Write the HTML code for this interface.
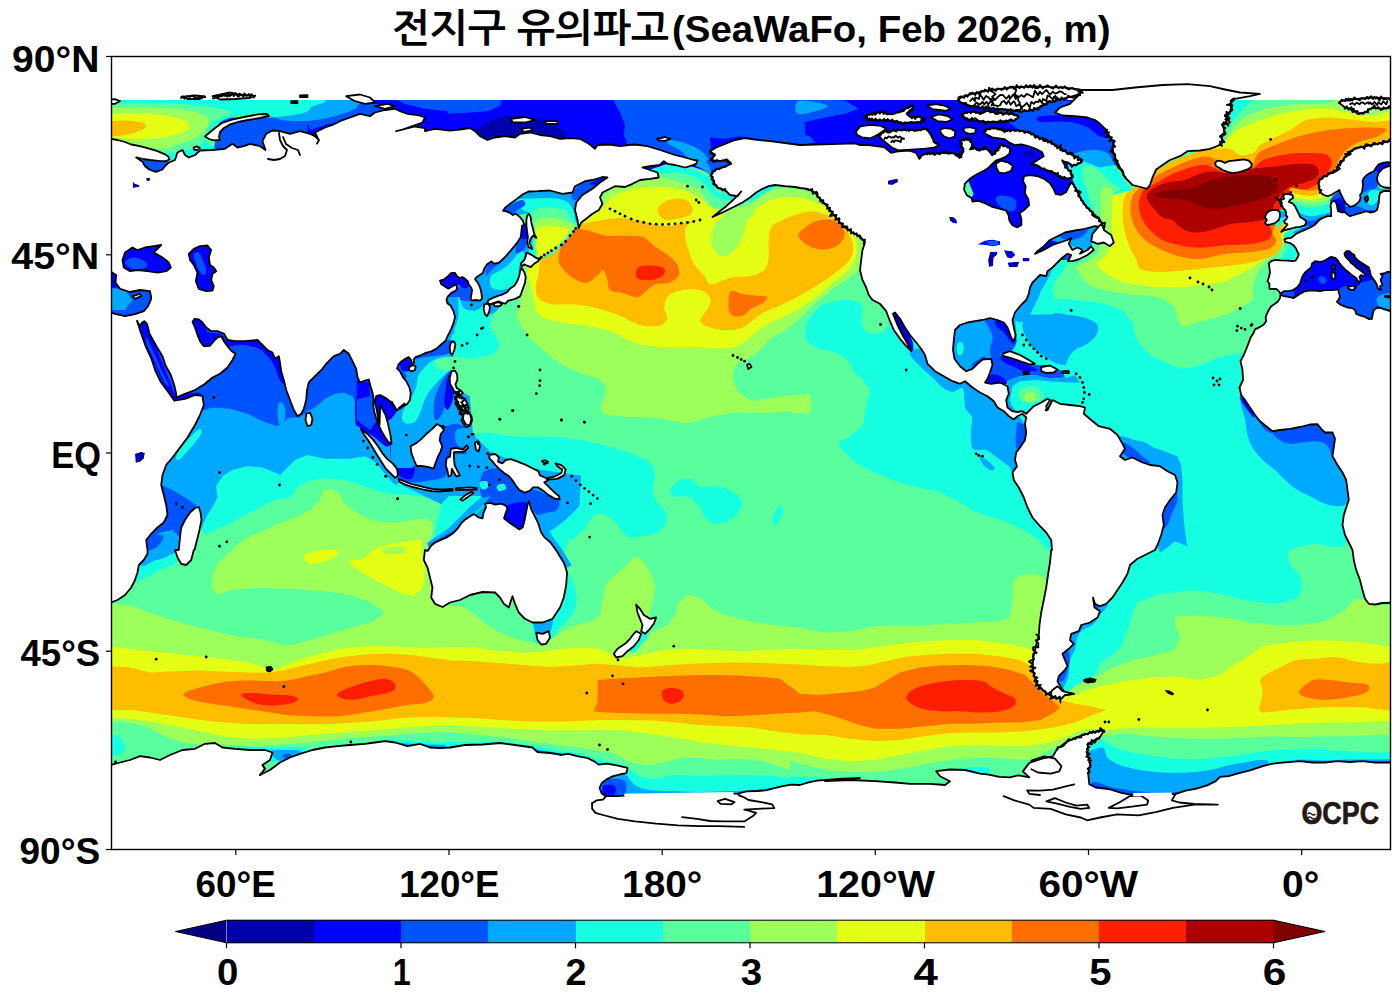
<!DOCTYPE html>
<html lang="ko"><head><meta charset="utf-8"><title>전지구 유의파고</title>
<style>
html,body{margin:0;padding:0;background:#fff;}
body{width:1400px;height:1003px;overflow:hidden;position:relative;font-family:"Liberation Sans","NanumGothic","Noto Sans CJK KR",sans-serif;}
svg{position:absolute;left:0;top:0;display:block}
text{font-family:"Liberation Sans","NanumGothic","Noto Sans CJK KR",sans-serif;font-weight:bold;fill:#000}
.ld{fill:#fff;stroke:#000;stroke-width:1.8;stroke-linejoin:round}
.ln{fill:none;stroke:#000;stroke-width:1.8;stroke-linejoin:round;stroke-linecap:round}
</style></head><body>
<svg width="1400" height="1003" viewBox="0 0 1400 1003">
<defs><clipPath id="fr"><rect x="111.5" y="56.5" width="1279.0" height="793.0"/></clipPath>
<clipPath id="dt"><rect x="111.5" y="100" width="1279.0" height="749.5"/></clipPath></defs>
<rect x="0" y="0" width="1400" height="1003" fill="#fff"/>

<g clip-path="url(#dt)" shape-rendering="geometricPrecision">
<polygon points="100.0,100.0 1400.0,100.0 1400.0,860.0 100.0,860.0" fill="#5aff9d"/>
<path d="M1225.0 97.5 C1233.3 91.7 1260.8 96.5 1265.0 97.5 C1269.2 98.5 1254.2 101.2 1250.0 103.8 C1245.8 106.2 1243.3 109.0 1240.0 112.5 C1236.7 116.0 1232.9 121.2 1230.0 125.0 C1227.1 128.8 1225.0 133.8 1222.5 135.0 C1220.0 136.2 1214.6 138.8 1215.0 132.5 C1215.4 126.2 1216.7 103.3 1225.0 97.5Z" fill="#16ffe1"/>
<path d="M1265.0 97.5 C1280.0 96.5 1330.0 96.9 1340.0 97.5 C1350.0 98.1 1331.7 100.5 1325.0 101.2 C1318.3 102.0 1308.3 101.2 1300.0 101.8 C1291.7 102.2 1282.5 102.9 1275.0 104.2 C1267.5 105.6 1260.4 107.6 1255.0 110.0 C1249.6 112.4 1245.8 115.4 1242.5 118.8 C1239.2 122.1 1237.5 126.5 1235.0 130.0 C1232.5 133.5 1229.6 139.2 1227.5 140.0 C1225.4 140.8 1222.1 137.5 1222.5 135.0 C1222.9 132.5 1227.1 128.8 1230.0 125.0 C1232.9 121.2 1236.7 116.0 1240.0 112.5 C1243.3 109.0 1245.8 106.2 1250.0 103.8 C1254.2 101.2 1250.0 98.5 1265.0 97.5Z" fill="#5aff9d"/>
<path d="M1400.0 100.0 C1406.2 120.2 1402.9 204.6 1400.0 225.0 C1397.1 245.4 1387.1 225.0 1382.5 222.5 C1377.9 220.0 1377.9 215.4 1372.5 210.0 C1367.1 204.6 1356.7 191.7 1350.0 190.0 C1343.3 188.3 1336.7 196.7 1332.5 200.0 C1328.3 203.3 1329.2 205.8 1325.0 210.0 C1320.8 214.2 1312.1 221.7 1307.5 225.0 C1302.9 228.3 1300.4 229.0 1297.5 230.0 C1294.6 231.0 1291.9 230.0 1290.0 231.2 C1288.1 232.5 1287.3 235.4 1286.2 237.5 C1285.2 239.6 1284.8 241.7 1283.8 243.8 C1282.7 245.8 1281.5 248.1 1280.0 250.0 C1278.5 251.9 1276.9 253.3 1275.0 255.0 C1273.1 256.7 1270.8 258.1 1268.8 260.0 C1266.7 261.9 1264.4 264.0 1262.5 266.2 C1260.6 268.5 1259.0 271.0 1257.5 273.8 C1256.0 276.5 1254.8 278.1 1253.8 282.5 C1252.7 286.9 1253.5 295.8 1251.2 300.0 C1249.0 304.2 1244.4 305.0 1240.0 307.5 C1235.6 310.0 1230.0 313.1 1225.0 315.0 C1220.0 316.9 1215.4 317.3 1210.0 318.8 C1204.6 320.2 1197.1 322.5 1192.5 323.8 C1187.9 325.0 1185.0 327.3 1182.5 326.2 C1180.0 325.2 1178.8 320.6 1177.5 317.5 C1176.2 314.4 1176.7 310.4 1175.0 307.5 C1173.3 304.6 1171.7 301.9 1167.5 300.0 C1163.3 298.1 1157.1 297.3 1150.0 296.2 C1142.9 295.2 1134.2 295.2 1125.0 293.8 C1115.8 292.3 1102.5 290.6 1095.0 287.5 C1087.5 284.4 1082.9 278.8 1080.0 275.0 C1077.1 271.2 1075.4 267.9 1077.5 265.0 C1079.6 262.1 1088.5 260.4 1092.5 257.5 C1096.5 254.6 1099.4 251.2 1101.2 247.5 C1103.1 243.8 1103.8 239.2 1103.8 235.0 C1103.8 230.8 1101.9 227.5 1101.2 222.5 C1100.6 217.5 1099.6 210.4 1100.0 205.0 C1100.4 199.6 1101.2 193.3 1103.8 190.0 C1106.2 186.7 1110.2 185.0 1115.0 185.0 C1119.8 185.0 1126.7 190.8 1132.5 190.0 C1138.3 189.2 1144.2 183.8 1150.0 180.0 C1155.8 176.2 1160.8 171.2 1167.5 167.5 C1174.2 163.8 1182.9 160.4 1190.0 157.5 C1197.1 154.6 1204.6 151.9 1210.0 150.0 C1215.4 148.1 1219.2 149.2 1222.5 146.2 C1225.8 143.3 1227.1 136.7 1230.0 132.5 C1232.9 128.3 1235.8 124.6 1240.0 121.2 C1244.2 117.9 1249.2 114.9 1255.0 112.5 C1260.8 110.1 1267.5 108.4 1275.0 107.0 C1282.5 105.6 1291.7 104.6 1300.0 104.0 C1308.3 103.4 1318.3 104.2 1325.0 103.5 C1331.7 102.8 1333.8 100.0 1340.0 100.0 C1346.2 100.0 1352.5 103.8 1362.5 103.8 C1372.5 103.8 1393.8 79.8 1400.0 100.0Z" fill="#9dff5a"/>
<path d="M1400.0 112.5 C1404.2 119.1 1402.9 148.8 1400.0 155.0 C1397.1 161.2 1389.6 149.2 1382.5 150.0 C1375.4 150.8 1364.2 155.0 1357.5 160.0 C1350.8 165.0 1347.1 175.0 1342.5 180.0 C1337.9 185.0 1334.6 187.1 1330.0 190.0 C1325.4 192.9 1319.2 194.2 1315.0 197.5 C1310.8 200.8 1307.9 205.8 1305.0 210.0 C1302.1 214.2 1299.8 218.8 1297.5 222.5 C1295.2 226.2 1293.3 229.6 1291.2 232.5 C1289.2 235.4 1286.9 237.9 1285.0 240.0 C1283.1 242.1 1281.7 243.3 1280.0 245.0 C1278.3 246.7 1277.1 248.1 1275.0 250.0 C1272.9 251.9 1270.0 254.2 1267.5 256.2 C1265.0 258.2 1262.7 260.0 1260.0 262.0 C1257.3 264.0 1254.2 266.2 1251.2 268.0 C1248.3 269.8 1245.4 271.5 1242.5 273.0 C1239.6 274.5 1236.7 275.6 1233.8 277.0 C1230.8 278.4 1230.6 279.8 1225.0 281.2 C1219.4 282.7 1208.3 284.5 1200.0 285.5 C1191.7 286.5 1183.3 287.4 1175.0 287.5 C1166.7 287.6 1158.3 287.1 1150.0 286.2 C1141.7 285.4 1132.5 284.8 1125.0 282.5 C1117.5 280.2 1109.8 275.8 1105.0 272.5 C1100.2 269.2 1096.5 265.0 1096.2 262.5 C1096.0 260.0 1101.5 260.0 1103.8 257.5 C1106.0 255.0 1108.5 251.2 1110.0 247.5 C1111.5 243.8 1112.3 239.6 1112.5 235.0 C1112.7 230.4 1111.5 225.0 1111.2 220.0 C1111.0 215.0 1110.8 209.8 1111.2 205.0 C1111.7 200.2 1111.5 193.8 1113.8 191.2 C1116.0 188.8 1120.6 190.6 1125.0 190.0 C1129.4 189.4 1135.0 190.0 1140.0 187.5 C1145.0 185.0 1149.6 179.0 1155.0 175.0 C1160.4 171.0 1166.7 167.1 1172.5 163.8 C1178.3 160.4 1183.8 157.6 1190.0 155.0 C1196.2 152.4 1204.6 150.1 1210.0 148.0 C1215.4 145.9 1219.2 144.5 1222.5 142.5 C1225.8 140.5 1227.1 138.5 1230.0 136.2 C1232.9 134.0 1235.4 131.2 1240.0 128.8 C1244.6 126.2 1251.7 123.5 1257.5 121.2 C1263.3 119.0 1269.6 117.0 1275.0 115.5 C1280.4 114.0 1284.2 113.1 1290.0 112.0 C1295.8 110.9 1303.3 109.5 1310.0 109.0 C1316.7 108.5 1323.3 108.4 1330.0 109.0 C1336.7 109.6 1342.5 111.4 1350.0 112.5 C1357.5 113.6 1366.7 115.5 1375.0 115.5 C1383.3 115.5 1395.8 105.9 1400.0 112.5Z" fill="#e4ff13"/>
<path d="M1400.0 122.5 C1404.6 126.8 1402.9 143.8 1400.0 147.5 C1397.1 151.2 1389.2 144.2 1382.5 145.0 C1375.8 145.8 1366.2 148.8 1360.0 152.5 C1353.8 156.2 1349.6 162.5 1345.0 167.5 C1340.4 172.5 1336.7 178.1 1332.5 182.5 C1328.3 186.9 1324.2 190.8 1320.0 193.8 C1315.8 196.7 1311.2 198.1 1307.5 200.0 C1303.8 201.9 1300.4 202.5 1297.5 205.0 C1294.6 207.5 1292.3 211.7 1290.0 215.0 C1287.7 218.3 1285.2 221.7 1283.8 225.0 C1282.3 228.3 1281.5 231.9 1281.2 235.0 C1281.0 238.1 1283.3 240.6 1282.5 243.8 C1281.7 246.9 1279.6 251.1 1276.2 253.8 C1272.9 256.4 1267.7 257.8 1262.5 259.5 C1257.3 261.2 1251.2 262.6 1245.0 263.8 C1238.8 264.9 1232.5 265.4 1225.0 266.2 C1217.5 267.1 1208.3 267.9 1200.0 268.8 C1191.7 269.6 1182.5 270.7 1175.0 271.2 C1167.5 271.8 1160.8 272.4 1155.0 272.0 C1149.2 271.6 1143.1 270.8 1140.0 268.8 C1136.9 266.8 1137.8 263.3 1136.2 260.0 C1134.7 256.7 1132.3 252.9 1130.5 248.8 C1128.7 244.6 1126.8 239.8 1125.5 235.0 C1124.2 230.2 1123.4 225.0 1123.0 220.0 C1122.6 215.0 1122.5 209.4 1123.0 205.0 C1123.5 200.6 1124.0 196.9 1126.2 193.8 C1128.5 190.6 1132.3 189.4 1136.2 186.2 C1140.2 183.1 1144.8 178.8 1150.0 175.0 C1155.2 171.2 1161.7 166.9 1167.5 163.8 C1173.3 160.6 1179.6 158.3 1185.0 156.2 C1190.4 154.2 1195.0 152.5 1200.0 151.2 C1205.0 150.0 1210.0 149.2 1215.0 148.8 C1220.0 148.3 1225.8 147.7 1230.0 148.8 C1234.2 149.8 1236.0 154.4 1240.0 155.0 C1244.0 155.6 1250.4 154.2 1253.8 152.5 C1257.1 150.8 1256.5 147.5 1260.0 145.0 C1263.5 142.5 1270.0 140.0 1275.0 137.5 C1280.0 135.0 1285.8 132.4 1290.0 130.0 C1294.2 127.6 1296.7 124.8 1300.0 123.0 C1303.3 121.2 1305.0 119.9 1310.0 119.0 C1315.0 118.1 1323.3 117.4 1330.0 117.5 C1336.7 117.6 1342.9 118.8 1350.0 119.5 C1357.1 120.2 1364.2 121.5 1372.5 122.0 C1380.8 122.5 1395.4 118.2 1400.0 122.5Z" fill="#ffbd00"/>
<path d="M1386.2 130.5 C1385.2 132.0 1380.8 135.1 1376.2 137.0 C1371.7 138.9 1363.8 139.8 1358.8 142.0 C1353.8 144.2 1349.6 147.0 1346.2 150.0 C1342.9 153.0 1340.8 156.7 1338.8 160.0 C1336.7 163.3 1336.0 166.2 1333.8 170.0 C1331.5 173.8 1328.1 179.0 1325.0 182.5 C1321.9 186.0 1318.3 189.0 1315.0 191.2 C1311.7 193.5 1308.1 194.8 1305.0 196.2 C1301.9 197.7 1299.2 197.7 1296.2 200.0 C1293.3 202.3 1290.6 206.2 1287.5 210.0 C1284.4 213.8 1280.0 218.8 1277.5 222.5 C1275.0 226.2 1272.7 229.5 1272.5 232.5 C1272.3 235.5 1276.6 237.9 1276.2 240.5 C1275.9 243.1 1274.0 246.2 1270.5 248.0 C1267.0 249.8 1262.6 250.5 1255.0 251.5 C1247.4 252.5 1234.2 252.8 1225.0 254.0 C1215.8 255.2 1207.5 258.6 1200.0 259.0 C1192.5 259.4 1186.7 258.2 1180.0 256.5 C1173.3 254.8 1165.8 251.7 1160.0 249.0 C1154.2 246.3 1149.6 244.0 1145.5 240.5 C1141.4 237.0 1138.0 232.6 1135.5 228.0 C1133.0 223.4 1131.4 217.7 1130.8 213.0 C1130.1 208.3 1130.6 203.6 1131.5 200.0 C1132.4 196.4 1132.3 195.1 1136.2 191.2 C1140.2 187.4 1148.5 180.9 1155.0 176.8 C1161.5 172.6 1169.2 169.2 1175.0 166.5 C1180.8 163.8 1185.0 161.9 1190.0 160.2 C1195.0 158.6 1200.6 156.5 1205.0 156.5 C1209.4 156.5 1212.9 158.2 1216.2 160.0 C1219.6 161.8 1219.4 166.2 1225.0 167.5 C1230.6 168.8 1244.9 169.1 1250.0 167.5 C1255.1 165.9 1253.8 160.7 1255.5 158.0 C1257.2 155.3 1257.2 153.7 1260.5 151.5 C1263.8 149.3 1269.2 147.3 1275.0 145.0 C1280.8 142.7 1288.3 139.6 1295.0 137.5 C1301.7 135.4 1307.9 133.9 1315.0 132.5 C1322.1 131.1 1329.6 129.8 1337.5 129.0 C1345.4 128.2 1355.0 127.7 1362.5 127.5 C1370.0 127.3 1378.5 127.5 1382.5 128.0 C1386.5 128.5 1387.3 129.0 1386.2 130.5Z" fill="#ff6f00"/>
<path d="M1322.5 153.5 C1327.1 154.2 1328.5 155.6 1330.0 157.5 C1331.5 159.4 1332.2 162.1 1331.5 165.0 C1330.8 167.9 1328.2 171.7 1325.5 175.0 C1322.8 178.3 1318.5 182.7 1315.5 185.0 C1312.5 187.3 1310.5 188.2 1307.5 189.0 C1304.5 189.8 1300.4 188.6 1297.5 190.0 C1294.6 191.4 1292.9 194.2 1290.0 197.5 C1287.1 200.8 1283.3 205.8 1280.0 210.0 C1276.7 214.2 1271.3 218.8 1270.0 222.5 C1268.7 226.2 1272.3 229.2 1272.0 232.0 C1271.7 234.8 1271.7 237.5 1268.0 239.5 C1264.3 241.5 1257.2 243.0 1250.0 244.0 C1242.8 245.0 1233.3 244.6 1225.0 245.2 C1216.7 245.9 1207.5 247.8 1200.0 247.8 C1192.5 247.8 1186.2 246.5 1180.0 245.2 C1173.8 244.0 1167.9 242.7 1163.0 240.2 C1158.1 237.8 1153.8 233.8 1150.5 230.5 C1147.2 227.2 1144.9 224.2 1143.0 220.5 C1141.1 216.8 1139.5 211.8 1139.0 208.0 C1138.5 204.2 1139.2 201.0 1140.0 198.0 C1140.8 195.0 1140.8 192.7 1143.8 190.0 C1146.8 187.3 1153.5 184.5 1158.0 182.0 C1162.5 179.5 1165.2 177.4 1170.5 175.0 C1175.8 172.6 1184.2 169.2 1190.0 167.5 C1195.8 165.8 1200.8 164.6 1205.0 164.8 C1209.2 164.9 1210.8 167.0 1215.0 168.5 C1219.2 170.0 1224.2 173.5 1230.0 173.8 C1235.8 174.0 1244.5 172.2 1250.0 170.0 C1255.5 167.8 1257.6 162.8 1263.0 160.2 C1268.4 157.8 1275.9 156.2 1282.5 155.0 C1289.1 153.8 1295.8 153.2 1302.5 153.0 C1309.2 152.8 1317.9 152.8 1322.5 153.5Z" fill="#ff1e00"/>
<path d="M1146.8 195.0 C1147.8 192.5 1151.5 189.6 1155.0 187.5 C1158.5 185.4 1162.5 183.8 1167.5 182.5 C1172.5 181.2 1179.6 181.5 1185.0 180.0 C1190.4 178.5 1195.0 175.2 1200.0 173.8 C1205.0 172.3 1210.0 171.6 1215.0 171.5 C1220.0 171.4 1224.2 173.4 1230.0 173.0 C1235.8 172.6 1242.5 170.1 1250.0 169.0 C1257.5 167.9 1267.5 167.3 1275.0 166.5 C1282.5 165.7 1288.8 164.3 1295.0 164.0 C1301.2 163.7 1308.5 163.5 1312.5 164.5 C1316.5 165.5 1318.1 167.8 1318.8 170.0 C1319.4 172.2 1318.5 175.4 1316.2 177.5 C1314.0 179.6 1309.4 181.0 1305.0 182.5 C1300.6 184.0 1294.2 184.4 1290.0 186.5 C1285.8 188.6 1282.7 191.9 1280.0 195.0 C1277.3 198.1 1275.7 201.7 1274.0 205.0 C1272.3 208.3 1271.9 212.5 1270.0 215.0 C1268.1 217.5 1266.7 218.8 1262.5 220.0 C1258.3 221.2 1250.4 221.8 1245.0 222.5 C1239.6 223.2 1235.0 222.9 1230.0 224.0 C1225.0 225.1 1220.0 227.6 1215.0 229.0 C1210.0 230.4 1204.6 232.1 1200.0 232.5 C1195.4 232.9 1191.0 232.3 1187.5 231.2 C1184.0 230.2 1181.2 228.1 1178.8 226.2 C1176.2 224.4 1175.2 221.5 1172.5 220.0 C1169.8 218.5 1165.4 219.2 1162.5 217.5 C1159.6 215.8 1157.2 212.5 1155.0 210.0 C1152.8 207.5 1150.4 205.0 1149.0 202.5 C1147.6 200.0 1145.8 197.5 1146.8 195.0Z" fill="#ad0000"/>
<path d="M1156.2 193.8 C1157.9 192.5 1164.4 190.8 1170.0 190.0 C1175.6 189.2 1184.2 190.0 1190.0 188.8 C1195.8 187.5 1199.2 184.4 1205.0 182.5 C1210.8 180.6 1217.5 178.8 1225.0 177.5 C1232.5 176.2 1242.9 175.2 1250.0 175.0 C1257.1 174.8 1263.3 175.4 1267.5 176.2 C1271.7 177.1 1273.3 178.3 1275.0 180.0 C1276.7 181.7 1277.9 184.0 1277.5 186.2 C1277.1 188.5 1275.0 191.7 1272.5 193.8 C1270.0 195.8 1266.2 197.3 1262.5 198.8 C1258.8 200.2 1255.0 201.2 1250.0 202.5 C1245.0 203.8 1238.3 205.2 1232.5 206.2 C1226.7 207.3 1220.4 208.8 1215.0 208.8 C1209.6 208.8 1204.2 207.5 1200.0 206.2 C1195.8 205.0 1194.2 202.5 1190.0 201.2 C1185.8 200.0 1180.0 199.4 1175.0 198.8 C1170.0 198.1 1163.1 198.3 1160.0 197.5 C1156.9 196.7 1154.6 195.0 1156.2 193.8Z" fill="#800000"/>
<path d="M1291.2 187.8 C1293.0 187.2 1296.9 189.0 1300.0 189.5 C1303.1 190.0 1306.9 190.9 1310.0 190.8 C1313.1 190.6 1316.5 189.8 1318.8 188.8 C1321.0 187.8 1322.5 184.8 1323.8 184.8 C1325.0 184.8 1326.7 187.5 1326.2 188.8 C1325.8 190.0 1322.7 191.4 1321.2 192.5 C1319.8 193.6 1319.4 194.6 1317.5 195.2 C1315.6 195.9 1312.9 196.5 1310.0 196.5 C1307.1 196.5 1303.4 195.9 1300.0 195.2 C1296.6 194.6 1291.2 193.8 1289.8 192.5 C1288.3 191.2 1289.5 188.2 1291.2 187.8Z" fill="#ffbd00"/>
<polygon points="1290.0,192.1 1300.0,195.0 1310.0,196.2 1317.5,195.0 1321.2,192.1 1337.5,192.5 1337.5,220.0 1306.2,230.0 1295.0,225.0 1292.5,211.2 1287.5,200.0" fill="#e4ff13"/>
<polygon points="1290.6,195.9 1300.0,198.5 1310.0,200.0 1320.0,198.5 1326.2,195.9 1337.5,195.0 1337.5,220.0 1306.2,230.0 1295.0,225.0 1292.5,211.2 1287.5,200.0" fill="#9dff5a"/>
<polygon points="1291.9,199.5 1302.5,202.5 1312.5,203.8 1322.5,202.1 1330.0,199.0 1337.5,197.5 1337.5,220.0 1306.2,230.0 1295.0,225.0 1292.5,211.2" fill="#5aff9d"/>
<polygon points="1293.1,203.1 1302.5,206.2 1312.5,207.5 1322.5,206.0 1331.2,202.8 1337.5,201.2 1337.5,220.0 1306.2,230.0 1295.0,225.0 1295.0,211.2" fill="#16ffe1"/>
<polygon points="1298.8,212.8 1305.0,215.2 1312.5,216.2 1320.0,215.0 1331.2,211.9 1337.5,211.2 1337.5,220.0 1306.2,230.0 1300.0,225.0" fill="#00a8ff"/>
<polygon points="1303.8,219.4 1310.0,221.2 1315.6,220.0 1320.0,217.5 1325.0,217.5 1325.0,225.0 1306.2,230.0" fill="#0054ff"/>
<polygon points="1330.0,200.0 1333.8,195.0 1339.4,191.2 1343.1,197.5 1346.9,203.8 1350.0,210.0 1345.0,215.0 1337.5,215.0 1332.5,210.0" fill="#0054ff"/>
<polygon points="1335.0,200.0 1340.0,197.5 1343.8,201.9 1346.9,206.9 1345.0,212.5 1337.5,212.5 1335.0,207.5" fill="#0001ff"/>
<polygon points="1335.6,205.0 1341.2,203.8 1345.6,208.1 1343.8,211.9 1337.5,211.2" fill="#0000ad"/>
<polygon points="1345.0,205.0 1355.0,203.8 1361.2,197.5 1361.2,188.8 1363.8,177.5 1370.0,172.5 1380.0,188.8 1391.2,187.5 1391.2,202.5 1380.0,205.0 1378.8,215.0 1350.0,217.5" fill="#00a8ff"/>
<polygon points="1345.0,207.5 1352.5,205.0 1358.8,206.2 1366.2,210.0 1375.0,210.0 1377.5,215.0 1350.0,217.5 1346.2,213.8" fill="#0054ff"/>
<path d="M1368.8 192.5 C1369.8 190.8 1372.0 190.2 1373.8 190.0 C1375.5 189.8 1378.5 190.0 1379.4 191.2 C1380.2 192.5 1379.5 195.4 1378.8 197.5 C1378.0 199.6 1376.5 202.5 1375.0 203.8 C1373.5 205.0 1371.2 205.6 1370.0 205.0 C1368.8 204.4 1367.7 202.1 1367.5 200.0 C1367.3 197.9 1367.7 194.2 1368.8 192.5Z" fill="#16ffe1"/>
<polygon points="1361.2,188.8 1361.9,180.0 1366.2,175.0 1371.2,172.5 1376.9,167.5 1380.0,171.2 1376.9,177.5 1378.1,185.0 1375.0,188.8 1368.8,190.0 1363.8,192.5" fill="#0054ff"/>
<polygon points="1375.0,170.0 1377.5,165.0 1382.5,162.2 1391.2,161.9 1391.2,167.5 1383.8,168.8 1378.8,172.5" fill="#0001ff"/>
<polygon points="1379.4,192.5 1390.0,191.9 1390.0,202.5 1381.2,201.2" fill="#0001ff"/>
<path d="M1363.8 197.5 C1364.1 196.4 1366.7 195.2 1367.5 195.6 C1368.3 196.0 1369.1 198.9 1368.8 200.0 C1368.4 201.1 1366.5 202.9 1365.6 202.5 C1364.8 202.1 1363.4 198.6 1363.8 197.5Z" fill="#0000ad"/>
<polygon points="1278.8,210.0 1290.0,210.0 1290.0,220.0 1283.8,222.5 1278.8,227.5 1275.0,225.0 1280.0,217.5" fill="#16ffe1"/>
<polygon points="1280.6,211.2 1287.5,211.2 1287.5,217.5 1281.2,217.5" fill="#00a8ff"/>
<polygon points="1283.8,233.8 1290.0,230.0 1300.0,227.5 1307.5,226.2 1312.5,228.8 1305.0,233.8 1295.0,237.5 1287.5,240.0 1283.8,238.8" fill="#16ffe1"/>
<polygon points="1292.5,231.9 1300.0,228.8 1307.5,226.9 1312.5,228.8 1306.2,231.9 1296.2,235.0" fill="#00a8ff"/>
<polygon points="1300.0,228.8 1307.5,226.9 1311.2,228.1 1305.0,230.6" fill="#0054ff"/>
<polygon points="90.0,603.8 111.2,603.8 135.0,606.2 145.0,611.2 162.5,617.0 187.5,624.5 212.5,630.5 237.5,636.8 262.5,639.2 285.0,645.5 300.0,643.0 325.0,635.5 350.0,628.0 375.0,620.5 383.8,612.5 370.0,602.0 350.0,595.0 325.0,591.2 287.5,588.8 255.0,588.0 230.0,590.0 217.5,595.0 211.2,587.5 212.5,575.0 217.5,563.8 227.5,553.8 240.0,545.0 275.0,535.0 325.0,520.0 375.0,515.0 412.5,517.5 435.0,535.0 432.5,565.0 433.8,587.5 436.2,603.8 450.0,605.5 462.5,606.2 475.0,615.0 487.5,625.0 500.0,632.5 515.0,638.8 532.5,643.0 550.0,640.0 560.0,632.5 570.0,627.5 580.0,623.8 592.5,621.2 600.0,615.0 602.5,600.0 605.0,585.0 615.0,575.0 627.5,565.0 635.0,556.2 642.5,560.0 650.0,572.5 655.0,585.0 653.8,597.5 650.0,610.0 650.0,632.5 657.5,630.0 667.5,625.0 675.0,615.0 678.8,602.5 687.5,595.0 700.0,597.5 710.0,607.5 725.0,615.0 750.0,621.2 775.0,625.0 800.0,628.0 825.0,632.5 850.0,631.2 875.0,626.2 900.0,625.0 925.0,625.0 950.0,623.8 975.0,622.5 1000.0,621.2 1010.0,617.5 1012.5,600.0 1012.5,582.5 1020.0,575.0 1035.0,573.8 1043.8,577.5 1050.0,587.5 1075.0,650.0 1087.5,680.0 1100.0,675.0 1112.5,667.5 1130.0,661.2 1150.0,656.2 1175.0,650.0 1180.0,637.5 1175.0,625.0 1175.0,616.2 1200.0,615.5 1225.0,617.5 1250.0,622.5 1275.0,625.0 1300.0,625.0 1325.0,621.2 1345.0,610.0 1355.0,598.8 1365.0,600.0 1375.0,605.5 1410.0,603.8 1410.0,733.8 1375.0,735.0 1350.0,736.2 1325.0,736.2 1300.0,737.0 1275.0,736.2 1250.0,737.5 1225.0,738.8 1200.0,738.8 1175.0,738.0 1150.0,736.2 1125.0,733.8 1105.0,735.0 1075.0,740.0 1050.0,750.0 1030.0,760.0 1010.0,758.8 985.0,757.5 960.0,758.8 935.0,762.5 910.0,767.5 885.0,771.2 860.0,772.5 835.0,771.2 815.0,767.5 800.0,775.0 782.5,767.5 762.5,761.2 740.0,758.8 720.0,760.0 700.0,758.0 682.5,757.5 667.5,761.2 650.0,765.5 630.0,762.5 612.5,753.0 587.5,748.8 550.0,743.8 500.0,737.0 450.0,732.0 425.0,732.8 400.0,734.5 375.0,736.5 350.0,738.0 325.0,740.5 300.0,743.0 275.0,745.0 250.0,746.0 225.0,744.5 200.0,745.0 182.5,742.5 165.0,736.2 152.5,730.0 140.0,725.0 125.0,722.5 111.2,722.5 90.0,722.5" fill="#9dff5a"/>
<path d="M136.2 598.8 C137.5 596.7 140.6 594.4 145.0 592.5 C149.4 590.6 155.4 588.8 162.5 587.5 C169.6 586.2 179.6 585.0 187.5 585.0 C195.4 585.0 205.6 585.4 210.0 587.5 C214.4 589.6 210.4 596.9 213.8 597.5 C217.1 598.1 223.1 592.7 230.0 591.2 C236.9 589.8 245.4 589.0 255.0 588.8 C264.6 588.5 275.8 589.0 287.5 589.5 C299.2 590.0 314.6 591.0 325.0 592.0 C335.4 593.0 342.5 593.9 350.0 595.8 C357.5 597.6 364.5 600.2 370.0 603.0 C375.5 605.8 382.2 609.7 383.0 612.5 C383.8 615.3 380.5 617.5 375.0 620.0 C369.5 622.5 358.3 625.0 350.0 627.5 C341.7 630.0 333.3 632.5 325.0 635.0 C316.7 637.5 306.7 640.8 300.0 642.5 C293.3 644.2 291.2 645.6 285.0 645.0 C278.8 644.4 270.4 640.2 262.5 638.8 C254.6 637.3 245.8 637.7 237.5 636.2 C229.2 634.8 220.8 632.1 212.5 630.0 C204.2 627.9 195.8 626.0 187.5 623.8 C179.2 621.5 169.6 618.5 162.5 616.2 C155.4 614.0 149.2 611.9 145.0 610.0 C140.8 608.1 139.0 606.9 137.5 605.0 C136.0 603.1 135.0 600.8 136.2 598.8Z" fill="#5aff9d"/>
<polygon points="90.0,647.0 111.2,647.0 130.0,648.8 150.0,651.2 175.0,653.8 200.0,656.2 225.0,659.2 250.0,662.5 265.0,667.5 275.0,669.5 285.0,665.0 300.0,659.5 320.0,653.8 340.0,648.8 362.5,646.2 387.5,646.2 412.5,647.5 430.0,648.0 450.0,647.0 475.0,647.5 500.0,651.2 525.0,653.0 545.0,651.2 562.5,648.8 580.0,647.5 600.0,648.8 615.0,656.2 625.0,658.8 640.0,655.0 665.0,650.0 690.0,648.8 715.0,650.0 740.0,651.2 765.0,650.0 800.0,648.8 825.0,650.0 850.0,650.0 875.0,647.5 900.0,643.8 925.0,641.2 950.0,640.0 975.0,640.0 1000.0,642.5 1020.0,646.2 1033.8,650.0 1050.0,662.5 1065.0,696.2 1075.0,695.0 1087.5,690.0 1100.0,686.2 1125.0,681.2 1150.0,677.5 1175.0,676.2 1200.0,680.0 1220.0,675.0 1230.0,667.5 1250.0,655.0 1262.5,646.2 1287.5,642.5 1312.5,640.5 1337.5,640.5 1362.5,642.5 1385.0,646.2 1410.0,648.0 1410.0,720.0 1375.0,721.2 1350.0,722.5 1325.0,722.5 1300.0,723.8 1275.0,725.0 1250.0,726.2 1225.0,727.0 1200.0,728.0 1175.0,728.0 1150.0,727.5 1125.0,728.0 1105.0,730.0 1087.5,728.8 1075.0,732.5 1065.0,737.5 1050.0,742.5 1025.0,746.2 1000.0,746.2 975.0,745.0 950.0,746.2 925.0,750.0 900.0,755.0 875.0,760.0 850.0,761.2 825.0,758.8 800.0,753.0 775.0,750.0 750.0,747.5 725.0,745.0 700.0,742.0 675.0,737.5 650.0,733.8 625.0,730.5 600.0,730.0 575.0,730.5 550.0,730.5 525.0,729.5 500.0,728.0 475.0,726.8 450.0,725.0 425.0,726.2 400.0,728.0 375.0,730.5 350.0,732.0 325.0,733.8 300.0,736.2 275.0,738.0 250.0,738.8 225.0,736.2 200.0,731.2 175.0,726.2 150.0,721.2 130.0,718.8 111.2,717.5 90.0,717.5" fill="#e4ff13"/>
<polygon points="90.0,666.2 111.2,666.2 130.0,667.5 150.0,672.5 175.0,671.2 200.0,670.5 225.0,671.8 250.0,672.5 270.0,672.5 285.0,670.0 300.0,666.2 320.0,661.2 340.0,657.5 362.5,654.5 387.5,653.8 412.5,655.0 430.0,657.5 450.0,660.2 475.0,661.2 500.0,663.0 525.0,665.0 550.0,667.0 575.0,665.5 595.0,663.8 615.0,665.0 640.0,667.5 665.0,665.5 690.0,663.8 715.0,663.0 740.0,662.5 765.0,663.0 800.0,664.5 825.0,666.2 850.0,667.0 870.0,665.0 885.0,661.2 905.0,657.0 925.0,655.0 950.0,653.8 975.0,653.8 1000.0,656.2 1020.0,660.0 1031.2,666.2 1040.0,685.0 1060.0,700.0 1075.0,703.8 1090.0,706.2 1106.2,710.0 1106.2,710.0 1090.0,716.2 1075.0,722.5 1060.0,726.2 1045.0,728.8 1025.0,731.2 1000.0,732.5 975.0,732.5 950.0,733.0 925.0,736.2 900.0,740.0 875.0,741.2 850.0,738.8 825.0,735.0 800.0,734.5 775.0,731.2 750.0,727.5 725.0,726.2 700.0,725.0 675.0,722.5 650.0,720.5 625.0,720.0 600.0,720.0 575.0,721.2 550.0,721.8 525.0,721.2 500.0,720.0 475.0,718.0 450.0,717.2 425.0,716.8 400.0,718.0 375.0,721.2 350.0,723.0 325.0,724.2 300.0,724.2 275.0,723.8 250.0,724.2 225.0,722.5 200.0,720.0 175.0,716.2 150.0,712.5 130.0,710.0 111.2,710.0 90.0,710.0" fill="#ffbd00"/>
<path d="M1260.0 680.0 C1260.8 677.3 1263.8 676.0 1267.5 673.8 C1271.2 671.5 1277.9 668.5 1282.5 666.2 C1287.1 664.0 1289.6 661.8 1295.0 660.5 C1300.4 659.2 1308.3 659.3 1315.0 658.8 C1321.7 658.2 1328.3 656.6 1335.0 657.0 C1341.7 657.4 1348.3 660.1 1355.0 661.2 C1361.7 662.4 1365.8 663.1 1375.0 663.8 C1384.2 664.4 1404.2 657.3 1410.0 665.0 C1415.8 672.7 1414.2 702.5 1410.0 710.0 C1405.8 717.5 1392.9 710.4 1385.0 710.0 C1377.1 709.6 1370.4 708.0 1362.5 707.5 C1354.6 707.0 1345.8 706.9 1337.5 707.0 C1329.2 707.1 1320.8 707.5 1312.5 708.0 C1304.2 708.5 1294.6 709.3 1287.5 710.0 C1280.4 710.7 1274.7 711.8 1270.0 712.0 C1265.3 712.2 1261.0 713.2 1259.5 711.2 C1258.0 709.2 1260.8 703.5 1261.2 700.0 C1261.8 696.5 1262.7 693.3 1262.5 690.0 C1262.3 686.7 1259.2 682.7 1260.0 680.0Z" fill="#ffbd00"/>
<path d="M1299.5 691.2 C1300.1 689.6 1302.4 687.0 1305.0 685.0 C1307.6 683.0 1310.8 680.3 1315.0 679.5 C1319.2 678.7 1324.2 679.5 1330.0 680.0 C1335.8 680.5 1344.2 681.9 1350.0 682.5 C1355.8 683.1 1361.8 683.0 1365.0 683.8 C1368.2 684.5 1369.4 685.5 1369.5 687.0 C1369.6 688.5 1368.8 691.3 1365.5 693.0 C1362.2 694.7 1355.1 696.0 1350.0 697.0 C1344.9 698.0 1340.0 698.8 1335.0 699.2 C1330.0 699.7 1324.6 699.8 1320.0 699.5 C1315.4 699.2 1310.6 698.2 1307.5 697.5 C1304.4 696.8 1302.6 696.0 1301.2 695.0 C1299.9 694.0 1298.9 692.9 1299.5 691.2Z" fill="#ff6f00"/>
<path d="M183.8 693.8 C185.0 691.7 193.1 689.5 200.0 687.5 C206.9 685.5 216.7 683.2 225.0 682.0 C233.3 680.8 241.7 680.6 250.0 680.5 C258.3 680.4 268.3 681.3 275.0 681.2 C281.7 681.2 284.6 680.8 290.0 680.0 C295.4 679.2 301.7 677.5 307.5 676.2 C313.3 675.0 318.8 674.0 325.0 672.5 C331.2 671.0 338.3 668.2 345.0 667.0 C351.7 665.8 357.9 665.1 365.0 665.0 C372.1 664.9 380.4 665.4 387.5 666.2 C394.6 667.1 402.3 668.1 407.5 670.0 C412.7 671.9 415.0 674.2 418.8 677.5 C422.5 680.8 427.5 686.7 430.0 690.0 C432.5 693.3 434.6 695.3 433.8 697.5 C432.9 699.7 429.4 701.8 425.0 703.0 C420.6 704.2 413.8 704.0 407.5 705.0 C401.2 706.0 394.6 707.5 387.5 708.8 C380.4 710.0 372.9 711.2 365.0 712.5 C357.1 713.8 348.8 715.6 340.0 716.2 C331.2 716.9 321.2 716.5 312.5 716.2 C303.8 716.0 295.8 715.8 287.5 715.0 C279.2 714.2 270.8 712.5 262.5 711.2 C254.2 710.0 245.8 708.8 237.5 707.5 C229.2 706.2 220.0 705.0 212.5 703.8 C205.0 702.5 197.3 701.7 192.5 700.0 C187.7 698.3 182.5 695.8 183.8 693.8Z" fill="#ff6f00"/>
<polygon points="597.5,680.0 612.5,678.8 637.5,677.5 662.5,676.2 687.5,675.5 712.5,675.0 737.5,675.5 762.5,677.0 780.0,678.8 790.0,686.2 800.0,693.8 820.0,695.0 840.0,693.0 860.0,691.2 875.0,687.5 885.0,681.2 900.0,672.5 920.0,667.5 940.0,665.5 965.0,665.0 990.0,666.2 1010.0,670.0 1025.0,675.0 1035.0,685.0 1045.0,695.0 1055.0,702.5 1060.0,707.5 1060.0,707.5 1052.5,713.8 1040.0,720.0 1020.0,722.5 1000.0,722.5 975.0,723.8 950.0,723.8 925.0,726.2 900.0,728.8 875.0,728.8 860.0,725.0 845.0,720.0 830.0,715.0 815.0,711.2 800.0,712.5 775.0,713.8 750.0,715.5 725.0,716.2 700.0,714.5 675.0,713.8 650.0,713.8 625.0,713.0 605.0,712.5 593.8,711.2 597.5,702.5" fill="#ff6f00"/>
<path d="M241.2 695.0 C241.7 693.8 245.2 693.1 250.0 693.0 C254.8 692.9 263.3 694.1 270.0 694.5 C276.7 694.9 285.3 694.8 290.0 695.5 C294.7 696.2 297.6 697.5 298.0 698.8 C298.4 700.0 296.3 701.9 292.5 703.0 C288.7 704.1 280.4 705.2 275.0 705.5 C269.6 705.8 264.6 705.4 260.0 704.5 C255.4 703.6 250.6 701.6 247.5 700.0 C244.4 698.4 240.8 696.2 241.2 695.0Z" fill="#ff1e00"/>
<path d="M337.5 693.8 C338.8 691.9 344.6 689.6 350.0 687.5 C355.4 685.4 364.2 682.7 370.0 681.2 C375.8 679.8 381.0 678.5 385.0 678.8 C389.0 679.0 392.1 680.8 393.8 682.5 C395.4 684.2 396.0 687.0 395.0 688.8 C394.0 690.5 391.7 691.8 387.5 693.0 C383.3 694.2 375.4 695.2 370.0 696.2 C364.6 697.3 359.6 699.1 355.0 699.5 C350.4 699.9 345.4 699.7 342.5 698.8 C339.6 697.8 336.2 695.6 337.5 693.8Z" fill="#ff1e00"/>
<path d="M662.0 691.2 C663.0 689.2 667.0 688.3 670.0 688.0 C673.0 687.7 677.7 688.3 680.0 689.5 C682.3 690.7 683.8 693.0 683.8 695.0 C683.8 697.0 682.1 699.8 680.0 701.2 C677.9 702.7 674.0 704.0 671.2 703.8 C668.5 703.5 665.3 702.1 663.8 700.0 C662.2 697.9 661.0 693.2 662.0 691.2Z" fill="#ff1e00"/>
<path d="M906.2 697.5 C906.5 695.2 909.4 692.1 912.5 690.0 C915.6 687.9 919.6 686.5 925.0 685.0 C930.4 683.5 938.3 682.1 945.0 681.2 C951.7 680.4 958.8 680.0 965.0 680.0 C971.2 680.0 977.9 680.0 982.5 681.2 C987.1 682.5 988.8 685.4 992.5 687.5 C996.2 689.6 1001.2 691.9 1005.0 693.8 C1008.8 695.6 1013.5 696.7 1015.0 698.8 C1016.5 700.8 1016.2 704.2 1013.8 706.2 C1011.2 708.3 1005.6 710.2 1000.0 711.2 C994.4 712.3 986.7 712.5 980.0 712.5 C973.3 712.5 966.7 711.5 960.0 711.2 C953.3 711.0 946.2 711.7 940.0 711.2 C933.8 710.8 927.3 710.0 922.5 708.8 C917.7 707.5 914.0 705.6 911.2 703.8 C908.5 701.9 906.0 699.8 906.2 697.5Z" fill="#ff1e00"/>
<polygon points="448.0,547.5 444.5,532.5 448.0,522.5 448.0,508.0 444.5,502.5 437.5,499.5 426.2,497.8 414.8,495.5 403.2,494.5 391.8,494.5 380.2,492.0 368.8,488.0 357.2,484.0 346.0,480.5 334.5,479.0 323.0,478.2 311.5,480.5 300.0,485.0 290.0,497.5 275.0,500.0 260.0,507.5 245.0,515.0 230.0,523.8 217.5,528.8 205.0,535.0 195.0,550.0 175.0,560.0 137.5,560.0 125.0,560.0 90.0,560.0 90.0,290.0 460.0,290.0 460.0,560.0" fill="#16ffe1"/>
<polygon points="460.0,560.0 448.0,547.5 444.5,532.5 448.0,522.5 448.0,508.0 444.5,502.5 437.5,499.5 426.2,497.8 414.8,495.5 403.2,494.5 391.8,494.5 380.2,492.0 368.8,488.0 357.2,484.0 346.0,480.5 334.5,479.0 325.0,479.0 320.0,500.0 310.0,510.0 295.0,517.5 275.0,525.0 260.0,532.5 247.5,537.5 235.0,546.2 225.0,560.0 460.0,560.0" fill="#5aff9d"/>
<polygon points="430.0,560.0 427.2,547.0 430.8,538.0 433.0,528.8 432.0,522.0 426.2,518.5 414.8,519.5 403.2,522.0 391.8,522.5 380.2,522.0 368.8,519.5 360.8,515.0 351.5,509.0 343.0,502.0 340.0,493.8 332.5,489.5 323.8,490.0 320.0,500.0 310.0,510.0 295.0,517.5 275.0,525.0 260.0,532.5 247.5,537.5 235.0,546.2 225.0,560.0" fill="#9dff5a"/>
<path d="M350.0 558.8 C350.8 557.7 355.0 560.2 357.5 560.0 C360.0 559.8 362.7 558.9 365.0 557.5 C367.3 556.1 368.8 553.5 371.2 551.8 C373.8 550.0 376.6 548.3 380.0 547.0 C383.4 545.7 387.9 544.6 391.8 543.8 C395.6 542.9 399.4 542.5 403.2 542.0 C407.1 541.5 411.9 541.0 414.8 540.8 C417.6 540.5 419.3 539.1 420.5 540.2 C421.7 541.4 421.5 544.8 421.8 547.5 C422.0 550.2 421.4 553.6 421.8 556.2 C422.1 558.9 423.5 561.0 424.0 563.2 C424.5 565.5 424.9 568.0 425.0 570.0 C425.1 572.0 424.9 572.1 424.5 575.0 C424.1 577.9 424.5 584.2 422.5 587.5 C420.5 590.8 416.2 594.2 412.5 595.0 C408.8 595.8 405.4 594.6 400.0 592.5 C394.6 590.4 386.2 585.8 380.0 582.5 C373.8 579.2 367.1 575.2 362.5 572.5 C357.9 569.8 354.6 568.5 352.5 566.2 C350.4 564.0 349.2 559.8 350.0 558.8Z" fill="#e4ff13"/>
<path d="M382.5 550.0 C383.1 548.9 387.1 548.1 390.0 547.5 C392.9 546.9 397.5 546.0 400.0 546.2 C402.5 546.5 404.4 547.6 405.0 548.8 C405.6 549.9 405.4 552.1 403.8 553.0 C402.1 553.9 397.9 553.8 395.0 554.0 C392.1 554.2 388.3 554.7 386.2 554.0 C384.2 553.3 381.9 551.1 382.5 550.0Z" fill="#9dff5a"/>
<path d="M303.8 556.2 C304.6 554.2 309.8 552.3 315.0 551.2 C320.2 550.2 331.2 549.4 335.0 550.0 C338.8 550.6 339.2 553.1 337.5 555.0 C335.8 556.9 329.6 559.8 325.0 561.2 C320.4 562.7 313.5 564.6 310.0 563.8 C306.5 562.9 302.9 558.3 303.8 556.2Z" fill="#e4ff13"/>
<polygon points="460.0,500.0 425.0,480.0 400.0,472.5 380.0,465.0 365.0,456.2 350.0,458.8 325.0,458.8 307.5,455.0 295.0,460.0 285.0,470.0 280.0,475.0 275.0,472.5 262.5,467.5 247.5,466.2 232.5,470.0 222.5,476.2 216.2,486.2 217.5,497.5 212.5,507.5 207.5,515.0 202.5,525.0 201.2,540.0 200.0,560.0 90.0,560.0 90.0,290.0 460.0,290.0" fill="#00a8ff"/>
<path d="M176.2 456.2 C176.9 454.0 179.8 449.8 182.5 446.2 C185.2 442.7 189.6 437.9 192.5 435.0 C195.4 432.1 198.5 429.0 200.0 428.8 C201.5 428.5 202.1 431.5 201.2 433.8 C200.4 436.0 197.5 439.4 195.0 442.5 C192.5 445.6 189.0 449.6 186.2 452.5 C183.5 455.4 180.4 459.4 178.8 460.0 C177.1 460.6 175.6 458.5 176.2 456.2Z" fill="#16ffe1"/>
<path d="M138.8 565.0 C139.2 562.9 142.1 562.5 143.8 560.0 C145.4 557.5 145.6 552.9 148.8 550.0 C151.9 547.1 157.7 542.5 162.5 542.5 C167.3 542.5 174.4 546.5 177.5 550.0 C180.6 553.5 181.7 560.6 181.2 563.8 C180.8 566.9 178.1 567.5 175.0 568.8 C171.9 570.0 166.7 570.4 162.5 571.2 C158.3 572.1 153.5 573.5 150.0 573.8 C146.5 574.0 143.1 574.0 141.2 572.5 C139.4 571.0 138.3 567.1 138.8 565.0Z" fill="#16ffe1"/>
<polygon points="138.8,565.0 150.0,572.5 165.0,577.5 182.5,575.0 200.0,567.5 210.0,560.0 217.5,550.0 210.0,545.0 205.0,535.0 200.0,525.0 182.5,565.0 175.0,557.5 162.5,565.0 150.0,568.8" fill="#5aff9d"/>
<polygon points="201.2,411.2 212.5,407.5 230.0,408.8 247.5,413.8 262.5,421.2 277.5,426.2 282.5,422.5 290.0,417.5 300.0,417.5 290.0,375.0 275.0,337.5 225.0,325.0 187.5,312.5 125.0,312.5 125.0,400.0 175.0,405.0" fill="#0054ff"/>
<path d="M278.0 405.0 C278.7 402.5 280.8 401.7 282.0 402.5 C283.2 403.3 284.6 407.1 285.0 410.0 C285.4 412.9 285.3 417.5 284.5 420.0 C283.7 422.5 281.1 425.4 280.0 425.0 C278.9 424.6 278.3 420.8 278.0 417.5 C277.7 414.2 277.3 407.5 278.0 405.0Z" fill="#00a8ff"/>
<polygon points="300.0,417.5 307.5,411.2 315.0,407.5 325.0,398.8 335.0,393.8 343.8,392.5 352.5,396.2 357.5,407.5 360.0,420.0 361.2,428.8 375.0,440.0 385.0,450.0 412.5,475.0 415.0,425.0 375.0,375.0 337.5,345.0 312.5,370.0" fill="#0054ff"/>
<polygon points="161.2,485.0 172.5,490.0 185.0,497.5 196.2,505.0 195.0,512.5 187.5,520.0 182.5,532.5 180.0,550.0 147.5,550.0 145.0,537.5 160.0,525.0 167.5,515.0 163.8,497.5" fill="#0054ff"/>
<polygon points="150.0,540.0 160.0,532.5 172.5,530.0 180.0,537.5 178.8,560.0 145.0,560.0" fill="#00a8ff"/>
<polygon points="137.5,321.2 146.2,322.5 161.2,360.0 176.2,397.5 175.0,402.5 162.5,382.5 150.0,355.0" fill="#0001ff"/>
<polygon points="175.0,398.8 185.0,393.8 200.0,392.5 202.5,398.8 182.5,406.2 175.0,403.8" fill="#0001ff"/>
<polygon points="192.5,318.8 200.0,318.8 207.5,332.5 220.0,333.8 225.0,337.5 217.5,347.5 202.5,347.5 197.5,335.0" fill="#0001ff"/>
<polygon points="360.0,420.0 365.0,410.0 372.5,407.5 377.5,417.5 390.0,440.0 402.5,460.0 412.5,472.5 400.0,475.0 382.5,450.0 365.0,432.5" fill="#0001ff"/>
<path d="M822.5 305.0 C826.7 302.3 830.4 302.1 835.0 301.2 C839.6 300.4 846.0 299.8 850.0 300.0 C854.0 300.2 856.7 301.0 858.8 302.5 C860.8 304.0 862.1 305.8 862.5 308.8 C862.9 311.7 860.8 316.4 861.2 320.0 C861.7 323.6 862.7 328.2 865.0 330.5 C867.3 332.8 871.7 333.8 875.0 333.8 C878.3 333.8 882.4 332.0 885.0 330.5 C887.6 329.0 883.8 327.6 890.5 325.0 C897.2 322.4 902.6 306.7 925.0 315.0 C947.4 323.3 1000.0 352.5 1025.0 375.0 C1050.0 397.5 1066.7 420.8 1075.0 450.0 C1083.3 479.2 1079.2 533.3 1075.0 550.0 C1070.8 566.7 1056.5 552.0 1050.0 550.0 C1043.5 548.0 1041.0 541.7 1036.0 538.0 C1031.0 534.3 1026.0 531.0 1020.0 528.0 C1014.0 525.0 1007.5 522.8 1000.0 520.0 C992.5 517.2 981.7 514.2 975.0 511.2 C968.3 508.3 965.8 505.6 960.0 502.5 C954.2 499.4 946.7 495.0 940.0 492.5 C933.3 490.0 926.7 489.2 920.0 487.5 C913.3 485.8 906.7 484.6 900.0 482.5 C893.3 480.4 886.7 477.9 880.0 475.0 C873.3 472.1 865.4 468.3 860.0 465.0 C854.6 461.7 851.0 458.5 847.5 455.0 C844.0 451.5 838.3 446.9 838.8 443.8 C839.2 440.6 846.0 439.4 850.0 436.2 C854.0 433.1 860.0 429.4 862.5 425.0 C865.0 420.6 863.8 415.4 865.0 410.0 C866.2 404.6 869.5 397.1 869.5 392.5 C869.5 387.9 867.4 385.8 865.0 382.5 C862.6 379.2 857.9 376.2 855.0 372.5 C852.1 368.8 850.8 363.3 847.5 360.0 C844.2 356.7 839.6 354.4 835.0 352.5 C830.4 350.6 824.6 350.6 820.0 348.8 C815.4 346.9 810.0 344.4 807.5 341.2 C805.0 338.1 804.6 334.0 805.0 330.0 C805.4 326.0 807.1 321.7 810.0 317.5 C812.9 313.3 818.3 307.7 822.5 305.0Z" fill="#16ffe1"/>
<path d="M670.0 490.0 C670.8 487.3 676.7 481.9 680.0 480.0 C683.3 478.1 686.7 477.7 690.0 478.8 C693.3 479.8 695.8 485.0 700.0 486.2 C704.2 487.5 710.0 485.6 715.0 486.2 C720.0 486.9 725.6 487.7 730.0 490.0 C734.4 492.3 739.6 496.7 741.2 500.0 C742.9 503.3 741.9 506.7 740.0 510.0 C738.1 513.3 734.2 517.7 730.0 520.0 C725.8 522.3 719.2 524.2 715.0 523.8 C710.8 523.3 707.5 520.2 705.0 517.5 C702.5 514.8 702.5 510.8 700.0 507.5 C697.5 504.2 694.2 499.4 690.0 497.5 C685.8 495.6 678.3 497.5 675.0 496.2 C671.7 495.0 669.2 492.7 670.0 490.0Z" fill="#16ffe1"/>
<path d="M772.5 520.0 C772.9 517.1 776.0 509.8 777.5 507.5 C779.0 505.2 780.4 505.0 781.2 506.2 C782.1 507.5 783.5 511.9 782.5 515.0 C781.5 518.1 776.7 524.2 775.0 525.0 C773.3 525.8 772.1 522.9 772.5 520.0Z" fill="#16ffe1"/>
<path d="M910.0 352.5 C908.3 355.2 916.2 362.1 920.0 366.2 C923.8 370.4 928.8 374.0 932.5 377.5 C936.2 381.0 939.2 385.1 942.5 387.5 C945.8 389.9 949.2 391.9 952.5 392.0 C955.8 392.1 960.5 386.7 962.5 388.0 C964.5 389.3 964.0 396.5 964.5 400.0 C965.0 403.5 964.2 405.8 965.5 408.8 C966.8 411.7 971.1 413.5 972.0 417.5 C972.9 421.5 970.6 427.3 970.8 432.5 C970.9 437.7 970.4 445.8 973.0 448.8 C975.6 451.7 982.6 448.8 986.2 450.0 C989.9 451.2 991.2 453.5 995.0 456.2 C998.8 459.0 1005.6 463.5 1008.8 466.2 C1011.9 469.0 1011.0 473.5 1013.8 472.5 C1016.5 471.5 1021.0 467.9 1025.0 460.0 C1029.0 452.1 1037.5 434.2 1037.5 425.0 C1037.5 415.8 1035.4 413.3 1025.0 405.0 C1014.6 396.7 990.8 384.2 975.0 375.0 C959.2 365.8 940.8 353.8 930.0 350.0 C919.2 346.2 911.7 349.8 910.0 352.5Z" fill="#00a8ff"/>
<path d="M980.0 456.2 C981.2 456.0 987.5 460.4 990.0 462.5 C992.5 464.6 995.0 467.5 995.0 468.8 C995.0 470.0 992.1 470.8 990.0 470.0 C987.9 469.2 984.2 466.0 982.5 463.8 C980.8 461.5 978.8 456.5 980.0 456.2Z" fill="#00a8ff"/>
<path d="M1017.5 422.5 C1018.7 421.7 1021.7 422.9 1023.8 425.0 C1025.8 427.1 1029.8 431.7 1030.0 435.0 C1030.2 438.3 1027.1 442.5 1025.0 445.0 C1022.9 447.5 1019.1 450.8 1017.5 450.0 C1015.9 449.2 1015.7 443.3 1015.5 440.0 C1015.3 436.7 1016.2 432.9 1016.5 430.0 C1016.8 427.1 1016.3 423.3 1017.5 422.5Z" fill="#0054ff"/>
<path d="M891.2 311.2 C891.9 309.6 896.5 311.0 898.8 313.8 C901.0 316.5 902.7 322.9 905.0 327.5 C907.3 332.1 911.2 337.3 912.5 341.2 C913.8 345.2 913.5 350.8 912.5 351.2 C911.5 351.7 908.3 346.7 906.2 343.8 C904.2 340.8 901.9 337.1 900.0 333.8 C898.1 330.4 896.5 327.5 895.0 323.8 C893.5 320.0 890.6 312.9 891.2 311.2Z" fill="#0001ff"/>
<path d="M893.0 315.0 C893.3 314.2 895.7 315.0 897.5 317.5 C899.3 320.0 901.9 326.0 903.8 330.0 C905.6 334.0 908.3 339.6 908.8 341.2 C909.2 342.9 907.7 341.9 906.2 340.0 C904.8 338.1 901.8 332.9 900.0 330.0 C898.2 327.1 896.7 325.0 895.5 322.5 C894.3 320.0 892.7 315.8 893.0 315.0Z" fill="#0000ad"/>
<path d="M473.8 433.8 C480.0 434.2 481.0 432.1 487.5 432.5 C494.0 432.9 504.2 435.6 512.5 436.2 C520.8 436.9 529.2 436.0 537.5 436.2 C545.8 436.5 554.2 436.7 562.5 437.5 C570.8 438.3 579.2 439.6 587.5 441.2 C595.8 442.9 604.6 445.2 612.5 447.5 C620.4 449.8 628.8 452.5 635.0 455.0 C641.2 457.5 646.7 459.2 650.0 462.5 C653.3 465.8 654.6 470.4 655.0 475.0 C655.4 479.6 652.1 485.4 652.5 490.0 C652.9 494.6 655.2 498.8 657.5 502.5 C659.8 506.2 665.0 508.8 666.2 512.5 C667.5 516.2 666.9 521.5 665.0 525.0 C663.1 528.5 659.2 531.9 655.0 533.8 C650.8 535.6 644.2 535.6 640.0 536.2 C635.8 536.9 632.9 538.1 630.0 537.5 C627.1 536.9 624.6 534.6 622.5 532.5 C620.4 530.4 619.6 527.5 617.5 525.0 C615.4 522.5 612.9 519.4 610.0 517.5 C607.1 515.6 602.9 513.8 600.0 513.8 C597.1 513.8 595.0 515.2 592.5 517.5 C590.0 519.8 587.9 524.2 585.0 527.5 C582.1 530.8 577.9 535.2 575.0 537.5 C572.1 539.8 569.6 539.2 567.5 541.2 C565.4 543.3 569.6 546.5 562.5 550.0 C555.4 553.5 545.4 560.8 525.0 562.5 C504.6 564.2 453.3 566.2 440.0 560.0 C426.7 553.8 443.8 535.0 445.0 525.0 C446.2 515.0 451.7 505.8 447.5 500.0 C443.3 494.2 427.9 494.2 420.0 490.0 C412.1 485.8 403.3 485.8 400.0 475.0 C396.7 464.2 391.7 432.5 400.0 425.0 C408.3 417.5 437.7 428.5 450.0 430.0 C462.3 431.5 467.5 433.3 473.8 433.8Z" fill="#16ffe1"/>
<path d="M435.0 310.0 C441.7 301.9 466.2 310.0 475.0 312.5 C483.8 315.0 483.8 320.4 487.5 325.0 C491.2 329.6 496.0 335.8 497.5 340.0 C499.0 344.2 498.3 347.3 496.2 350.0 C494.2 352.7 489.4 354.8 485.0 356.2 C480.6 357.7 474.6 358.1 470.0 358.8 C465.4 359.4 463.3 359.6 457.5 360.0 C451.7 360.4 438.8 369.6 435.0 361.2 C431.2 352.9 428.3 318.1 435.0 310.0Z" fill="#16ffe1"/>
<path d="M445.0 358.8 C449.2 351.9 463.3 359.2 470.0 358.8 C476.7 358.3 481.2 356.0 485.0 356.2 C488.8 356.5 492.1 355.6 492.5 360.0 C492.9 364.4 489.6 374.6 487.5 382.5 C485.4 390.4 482.1 399.6 480.0 407.5 C477.9 415.4 477.5 425.8 475.0 430.0 C472.5 434.2 469.2 432.5 465.0 432.5 C460.8 432.5 453.3 435.4 450.0 430.0 C446.7 424.6 445.8 411.9 445.0 400.0 C444.2 388.1 440.8 365.6 445.0 358.8Z" fill="#5aff9d"/>
<path d="M447.5 462.5 C449.2 462.5 454.6 471.2 455.0 475.0 C455.4 478.8 451.7 485.0 450.0 485.0 C448.3 485.0 445.4 478.8 445.0 475.0 C444.6 471.2 445.8 462.5 447.5 462.5Z" fill="#16ffe1"/>
<path d="M520.0 304.3 C518.6 312.9 516.2 311.0 517.1 315.7 C518.1 320.5 521.9 327.6 525.7 332.9 C529.5 338.1 534.8 342.4 540.0 347.1 C545.2 351.9 550.5 357.1 557.1 361.4 C563.8 365.7 573.3 370.0 580.0 372.9 C586.7 375.7 592.9 376.2 597.1 378.6 C601.4 381.0 604.8 383.3 605.7 387.1 C606.7 391.0 603.6 397.4 602.9 401.4 C602.1 405.5 599.5 409.0 601.4 411.4 C603.3 413.8 608.3 414.8 614.3 415.7 C620.2 416.7 629.5 416.7 637.1 417.1 C644.8 417.6 652.4 417.6 660.0 418.6 C667.6 419.5 676.2 422.6 682.9 422.9 C689.5 423.1 693.3 421.4 700.0 420.0 C706.7 418.6 715.2 415.7 722.9 414.3 C730.5 412.9 739.0 411.7 745.7 411.4 C752.4 411.2 757.1 412.9 762.9 412.9 C768.6 412.9 773.8 411.9 780.0 411.4 C786.2 411.0 796.7 412.6 800.0 410.0 C803.3 407.4 802.4 397.6 800.0 395.7 C797.6 393.8 791.9 397.4 785.7 398.6 C779.5 399.8 769.0 402.9 762.9 402.9 C756.7 402.9 752.9 400.7 748.6 398.6 C744.3 396.4 739.8 393.8 737.1 390.0 C734.5 386.2 732.9 380.0 732.9 375.7 C732.9 371.4 734.5 367.1 737.1 364.3 C739.8 361.4 744.8 361.0 748.6 358.6 C752.4 356.2 756.2 353.3 760.0 350.0 C763.8 346.7 767.1 341.9 771.4 338.6 C775.7 335.2 780.5 333.8 785.7 330.0 C791.0 326.2 798.1 320.0 802.9 315.7 C807.6 311.4 809.5 308.6 814.3 304.3 C819.0 300.0 825.7 294.3 831.4 290.0 C837.1 285.7 844.0 281.9 848.6 278.6 C853.1 275.2 856.6 273.3 858.6 270.0 C860.6 266.7 858.9 262.9 860.6 258.6 C862.2 254.3 868.7 250.5 868.6 244.3 C868.5 238.1 865.2 228.6 860.0 221.4 C854.8 214.3 844.3 205.5 837.1 201.4 C830.0 197.4 822.9 199.0 817.1 197.1 C811.4 195.2 808.1 191.4 802.9 190.0 C797.6 188.6 791.0 188.6 785.7 188.6 C780.5 188.6 776.2 188.3 771.4 190.0 C766.7 191.7 761.0 196.2 757.1 198.6 C753.3 201.0 751.4 203.0 748.6 204.3 C745.7 205.6 743.3 206.8 740.0 206.6 C736.7 206.3 732.4 204.2 728.6 202.9 C724.8 201.5 721.0 200.2 717.1 198.6 C713.3 196.9 709.5 194.8 705.7 192.9 C701.9 191.0 699.0 189.0 694.3 187.1 C689.5 185.2 682.9 183.1 677.1 181.4 C671.4 179.8 666.7 177.4 660.0 177.1 C653.3 176.9 643.8 178.8 637.1 180.0 C630.5 181.2 624.8 182.6 620.0 184.3 C615.2 186.0 612.9 186.2 608.6 190.0 C604.3 193.8 600.0 201.4 594.3 207.1 C588.6 212.9 582.9 218.6 574.3 224.3 C565.7 230.0 551.0 234.8 542.9 241.4 C534.8 248.1 529.5 253.8 525.7 264.3 C521.9 274.8 521.4 295.7 520.0 304.3Z" fill="#9dff5a"/>
<path d="M757.5 400.0 C761.7 397.7 760.8 399.4 765.0 398.8 C769.2 398.1 776.7 396.9 782.5 396.2 C788.3 395.6 795.4 395.2 800.0 395.0 C804.6 394.8 808.3 392.1 810.0 395.0 C811.7 397.9 811.7 409.6 810.0 412.5 C808.3 415.4 805.0 412.8 800.0 412.5 C795.0 412.2 786.7 410.6 780.0 410.5 C773.3 410.4 766.7 411.7 760.0 412.0 C753.3 412.3 740.4 414.5 740.0 412.5 C739.6 410.5 753.3 402.3 757.5 400.0Z" fill="#9dff5a"/>
<path d="M757.5 406.2 C759.2 404.8 763.3 402.3 767.5 401.2 C771.7 400.2 777.2 401.0 782.5 400.0 C787.8 399.0 796.6 392.9 799.5 395.0 C802.4 397.1 802.4 409.8 800.0 412.5 C797.6 415.2 790.0 411.2 785.0 411.2 C780.0 411.2 774.6 412.7 770.0 412.5 C765.4 412.3 759.6 411.0 757.5 410.0 C755.4 409.0 755.8 407.7 757.5 406.2Z" fill="#9dff5a"/>
<path d="M528.6 262.9 C527.4 267.6 526.7 271.7 527.1 275.7 C527.6 279.8 530.2 282.4 531.4 287.1 C532.6 291.9 532.9 299.5 534.3 304.3 C535.7 309.0 536.2 312.9 540.0 315.7 C543.8 318.6 551.4 320.0 557.1 321.4 C562.9 322.9 568.1 323.3 574.3 324.3 C580.5 325.2 587.6 325.7 594.3 327.1 C601.0 328.6 608.1 330.5 614.3 332.9 C620.5 335.2 625.7 339.3 631.4 341.4 C637.1 343.6 641.9 344.8 648.6 345.7 C655.2 346.7 663.8 346.9 671.4 347.1 C679.0 347.4 686.7 346.9 694.3 347.1 C701.9 347.4 710.5 348.6 717.1 348.6 C723.8 348.6 729.0 348.8 734.3 347.1 C739.5 345.5 743.8 341.9 748.6 338.6 C753.3 335.2 757.6 330.5 762.9 327.1 C768.1 323.8 774.3 321.4 780.0 318.6 C785.7 315.7 791.4 313.3 797.1 310.0 C802.9 306.7 808.6 302.9 814.3 298.6 C820.0 294.3 826.2 288.6 831.4 284.3 C836.7 280.0 841.9 276.7 845.7 272.9 C849.5 269.0 852.4 265.7 854.3 261.4 C856.2 257.1 857.1 251.4 857.1 247.1 C857.1 242.9 856.0 239.5 854.3 235.7 C852.6 231.9 850.0 227.9 847.1 224.3 C844.3 220.7 841.7 217.6 837.1 214.3 C832.6 211.0 825.7 206.9 820.0 204.3 C814.3 201.7 808.6 199.8 802.9 198.6 C797.1 197.4 791.0 196.9 785.7 197.1 C780.5 197.4 776.2 198.3 771.4 200.0 C766.7 201.7 761.4 204.9 757.1 207.1 C752.9 209.4 750.5 212.0 745.7 213.4 C741.0 214.9 734.3 216.8 728.6 215.7 C722.9 214.7 716.2 210.0 711.4 207.1 C706.7 204.3 704.8 201.4 700.0 198.6 C695.2 195.7 689.5 191.9 682.9 190.0 C676.2 188.1 667.6 187.4 660.0 187.1 C652.4 186.9 643.8 187.6 637.1 188.6 C630.5 189.5 624.5 191.2 620.0 192.9 C615.5 194.5 612.9 196.2 610.0 198.6 C607.1 201.0 606.0 204.3 602.9 207.1 C599.8 210.0 595.2 213.3 591.4 215.7 C587.6 218.1 584.8 220.2 580.0 221.4 C575.2 222.6 567.6 221.9 562.9 222.9 C558.1 223.8 554.8 225.0 551.4 227.1 C548.1 229.3 545.7 232.4 542.9 235.7 C540.0 239.0 536.7 242.6 534.3 247.1 C531.9 251.7 529.8 258.1 528.6 262.9Z" fill="#e4ff13"/>
<path d="M711.4 232.9 C712.1 228.6 714.8 224.5 717.1 221.4 C719.5 218.3 722.4 216.4 725.7 214.3 C729.0 212.1 733.3 210.0 737.1 208.6 C741.0 207.1 745.5 205.4 748.6 205.7 C751.7 206.0 756.0 208.0 755.7 210.6 C755.5 213.2 749.3 217.2 747.1 221.4 C745.0 225.6 744.5 231.4 742.9 235.7 C741.2 240.0 739.5 244.0 737.1 247.1 C734.8 250.2 731.4 252.9 728.6 254.3 C725.7 255.7 722.6 256.9 720.0 255.7 C717.4 254.5 714.3 251.0 712.9 247.1 C711.4 243.3 710.7 237.1 711.4 232.9Z" fill="#9dff5a"/>
<path d="M538.6 272.9 C537.9 277.1 535.7 282.9 535.7 287.1 C535.7 291.4 536.0 295.7 538.6 298.6 C541.2 301.4 546.4 303.3 551.4 304.3 C556.4 305.2 562.9 304.0 568.6 304.3 C574.3 304.5 580.0 304.8 585.7 305.7 C591.4 306.7 597.1 308.3 602.9 310.0 C608.6 311.7 615.2 313.8 620.0 315.7 C624.8 317.6 627.6 319.8 631.4 321.4 C635.2 323.1 638.1 325.0 642.9 325.7 C647.6 326.4 656.0 326.9 660.0 325.7 C664.0 324.5 666.4 321.7 667.1 318.6 C667.9 315.5 664.0 311.0 664.3 307.1 C664.5 303.3 665.5 298.6 668.6 295.7 C671.7 292.9 677.6 291.0 682.9 290.0 C688.1 289.0 695.7 289.0 700.0 290.0 C704.3 291.0 706.9 293.3 708.6 295.7 C710.2 298.1 711.0 301.0 710.0 304.3 C709.0 307.6 704.5 312.9 702.9 315.7 C701.2 318.6 699.0 319.5 700.0 321.4 C701.0 323.3 704.8 325.7 708.6 327.1 C712.4 328.6 717.6 329.8 722.9 330.0 C728.1 330.2 735.2 330.0 740.0 328.6 C744.8 327.1 747.6 324.0 751.4 321.4 C755.2 318.8 758.1 315.5 762.9 312.9 C767.6 310.2 774.3 308.3 780.0 305.7 C785.7 303.1 791.4 300.2 797.1 297.1 C802.9 294.0 808.6 290.7 814.3 287.1 C820.0 283.6 826.2 279.5 831.4 275.7 C836.7 271.9 842.1 268.1 845.7 264.3 C849.3 260.5 851.9 257.1 852.9 252.9 C853.8 248.6 853.1 243.1 851.4 238.6 C849.8 234.0 846.2 229.3 842.9 225.7 C839.5 222.1 836.2 219.5 831.4 217.1 C826.7 214.8 820.0 211.9 814.3 211.4 C808.6 211.0 802.4 212.9 797.1 214.3 C791.9 215.7 787.1 217.9 782.9 220.0 C778.6 222.1 773.8 223.6 771.4 227.1 C769.0 230.7 769.0 236.2 768.6 241.4 C768.1 246.7 769.3 253.8 768.6 258.6 C767.9 263.3 767.1 267.1 764.3 270.0 C761.4 272.9 756.4 274.5 751.4 275.7 C746.4 276.9 739.5 276.2 734.3 277.1 C729.0 278.1 724.0 280.2 720.0 281.4 C716.0 282.6 712.6 285.2 710.0 284.3 C707.4 283.3 706.9 279.0 704.3 275.7 C701.7 272.4 696.9 268.6 694.3 264.3 C691.7 260.0 690.1 254.8 688.6 250.0 C687.0 245.2 685.4 239.8 685.1 235.7 C684.9 231.7 685.1 228.3 687.1 225.7 C689.1 223.1 697.9 220.5 697.1 220.0 C696.4 219.5 687.6 221.9 682.9 222.9 C678.1 223.8 673.3 225.5 668.6 225.7 C663.8 226.0 659.5 225.2 654.3 224.3 C649.0 223.3 642.9 221.0 637.1 220.0 C631.4 219.0 625.7 218.0 620.0 218.0 C614.3 218.0 608.6 219.2 602.9 220.0 C597.1 220.8 591.4 222.2 585.7 222.9 C580.0 223.5 573.3 223.0 568.6 223.7 C563.8 224.4 559.8 225.1 557.1 227.1 C554.5 229.1 554.8 232.4 552.9 235.7 C551.0 239.0 547.9 242.9 545.7 247.1 C543.6 251.4 541.2 257.1 540.0 261.4 C538.8 265.7 539.3 268.6 538.6 272.9Z" fill="#ffbd00"/>
<path d="M658.6 207.1 C660.2 204.8 664.5 201.3 668.6 200.0 C672.6 198.7 679.0 198.2 682.9 199.1 C686.8 200.1 690.7 203.2 692.0 205.7 C693.3 208.2 692.9 212.1 690.9 214.3 C688.9 216.4 684.2 217.6 680.0 218.6 C675.8 219.5 669.3 220.7 665.7 220.0 C662.1 219.3 659.8 216.4 658.6 214.3 C657.4 212.1 656.9 209.5 658.6 207.1Z" fill="#ffbd00"/>
<path d="M564.3 228.6 C568.3 226.2 578.8 228.8 585.7 230.0 C592.6 231.2 599.0 234.8 605.7 235.7 C612.4 236.7 619.5 235.5 625.7 235.7 C631.9 236.0 637.9 235.2 642.9 237.1 C647.9 239.0 651.4 244.0 655.7 247.1 C660.0 250.2 665.0 252.9 668.6 255.7 C672.1 258.6 675.5 261.0 677.1 264.3 C678.8 267.6 680.0 272.6 678.6 275.7 C677.1 278.8 672.4 281.4 668.6 282.9 C664.8 284.3 659.5 282.9 655.7 284.3 C651.9 285.7 648.8 289.3 645.7 291.4 C642.6 293.6 641.0 296.9 637.1 297.1 C633.3 297.4 627.4 294.0 622.9 292.9 C618.3 291.7 612.6 292.4 610.0 290.0 C607.4 287.6 608.3 281.9 607.1 278.6 C606.0 275.2 604.5 270.5 602.9 270.0 C601.2 269.5 600.0 273.6 597.1 275.7 C594.3 277.9 590.0 282.6 585.7 282.9 C581.4 283.1 575.5 279.8 571.4 277.1 C567.4 274.5 563.6 270.2 561.4 267.1 C559.3 264.0 558.6 262.4 558.6 258.6 C558.6 254.8 560.5 249.3 561.4 244.3 C562.4 239.3 560.2 231.0 564.3 228.6Z" fill="#ff6f00"/>
<path d="M798.6 235.7 C798.1 232.6 802.6 229.6 805.7 227.1 C808.8 224.7 812.9 222.0 817.1 220.9 C821.4 219.7 827.4 219.2 831.4 220.0 C835.5 220.8 839.3 223.1 841.4 225.7 C843.6 228.3 845.0 232.4 844.3 235.7 C843.6 239.0 840.7 243.4 837.1 245.7 C833.6 248.0 827.6 249.4 822.9 249.4 C818.1 249.4 812.6 248.0 808.6 245.7 C804.5 243.4 799.0 238.8 798.6 235.7Z" fill="#ff6f00"/>
<path d="M730.9 291.4 C733.2 289.0 738.5 293.6 742.9 294.3 C747.2 295.0 753.1 295.2 757.1 295.7 C761.2 296.2 766.2 296.0 767.1 297.1 C768.1 298.3 765.5 301.0 762.9 302.9 C760.2 304.8 754.8 306.4 751.4 308.6 C748.1 310.7 746.0 314.5 742.9 315.7 C739.8 316.9 735.2 316.9 732.9 315.7 C730.5 314.5 728.9 312.6 728.6 308.6 C728.2 304.5 728.5 293.8 730.9 291.4Z" fill="#ff6f00"/>
<path d="M635.7 272.9 C636.0 270.8 636.9 267.8 640.0 266.6 C643.1 265.4 650.2 265.4 654.3 265.7 C658.3 266.0 662.9 266.9 664.3 268.6 C665.7 270.2 665.0 273.8 662.9 275.7 C660.7 277.6 655.5 279.4 651.4 280.0 C647.4 280.6 641.2 280.3 638.6 279.1 C636.0 278.0 635.5 275.0 635.7 272.9Z" fill="#ff1e00"/>
<path d="M748.6 204.3 C751.4 204.2 753.3 200.4 757.1 198.0 C761.0 195.6 766.7 191.7 771.4 190.0 C776.2 188.3 780.5 188.1 785.7 188.0 C791.0 187.9 797.6 188.0 802.9 189.4 C808.1 190.9 813.3 194.1 817.1 196.6 C821.0 199.0 826.2 207.3 825.7 204.3 C825.2 201.3 825.7 182.9 814.3 178.6 C802.9 174.3 769.5 175.2 757.1 178.6 C744.8 181.9 741.4 194.3 740.0 198.6 C738.6 202.9 745.7 204.4 748.6 204.3Z" fill="#5aff9d"/>
<path d="M751.4 201.4 C754.3 201.0 756.7 197.7 760.0 195.7 C763.3 193.7 769.0 191.8 771.4 189.4 C773.8 187.0 777.6 182.8 774.3 181.4 C771.0 180.1 756.7 178.6 751.4 181.4 C746.2 184.3 742.9 195.2 742.9 198.6 C742.9 201.9 748.6 201.9 751.4 201.4Z" fill="#16ffe1"/>
<polygon points="1068.8,261.2 1065.0,267.5 1060.0,275.0 1055.0,282.5 1052.5,290.0 1055.0,300.0 1065.0,298.8 1075.0,300.0 1100.0,302.5 1122.5,310.0 1132.5,322.5 1135.0,337.5 1145.0,350.0 1150.0,353.8 1150.0,355.0 1167.5,363.8 1182.5,368.8 1200.0,365.5 1220.0,357.0 1240.0,353.0 1250.0,353.8 1275.0,375.0 1300.0,412.5 1350.0,412.5 1362.5,475.0 1362.5,525.0 1342.5,547.5 1330.0,546.2 1315.0,543.8 1300.0,546.2 1290.0,550.0 1287.5,555.0 1290.0,565.0 1300.0,575.0 1302.5,587.5 1297.5,597.5 1285.0,602.5 1265.0,603.0 1245.0,600.0 1225.0,595.0 1205.0,591.2 1190.0,590.0 1175.0,592.5 1160.0,593.8 1150.0,597.5 1137.5,602.5 1132.5,612.5 1130.0,625.0 1125.0,635.0 1122.5,645.0 1112.5,655.0 1100.0,662.5 1097.5,672.5 1087.5,680.0 1075.0,686.2 1067.5,692.5 1055.0,692.5 1065.0,625.0 1125.0,525.0 1100.0,475.0 1050.0,425.0 1025.0,425.0 1000.0,387.5 950.0,350.0 975.0,312.5 1012.5,300.0 1025.0,287.5 1050.0,262.5" fill="#16ffe1"/>
<polygon points="1290.0,232.5 1290.0,242.5 1287.5,248.8 1283.8,253.8 1282.0,259.5 1290.0,262.5 1300.0,250.0 1300.0,235.0" fill="#16ffe1"/>
<path d="M1167.5 295.0 C1155.0 297.1 1173.3 303.8 1175.0 307.5 C1176.7 311.2 1176.2 314.4 1177.5 317.5 C1178.8 320.6 1180.0 325.2 1182.5 326.2 C1185.0 327.3 1187.9 325.0 1192.5 323.8 C1197.1 322.5 1204.6 320.2 1210.0 318.8 C1215.4 317.3 1220.0 316.9 1225.0 315.0 C1230.0 313.1 1235.8 310.8 1240.0 307.5 C1244.2 304.2 1262.1 297.1 1250.0 295.0 C1237.9 292.9 1180.0 292.9 1167.5 295.0Z" fill="#9dff5a"/>
<path d="M1025.0 316.2 C1027.5 314.1 1031.2 314.7 1037.5 314.5 C1043.8 314.3 1055.0 314.5 1062.5 315.0 C1070.0 315.5 1076.9 316.0 1082.5 317.5 C1088.1 319.0 1093.8 321.2 1096.2 323.8 C1098.8 326.2 1098.5 329.6 1097.5 332.5 C1096.5 335.4 1093.8 338.5 1090.0 341.2 C1086.2 344.0 1078.5 346.2 1075.0 348.8 C1071.5 351.2 1070.4 354.0 1068.8 356.2 C1067.1 358.5 1066.9 361.2 1065.0 362.5 C1063.1 363.8 1060.4 364.4 1057.5 363.8 C1054.6 363.1 1050.4 360.4 1047.5 358.8 C1044.6 357.1 1042.5 355.6 1040.0 353.8 C1037.5 351.9 1034.8 350.2 1032.5 347.5 C1030.2 344.8 1027.9 340.8 1026.2 337.5 C1024.6 334.2 1022.7 331.0 1022.5 327.5 C1022.3 324.0 1022.5 318.4 1025.0 316.2Z" fill="#00a8ff"/>
<path d="M1050.0 315.0 C1055.0 311.2 1063.8 314.4 1070.0 315.0 C1076.2 315.6 1082.9 317.1 1087.5 318.8 C1092.1 320.4 1096.0 322.3 1097.5 325.0 C1099.0 327.7 1097.9 331.9 1096.2 335.0 C1094.6 338.1 1091.0 341.2 1087.5 343.8 C1084.0 346.2 1078.1 347.7 1075.0 350.0 C1071.9 352.3 1070.4 355.0 1068.8 357.5 C1067.1 360.0 1066.9 364.2 1065.0 365.0 C1063.1 365.8 1060.0 364.4 1057.5 362.5 C1055.0 360.6 1052.9 357.9 1050.0 353.8 C1047.1 349.6 1040.0 344.0 1040.0 337.5 C1040.0 331.0 1045.0 318.8 1050.0 315.0Z" fill="#00a8ff"/>
<polygon points="1052.5,267.5 1050.0,275.0 1046.2,282.5 1041.2,290.0 1037.5,300.0 1025.0,300.0 1032.5,282.5 1047.5,270.0 1035.0,305.0 1031.2,312.5 1026.2,320.0 1020.0,322.5 1012.5,320.0 1020.0,306.2" fill="#00a8ff"/>
<polygon points="950.0,317.5 1015.0,317.5 1017.5,342.5 1000.0,350.0 992.5,360.0 975.0,372.5 955.0,365.0 950.0,337.5" fill="#00a8ff"/>
<path d="M985.0 318.8 C986.9 317.5 995.6 318.5 1000.0 320.0 C1004.4 321.5 1008.5 324.2 1011.2 327.5 C1014.0 330.8 1016.0 336.2 1016.2 340.0 C1016.5 343.8 1015.2 347.7 1012.5 350.0 C1009.8 352.3 1003.3 352.3 1000.0 353.8 C996.7 355.2 994.2 359.4 992.5 358.8 C990.8 358.1 990.0 353.5 990.0 350.0 C990.0 346.5 992.7 341.2 992.5 337.5 C992.3 333.8 990.0 330.6 988.8 327.5 C987.5 324.4 983.1 320.0 985.0 318.8Z" fill="#0054ff"/>
<path d="M972.5 363.8 C973.8 361.7 977.9 360.0 980.0 358.8 C982.1 357.5 984.0 355.6 985.0 356.2 C986.0 356.9 987.3 360.4 986.2 362.5 C985.2 364.6 981.0 367.3 978.8 368.8 C976.5 370.2 973.5 372.1 972.5 371.2 C971.5 370.4 971.2 365.8 972.5 363.8Z" fill="#0054ff"/>
<path d="M995.0 321.2 C996.2 320.4 1002.1 320.2 1005.0 322.5 C1007.9 324.8 1010.8 331.7 1012.5 335.0 C1014.2 338.3 1015.2 341.2 1015.0 342.5 C1014.8 343.8 1013.1 344.2 1011.2 342.5 C1009.4 340.8 1006.0 335.0 1003.8 332.5 C1001.5 330.0 999.0 329.4 997.5 327.5 C996.0 325.6 993.8 322.1 995.0 321.2Z" fill="#0001ff"/>
<path d="M957.5 343.8 C958.2 342.4 960.2 341.4 961.2 342.0 C962.3 342.6 963.5 345.5 963.8 347.5 C964.0 349.5 963.3 352.5 962.5 353.8 C961.7 355.0 959.7 355.6 958.8 355.0 C957.8 354.4 957.2 351.9 957.0 350.0 C956.8 348.1 956.8 345.1 957.5 343.8Z" fill="#16ffe1"/>
<polygon points="987.5,358.8 1000.0,353.8 1015.0,357.5 1035.0,365.0 1050.0,365.5 1062.5,371.2 1065.0,377.5 1050.0,378.8 1035.0,375.0 1020.0,376.2 1010.0,380.0 1000.0,383.8 987.5,382.5" fill="#0054ff"/>
<path d="M1001.2 356.2 C1002.5 355.8 1006.0 357.5 1010.0 358.8 C1014.0 360.0 1020.4 361.9 1025.0 363.8 C1029.6 365.6 1037.5 368.8 1037.5 370.0 C1037.5 371.2 1029.2 371.9 1025.0 371.2 C1020.8 370.6 1016.2 367.9 1012.5 366.2 C1008.8 364.6 1004.4 362.9 1002.5 361.2 C1000.6 359.6 1000.0 356.7 1001.2 356.2Z" fill="#0001ff"/>
<path d="M986.2 376.2 C987.9 374.8 994.0 374.0 997.5 375.0 C1001.0 376.0 1007.1 380.8 1007.5 382.5 C1007.9 384.2 1003.3 384.8 1000.0 385.0 C996.7 385.2 989.8 385.2 987.5 383.8 C985.2 382.3 984.6 377.7 986.2 376.2Z" fill="#0001ff"/>
<polygon points="1008.8,380.0 1020.0,376.2 1035.0,375.0 1050.0,378.8 1065.0,378.0 1075.0,375.0 1080.0,382.5 1065.0,382.5 1050.0,381.2 1035.0,380.0 1020.0,381.2 1012.5,386.2 1010.0,400.0 1012.5,410.0 1005.0,410.0 1005.0,392.5" fill="#00a8ff"/>
<path d="M1018.8 391.2 C1019.7 389.4 1022.3 387.8 1025.0 387.0 C1027.7 386.2 1032.3 385.5 1035.0 386.2 C1037.7 387.0 1040.0 389.2 1041.2 391.2 C1042.5 393.3 1043.5 396.9 1042.5 398.8 C1041.5 400.6 1037.9 401.9 1035.0 402.5 C1032.1 403.1 1027.6 403.2 1025.0 402.5 C1022.4 401.8 1020.5 399.9 1019.5 398.0 C1018.5 396.1 1017.8 393.1 1018.8 391.2Z" fill="#5aff9d"/>
<path d="M1024.2 396.2 C1024.9 394.9 1027.0 392.9 1028.8 392.5 C1030.5 392.1 1033.8 392.7 1035.0 393.8 C1036.2 394.8 1036.9 397.5 1036.2 398.8 C1035.6 400.0 1033.1 401.0 1031.2 401.2 C1029.4 401.5 1026.2 401.3 1025.0 400.5 C1023.8 399.7 1023.6 397.6 1024.2 396.2Z" fill="#9dff5a"/>
<path d="M1241.2 398.8 C1238.3 400.0 1244.0 414.0 1245.0 420.0 C1246.0 426.0 1246.2 430.4 1247.5 435.0 C1248.8 439.6 1250.0 443.3 1252.5 447.5 C1255.0 451.7 1258.8 456.2 1262.5 460.0 C1266.2 463.8 1271.2 466.7 1275.0 470.0 C1278.8 473.3 1281.2 476.7 1285.0 480.0 C1288.8 483.3 1292.9 487.1 1297.5 490.0 C1302.1 492.9 1307.9 495.2 1312.5 497.5 C1317.1 499.8 1320.4 502.3 1325.0 503.8 C1329.6 505.2 1335.8 506.9 1340.0 506.2 C1344.2 505.6 1346.2 505.2 1350.0 500.0 C1353.8 494.8 1362.5 487.5 1362.5 475.0 C1362.5 462.5 1360.4 435.4 1350.0 425.0 C1339.6 414.6 1314.6 414.6 1300.0 412.5 C1285.4 410.4 1272.3 414.8 1262.5 412.5 C1252.7 410.2 1244.2 397.5 1241.2 398.8Z" fill="#00a8ff"/>
<path d="M1273.8 431.2 C1270.4 434.2 1277.3 437.9 1280.0 440.0 C1282.7 442.1 1286.2 443.3 1290.0 443.8 C1293.8 444.2 1298.3 442.9 1302.5 442.5 C1306.7 442.1 1311.2 441.0 1315.0 441.2 C1318.8 441.5 1322.5 442.3 1325.0 443.8 C1327.5 445.2 1328.5 447.9 1330.0 450.0 C1331.5 452.1 1332.1 457.9 1333.8 456.2 C1335.4 454.6 1341.5 445.2 1340.0 440.0 C1338.5 434.8 1331.7 427.9 1325.0 425.0 C1318.3 422.1 1308.5 421.5 1300.0 422.5 C1291.5 423.5 1277.1 428.3 1273.8 431.2Z" fill="#0054ff"/>
<path d="M1240.0 398.8 C1240.8 401.2 1244.6 406.5 1247.5 410.0 C1250.4 413.5 1254.6 416.7 1257.5 420.0 C1260.4 423.3 1262.5 427.9 1265.0 430.0 C1267.5 432.1 1273.3 434.6 1272.5 432.5 C1271.7 430.4 1263.8 422.1 1260.0 417.5 C1256.2 412.9 1252.9 408.8 1250.0 405.0 C1247.1 401.2 1244.2 396.0 1242.5 395.0 C1240.8 394.0 1239.2 396.2 1240.0 398.8Z" fill="#0054ff"/>
<path d="M1241.2 400.0 C1241.9 401.9 1245.4 407.1 1247.5 410.0 C1249.6 412.9 1253.3 417.9 1253.8 417.5 C1254.2 417.1 1251.7 410.6 1250.0 407.5 C1248.3 404.4 1245.2 400.0 1243.8 398.8 C1242.3 397.5 1240.6 398.1 1241.2 400.0Z" fill="#0001ff"/>
<path d="M1332.5 432.5 C1333.5 432.5 1336.7 436.2 1337.5 440.0 C1338.3 443.8 1338.5 452.5 1337.5 455.0 C1336.5 457.5 1332.3 457.5 1331.2 455.0 C1330.2 452.5 1331.0 443.8 1331.2 440.0 C1331.5 436.2 1331.5 432.5 1332.5 432.5Z" fill="#0054ff"/>
<polygon points="1120.0,436.2 1132.5,440.0 1150.0,446.2 1167.5,452.5 1177.5,456.2 1181.2,465.0 1182.5,480.0 1182.5,500.0 1183.8,520.0 1186.2,540.0 1187.5,546.2 1175.0,541.2 1167.5,547.5 1160.0,552.5 1150.0,525.0 1162.5,475.0 1125.0,462.5 1112.5,440.0" fill="#00a8ff"/>
<path d="M1121.2 442.5 C1123.1 441.9 1126.5 444.2 1130.0 446.2 C1133.5 448.3 1140.0 452.3 1142.5 455.0 C1145.0 457.7 1146.7 461.5 1145.0 462.5 C1143.3 463.5 1136.0 462.3 1132.5 461.2 C1129.0 460.2 1126.0 458.1 1123.8 456.2 C1121.5 454.4 1119.2 452.3 1118.8 450.0 C1118.3 447.7 1119.4 443.1 1121.2 442.5Z" fill="#0054ff"/>
<path d="M1122.0 446.2 C1123.2 445.6 1127.0 448.3 1127.5 450.0 C1128.0 451.7 1126.2 455.6 1125.0 456.2 C1123.8 456.9 1121.0 455.4 1120.5 453.8 C1120.0 452.1 1120.8 446.9 1122.0 446.2Z" fill="#0001ff"/>
<path d="M1175.0 490.0 C1176.0 490.4 1177.9 496.2 1177.5 500.0 C1177.1 503.8 1174.2 508.3 1172.5 512.5 C1170.8 516.7 1169.2 522.5 1167.5 525.0 C1165.8 527.5 1162.9 530.0 1162.5 527.5 C1162.1 525.0 1163.5 515.0 1165.0 510.0 C1166.5 505.0 1169.6 500.8 1171.2 497.5 C1172.9 494.2 1174.0 489.6 1175.0 490.0Z" fill="#0054ff"/>
<path d="M1121.2 436.2 C1124.2 436.2 1130.2 438.5 1135.0 440.0 C1139.8 441.5 1145.8 441.7 1150.0 445.0 C1154.2 448.3 1160.0 455.8 1160.0 460.0 C1160.0 464.2 1155.8 470.0 1150.0 470.0 C1144.2 470.0 1130.4 465.0 1125.0 460.0 C1119.6 455.0 1118.1 444.0 1117.5 440.0 C1116.9 436.0 1118.3 436.2 1121.2 436.2Z" fill="#00a8ff"/>
<path d="M1122.5 442.5 C1124.2 441.7 1129.2 445.2 1132.5 447.5 C1135.8 449.8 1139.6 453.8 1142.5 456.2 C1145.4 458.8 1149.6 461.0 1150.0 462.5 C1150.4 464.0 1147.9 465.4 1145.0 465.0 C1142.1 464.6 1136.2 462.1 1132.5 460.0 C1128.8 457.9 1124.2 455.4 1122.5 452.5 C1120.8 449.6 1120.8 443.3 1122.5 442.5Z" fill="#0054ff"/>
<path d="M1092.5 595.0 C1095.8 593.5 1106.2 600.4 1107.5 603.8 C1108.8 607.1 1102.5 611.5 1100.0 615.0 C1097.5 618.5 1095.4 622.5 1092.5 625.0 C1089.6 627.5 1085.0 627.9 1082.5 630.0 C1080.0 632.1 1078.8 634.2 1077.5 637.5 C1076.2 640.8 1076.2 646.2 1075.0 650.0 C1073.8 653.8 1071.0 655.8 1070.0 660.0 C1069.0 664.2 1069.6 670.8 1068.8 675.0 C1067.9 679.2 1066.2 682.7 1065.0 685.0 C1063.8 687.3 1063.8 687.9 1061.2 688.8 C1058.8 689.6 1051.9 696.5 1050.0 690.0 C1048.1 683.5 1047.5 659.6 1050.0 650.0 C1052.5 640.4 1058.8 638.8 1065.0 632.5 C1071.2 626.2 1082.9 618.8 1087.5 612.5 C1092.1 606.2 1089.2 596.5 1092.5 595.0Z" fill="#00a8ff"/>
<path d="M1060.0 650.0 C1060.6 647.1 1064.6 646.2 1066.2 647.5 C1067.9 648.8 1069.8 653.8 1070.0 657.5 C1070.2 661.2 1068.5 666.2 1067.5 670.0 C1066.5 673.8 1065.2 678.3 1063.8 680.0 C1062.3 681.7 1059.0 682.5 1058.8 680.0 C1058.5 677.5 1062.3 670.0 1062.5 665.0 C1062.7 660.0 1059.4 652.9 1060.0 650.0Z" fill="#0054ff"/>
<path d="M1092.5 596.2 C1093.7 595.0 1099.2 597.9 1100.0 600.0 C1100.8 602.1 1098.7 607.5 1097.5 608.8 C1096.3 610.0 1093.8 609.6 1093.0 607.5 C1092.2 605.4 1091.3 597.5 1092.5 596.2Z" fill="#0054ff"/>
<path d="M1068.8 625.0 C1069.8 623.1 1075.2 622.5 1077.5 622.5 C1079.8 622.5 1082.5 623.3 1082.5 625.0 C1082.5 626.7 1079.4 631.0 1077.5 632.5 C1075.6 634.0 1072.7 635.0 1071.2 633.8 C1069.8 632.5 1067.7 626.9 1068.8 625.0Z" fill="#0054ff"/>
<path d="M1343.8 561.2 C1344.5 559.6 1347.5 558.5 1348.8 560.0 C1350.0 561.5 1351.5 567.5 1351.2 570.0 C1351.0 572.5 1348.6 575.0 1347.5 575.0 C1346.4 575.0 1345.1 572.3 1344.5 570.0 C1343.9 567.7 1343.0 562.9 1343.8 561.2Z" fill="#5aff9d"/>
<polygon points="300.0,95.0 1120.0,95.0 1120.0,150.0 1105.0,200.0 1080.0,260.0 1000.0,260.0 960.0,160.0 700.0,175.0 560.0,175.0 300.0,175.0" fill="#0001ff"/>
<polygon points="365.0,98.8 455.0,98.8 455.0,135.0 365.0,135.0" fill="#0001ff"/>
<polygon points="355.0,98.8 395.0,98.8 405.0,103.8 425.0,108.8 455.0,112.0 455.0,98.8 365.0,98.8 375.0,103.8 395.0,110.0 395.0,125.0 305.0,132.5 275.0,155.0 212.5,155.0 220.0,117.5 275.0,117.5" fill="#0054ff"/>
<polygon points="395.0,98.8 455.0,98.8 455.0,111.5 425.0,108.8 405.0,103.8" fill="#0054ff"/>
<path d="M307.5 98.8 C317.7 97.9 347.9 97.5 356.2 98.8 C364.6 100.0 358.5 104.2 357.5 106.2 C356.5 108.3 353.8 109.6 350.0 111.2 C346.2 112.9 340.4 114.8 335.0 116.2 C329.6 117.7 323.3 119.2 317.5 120.0 C311.7 120.8 305.4 121.2 300.0 121.2 C294.6 121.3 289.2 121.0 285.0 120.5 C280.8 120.0 277.9 118.8 275.0 118.0 C272.1 117.2 269.6 116.4 267.5 115.5 C265.4 114.6 261.2 113.8 262.5 112.5 C263.8 111.2 269.6 109.0 275.0 107.5 C280.4 106.0 289.6 105.2 295.0 103.8 C300.4 102.3 297.3 99.6 307.5 98.8Z" fill="#00a8ff"/>
<path d="M90.0 98.8 C126.5 90.2 272.0 97.3 308.8 98.8 C345.5 100.2 311.1 105.2 310.5 107.5 C309.9 109.8 308.4 111.2 305.0 112.5 C301.6 113.8 295.0 114.8 290.0 115.5 C285.0 116.2 278.7 117.1 275.0 117.0 C271.3 116.9 270.5 115.8 268.0 115.0 C265.5 114.2 264.7 112.4 260.0 112.5 C255.3 112.6 245.8 114.3 240.0 115.5 C234.2 116.7 229.6 117.5 225.0 119.5 C220.4 121.5 215.8 124.7 212.5 127.5 C209.2 130.3 205.8 133.8 205.0 136.2 C204.2 138.8 205.4 140.2 207.5 142.5 C209.6 144.8 214.6 147.9 217.5 150.0 C220.4 152.1 232.1 153.3 225.0 155.0 C217.9 156.7 191.7 160.0 175.0 160.0 C158.3 160.0 139.2 156.7 125.0 155.0 C110.8 153.3 95.8 159.4 90.0 150.0 C84.2 140.6 53.5 107.3 90.0 98.8Z" fill="#16ffe1"/>
<path d="M90.0 103.5 C94.2 95.7 102.9 103.1 115.0 103.0 C127.1 102.9 147.5 102.5 162.5 103.0 C177.5 103.5 194.6 105.1 205.0 106.2 C215.4 107.4 220.6 108.8 225.0 110.0 C229.4 111.2 232.5 112.1 231.2 113.8 C230.0 115.4 221.0 118.1 217.5 120.0 C214.0 121.9 211.8 122.9 210.0 125.0 C208.2 127.1 207.8 130.4 207.0 132.5 C206.2 134.6 206.2 135.2 205.0 137.5 C203.8 139.8 203.3 144.2 200.0 146.2 C196.7 148.3 189.2 149.0 185.0 150.0 C180.8 151.0 180.8 151.7 175.0 152.5 C169.2 153.3 164.2 155.4 150.0 155.0 C135.8 154.6 100.0 158.6 90.0 150.0 C80.0 141.4 85.8 111.3 90.0 103.5Z" fill="#5aff9d"/>
<path d="M90.0 108.0 C93.5 103.0 101.2 108.1 111.2 108.0 C121.2 107.9 137.7 107.2 150.0 107.5 C162.3 107.8 175.8 108.7 185.0 110.0 C194.2 111.3 201.0 113.4 205.0 115.5 C209.0 117.6 208.8 120.1 208.8 122.5 C208.8 124.9 207.1 127.5 205.0 130.0 C202.9 132.5 200.4 135.2 196.2 137.5 C192.1 139.8 185.2 141.9 180.0 143.8 C174.8 145.6 170.0 148.1 165.0 148.8 C160.0 149.4 155.8 148.5 150.0 147.5 C144.2 146.5 136.5 144.6 130.0 143.0 C123.5 141.4 117.9 138.8 111.2 138.0 C104.6 137.2 93.5 143.0 90.0 138.0 C86.5 133.0 86.5 113.0 90.0 108.0Z" fill="#9dff5a"/>
<path d="M90.0 113.8 C93.5 109.7 103.3 113.9 111.2 113.8 C119.2 113.6 128.5 112.7 137.5 113.0 C146.5 113.3 157.5 114.3 165.0 115.5 C172.5 116.7 178.4 118.4 182.5 120.0 C186.6 121.6 189.1 123.1 189.5 125.0 C189.9 126.9 188.2 129.4 185.0 131.2 C181.8 133.1 175.8 135.0 170.0 136.2 C164.2 137.5 156.7 138.3 150.0 138.8 C143.3 139.2 136.5 138.9 130.0 138.8 C123.5 138.6 117.9 138.1 111.2 138.0 C104.6 137.9 93.5 142.0 90.0 138.0 C86.5 134.0 86.5 117.8 90.0 113.8Z" fill="#e4ff13"/>
<path d="M90.0 121.2 C93.5 118.8 105.4 121.4 111.2 121.2 C117.1 121.1 120.2 120.4 125.0 120.5 C129.8 120.6 136.5 121.2 140.0 122.0 C143.5 122.8 146.0 124.1 146.2 125.5 C146.5 126.9 144.4 129.0 141.2 130.5 C138.1 132.0 132.5 133.5 127.5 134.5 C122.5 135.5 117.5 136.0 111.2 136.2 C105.0 136.5 93.5 138.8 90.0 136.2 C86.5 133.8 86.5 123.8 90.0 121.2Z" fill="#ffbd00"/>
<polygon points="142.5,160.0 167.5,160.0 168.8,172.5 145.0,172.5" fill="#0054ff"/>
<polygon points="307.5,125.0 325.0,122.5 350.0,115.5 375.0,111.2 395.0,110.0 395.0,132.5 307.5,140.0" fill="#0001ff"/>
<polygon points="307.5,121.2 325.0,118.8 350.0,112.5 375.0,108.0 395.0,108.8 395.0,112.5 375.0,113.8 350.0,118.8 325.0,125.0 310.0,130.0" fill="#0054ff"/>
<polygon points="447.5,98.8 502.5,98.8 500.0,106.2 487.5,111.2 470.0,112.5 447.5,113.8" fill="#0054ff"/>
<path d="M472.5 132.5 C472.9 130.5 477.9 127.5 482.5 125.0 C487.1 122.5 494.6 119.1 500.0 117.5 C505.4 115.9 509.6 115.5 515.0 115.5 C520.4 115.5 526.7 116.3 532.5 117.5 C538.3 118.7 545.0 120.4 550.0 122.5 C555.0 124.6 559.6 127.7 562.5 130.0 C565.4 132.3 567.9 134.7 567.5 136.2 C567.1 137.8 562.9 139.4 560.0 139.5 C557.1 139.6 553.3 137.6 550.0 137.0 C546.7 136.4 543.3 136.6 540.0 136.0 C536.7 135.4 533.3 133.8 530.0 133.5 C526.7 133.2 522.5 133.7 520.0 134.5 C517.5 135.3 517.5 137.8 515.0 138.2 C512.5 138.7 508.3 137.0 505.0 137.0 C501.7 137.0 497.9 137.6 495.0 138.2 C492.1 138.9 490.0 141.0 487.5 140.8 C485.0 140.5 482.5 138.4 480.0 137.0 C477.5 135.6 472.1 134.5 472.5 132.5Z" fill="#0000ad"/>
<polygon points="612.5,98.8 805.0,98.8 805.0,155.0 700.0,165.0 630.0,150.0 623.8,135.0 625.0,125.0 620.0,112.5" fill="#0054ff"/>
<polygon points="710.0,137.5 725.0,138.8 740.0,136.2 747.5,138.8 725.0,145.0 711.2,150.0" fill="#0001ff"/>
<path d="M667.5 140.0 C669.6 139.6 677.1 140.8 682.5 142.5 C687.9 144.2 695.8 147.1 700.0 150.0 C704.2 152.9 707.5 157.1 707.5 160.0 C707.5 162.9 702.9 167.5 700.0 167.5 C697.1 167.5 693.3 162.9 690.0 160.0 C686.7 157.1 683.3 152.5 680.0 150.0 C676.7 147.5 672.1 146.7 670.0 145.0 C667.9 143.3 665.4 140.4 667.5 140.0Z" fill="#00a8ff"/>
<polygon points="797.5,98.8 845.0,100.5 858.8,108.8 845.0,113.8 825.0,117.5 797.5,123.8" fill="#0054ff"/>
<polygon points="797.5,132.5 810.0,136.2 815.0,142.5 797.5,145.5" fill="#0054ff"/>
<path d="M797.5 101.2 C800.4 99.3 810.0 101.2 815.0 102.0 C820.0 102.8 827.5 104.7 827.5 106.2 C827.5 107.8 820.0 110.0 815.0 111.2 C810.0 112.5 800.4 115.4 797.5 113.8 C794.6 112.1 794.6 103.2 797.5 101.2Z" fill="#00a8ff"/>
<polygon points="958.0,176.0 959.7,193.1 968.3,203.4 970.0,200.0 995.7,158.9 1012.9,145.1 1043.7,148.6 1045.4,169.1 1072.9,182.9 1055.7,196.6 1031.7,200.0 1030.0,217.1 1014.6,229.1 1004.3,213.7 970.0,205.1" fill="#0001ff"/>
<path d="M995.7 198.3 C996.1 196.8 998.6 195.5 1000.9 195.2 C1003.1 194.9 1007.0 195.8 1009.4 196.6 C1011.9 197.4 1014.3 198.3 1015.4 200.0 C1016.6 201.7 1016.7 205.0 1016.3 206.9 C1015.9 208.7 1014.9 210.7 1012.9 211.1 C1010.9 211.6 1006.7 210.6 1004.3 209.4 C1001.9 208.3 999.7 206.1 998.3 204.3 C996.9 202.4 995.3 199.8 995.7 198.3Z" fill="#0054ff"/>
<path d="M1024.9 152.0 C1026.0 151.1 1030.1 150.6 1031.7 151.1 C1033.3 151.7 1034.6 154.3 1034.3 155.4 C1034.0 156.6 1031.6 157.9 1030.0 158.0 C1028.4 158.1 1025.7 157.3 1024.9 156.3 C1024.0 155.3 1023.7 152.9 1024.9 152.0Z" fill="#0000ad"/>
<polygon points="995.0,100.0 1065.0,100.0 1087.5,107.5 1107.5,125.0 1115.0,145.0 1115.0,165.0 1100.0,167.5 1080.0,160.0 1065.0,150.0 1050.0,145.0 1025.0,135.0 1000.0,115.0" fill="#0054ff"/>
<path d="M1040.0 116.2 C1045.8 115.2 1065.8 114.9 1075.0 115.5 C1084.2 116.1 1089.8 117.6 1095.0 120.0 C1100.2 122.4 1103.8 127.1 1106.2 130.0 C1108.8 132.9 1111.0 136.5 1110.0 137.5 C1109.0 138.5 1103.8 137.9 1100.0 136.2 C1096.2 134.6 1091.7 129.7 1087.5 127.5 C1083.3 125.3 1079.6 124.0 1075.0 123.0 C1070.4 122.0 1065.8 121.7 1060.0 121.5 C1054.2 121.3 1043.3 122.9 1040.0 122.0 C1036.7 121.1 1034.2 117.3 1040.0 116.2Z" fill="#0001ff"/>
<polygon points="995.0,100.0 1035.0,100.0 1025.0,110.0 995.0,107.5" fill="#0001ff"/>
<path d="M1072.5 155.0 C1073.3 153.1 1078.8 152.1 1082.5 151.2 C1086.2 150.4 1091.0 149.8 1095.0 150.0 C1099.0 150.2 1103.3 150.8 1106.2 152.5 C1109.2 154.2 1111.0 157.1 1112.5 160.0 C1114.0 162.9 1114.5 166.7 1115.5 170.0 C1116.5 173.3 1118.8 177.5 1118.8 180.0 C1118.7 182.5 1116.9 184.6 1115.0 185.0 C1113.1 185.4 1110.4 184.2 1107.5 182.5 C1104.6 180.8 1100.8 177.5 1097.5 175.0 C1094.2 172.5 1090.8 169.6 1087.5 167.5 C1084.2 165.4 1080.0 164.6 1077.5 162.5 C1075.0 160.4 1071.7 156.9 1072.5 155.0Z" fill="#00a8ff"/>
<polygon points="1065.0,150.0 1080.0,160.0 1100.0,167.5 1115.0,165.0 1125.0,180.0 1132.5,190.0 1112.5,195.0 1105.0,225.0 1103.8,247.5 1077.5,265.0 1065.0,250.0 1087.5,225.0 1082.5,200.0 1070.0,175.0" fill="#16ffe1"/>
<path d="M1082.5 167.5 C1083.8 164.4 1089.0 165.0 1092.5 166.2 C1096.0 167.5 1100.4 172.1 1103.8 175.0 C1107.1 177.9 1109.8 181.5 1112.5 183.8 C1115.2 186.0 1120.2 186.9 1120.0 188.8 C1119.8 190.6 1114.0 191.5 1111.2 195.0 C1108.5 198.5 1105.3 205.0 1103.8 210.0 C1102.2 215.0 1102.0 220.6 1102.0 225.0 C1102.0 229.4 1103.9 232.5 1103.8 236.2 C1103.6 240.0 1103.1 244.0 1101.2 247.5 C1099.4 251.0 1096.5 254.7 1092.5 257.5 C1088.5 260.3 1078.3 266.6 1077.5 264.5 C1076.7 262.4 1084.9 251.6 1087.5 245.0 C1090.1 238.4 1092.4 231.7 1093.0 225.0 C1093.6 218.3 1092.6 211.7 1091.2 205.0 C1089.9 198.3 1086.5 191.2 1085.0 185.0 C1083.5 178.8 1081.2 170.6 1082.5 167.5Z" fill="#5aff9d"/>
<polygon points="1050.0,240.0 1065.0,233.8 1085.0,228.8 1100.0,226.2 1095.0,240.0 1087.5,250.0 1075.0,247.5 1068.8,243.8 1060.0,242.5" fill="#00a8ff"/>
<path d="M1060.0 236.2 C1060.8 234.8 1070.4 232.4 1075.0 231.2 C1079.6 230.1 1086.2 228.7 1087.5 229.5 C1088.8 230.3 1085.4 234.5 1082.5 236.2 C1079.6 238.0 1073.8 240.0 1070.0 240.0 C1066.2 240.0 1059.2 237.7 1060.0 236.2Z" fill="#0054ff"/>
<path d="M1071.2 253.8 C1071.0 252.6 1069.0 253.1 1067.5 253.8 C1066.0 254.4 1062.3 256.4 1062.5 257.5 C1062.7 258.6 1067.3 261.1 1068.8 260.5 C1070.2 259.9 1071.5 254.9 1071.2 253.8Z" fill="#0054ff"/>
<polygon points="500.0,184.3 600.0,172.9 600.0,190.0 578.6,225.7 557.1,250.0 537.1,261.4 525.7,252.9 528.6,212.9 514.3,215.7 500.0,210.0" fill="#00a8ff"/>
<path d="M517.1 200.0 C518.8 198.8 524.3 198.9 528.6 198.6 C532.9 198.2 538.1 197.9 542.9 197.9 C547.6 197.9 552.9 197.7 557.1 198.6 C561.4 199.4 565.8 200.7 568.6 202.9 C571.3 205.0 572.4 208.3 573.6 211.4 C574.8 214.5 575.1 218.8 575.7 221.4 C576.3 224.0 580.2 222.4 577.1 227.1 C574.0 231.9 563.8 244.5 557.1 250.0 C550.5 255.5 541.9 259.5 537.1 260.0 C532.4 260.5 529.3 256.7 528.6 252.9 C527.9 249.0 532.5 242.9 532.9 237.1 C533.2 231.4 531.4 222.6 530.7 218.6 C530.0 214.5 529.9 214.3 528.6 212.9 C527.3 211.4 524.5 211.2 522.9 210.0 C521.2 208.8 519.5 207.4 518.6 205.7 C517.6 204.0 515.5 201.2 517.1 200.0Z" fill="#16ffe1"/>
<path d="M534.3 210.0 C536.2 208.7 539.5 208.2 542.9 207.9 C546.2 207.5 550.7 207.5 554.3 207.9 C557.9 208.2 561.7 208.7 564.3 210.0 C566.9 211.3 568.5 213.6 570.0 215.7 C571.5 217.9 572.6 220.9 573.6 222.9 C574.6 224.8 578.7 223.4 576.0 227.4 C573.3 231.5 563.4 242.0 557.1 247.1 C550.9 252.3 542.3 258.1 538.6 258.6 C534.9 259.0 535.7 253.6 535.0 250.0 C534.3 246.4 534.8 241.2 534.3 237.1 C533.8 233.1 532.6 229.3 532.1 225.7 C531.7 222.1 531.1 218.3 531.4 215.7 C531.8 213.1 532.4 211.3 534.3 210.0Z" fill="#5aff9d"/>
<path d="M537.1 220.0 C538.9 218.5 542.4 218.1 545.7 217.9 C549.0 217.6 553.6 217.9 557.1 218.6 C560.7 219.3 564.2 220.7 567.1 222.1 C570.0 223.6 576.2 223.4 574.6 227.4 C572.9 231.5 563.0 241.3 557.1 246.4 C551.3 251.6 542.8 257.7 539.3 258.3 C535.8 258.9 536.6 253.5 536.0 250.0 C535.4 246.5 535.9 241.0 535.7 237.1 C535.5 233.3 534.8 230.0 535.0 227.1 C535.2 224.3 535.4 221.5 537.1 220.0Z" fill="#9dff5a"/>
<path d="M536.4 228.6 C537.5 226.5 540.4 226.9 542.9 226.4 C545.4 226.0 548.6 225.6 551.4 225.7 C554.3 225.8 557.0 226.4 560.0 227.1 C563.0 227.9 569.8 226.9 569.3 230.0 C568.8 233.1 562.0 241.1 557.1 245.7 C552.3 250.4 543.4 257.1 540.0 257.9 C536.6 258.6 537.5 253.2 536.9 250.0 C536.3 246.8 536.5 242.1 536.4 238.6 C536.4 235.0 535.4 230.6 536.4 228.6Z" fill="#e4ff13"/>
<path d="M572.5 192.5 C574.4 189.4 580.4 183.8 585.0 181.2 C589.6 178.8 596.2 178.1 600.0 177.5 C603.8 176.9 607.5 176.7 607.5 177.5 C607.5 178.3 602.9 180.4 600.0 182.5 C597.1 184.6 593.3 187.5 590.0 190.0 C586.7 192.5 582.7 195.8 580.0 197.5 C577.3 199.2 575.0 200.8 573.8 200.0 C572.5 199.2 570.6 195.6 572.5 192.5Z" fill="#0054ff"/>
<path d="M590.0 183.8 C590.8 182.6 599.5 178.5 602.5 177.5 C605.5 176.5 608.8 176.9 608.0 178.0 C607.2 179.1 600.5 183.3 597.5 184.2 C594.5 185.2 589.2 184.9 590.0 183.8Z" fill="#0001ff"/>
<path d="M503.8 210.0 C504.2 208.1 509.4 205.4 512.5 203.8 C515.6 202.1 520.4 199.8 522.5 200.0 C524.6 200.2 525.8 203.3 525.0 205.0 C524.2 206.7 520.0 208.3 517.5 210.0 C515.0 211.7 512.3 215.0 510.0 215.0 C507.7 215.0 503.3 211.9 503.8 210.0Z" fill="#0054ff"/>
<polygon points="474.3,275.7 491.4,261.4 505.7,252.9 520.0,224.3 528.6,224.3 528.6,252.9 522.9,267.1 525.7,278.6 521.4,295.7 508.6,301.4 488.6,304.3 480.0,302.9" fill="#00a8ff"/>
<path d="M491.4 275.7 C492.6 273.9 494.8 273.6 497.1 272.1 C499.5 270.7 503.1 269.2 505.7 267.1 C508.3 265.1 510.7 262.4 512.9 260.0 C515.0 257.6 516.9 254.3 518.6 252.9 C520.2 251.4 521.9 251.0 522.9 251.4 C523.8 251.9 524.4 254.0 524.3 255.7 C524.2 257.4 523.1 259.5 522.1 261.4 C521.2 263.3 519.2 264.8 518.6 267.1 C518.0 269.5 519.3 272.9 518.6 275.7 C517.9 278.6 516.0 282.1 514.3 284.3 C512.6 286.4 511.0 287.6 508.6 288.6 C506.2 289.5 502.6 290.0 500.0 290.0 C497.4 290.0 494.5 289.8 492.9 288.6 C491.2 287.4 490.2 285.0 490.0 282.9 C489.8 280.7 490.2 277.5 491.4 275.7Z" fill="#16ffe1"/>
<path d="M475.0 279.3 C475.4 277.9 478.2 277.3 480.0 275.7 C481.8 274.2 484.3 271.9 485.7 270.0 C487.1 268.1 487.1 265.4 488.6 264.3 C490.0 263.2 492.4 263.8 494.3 263.6 C496.2 263.3 500.5 261.8 500.0 262.9 C499.5 263.9 493.8 267.6 491.4 270.0 C489.0 272.4 487.4 274.8 485.7 277.1 C484.0 279.5 482.4 282.1 481.4 284.3 C480.5 286.4 480.6 290.0 480.0 290.0 C479.4 290.0 478.7 286.1 477.9 284.3 C477.0 282.5 474.6 280.7 475.0 279.3Z" fill="#0054ff"/>
<path d="M517.1 242.9 C518.1 240.2 519.9 237.9 521.4 237.1 C523.0 236.4 525.7 236.9 526.4 238.6 C527.1 240.2 526.5 245.0 525.7 247.1 C524.9 249.3 523.1 250.5 521.4 251.4 C519.8 252.4 516.4 254.3 515.7 252.9 C515.0 251.4 516.2 245.5 517.1 242.9Z" fill="#0054ff"/>
<path d="M521.4 225.7 C522.5 223.6 525.9 222.4 526.9 224.3 C527.9 226.2 527.9 234.6 527.4 237.1 C527.0 239.6 525.4 239.3 524.3 239.3 C523.2 239.3 521.2 239.4 520.7 237.1 C520.2 234.9 520.4 227.9 521.4 225.7Z" fill="#0001ff"/>
<polygon points="438.6,270.0 485.7,270.0 488.6,304.3 491.4,308.6 485.7,332.9 445.7,332.9" fill="#00a8ff"/>
<path d="M439.3 280.0 C440.0 278.1 444.4 275.6 447.1 274.3 C449.9 273.0 453.1 271.9 455.7 272.1 C458.3 272.4 461.0 274.2 462.9 275.7 C464.8 277.3 466.2 279.5 467.1 281.4 C468.1 283.3 469.3 286.0 468.6 287.1 C467.9 288.3 464.8 289.0 462.9 288.6 C461.0 288.1 459.3 284.3 457.1 284.3 C455.0 284.3 452.4 288.3 450.0 288.6 C447.6 288.8 444.6 287.1 442.9 285.7 C441.1 284.3 438.6 281.9 439.3 280.0Z" fill="#0001ff"/>
<path d="M447.1 288.6 C449.0 286.5 454.5 286.4 457.1 286.4 C459.8 286.4 460.7 288.2 462.9 288.6 C465.0 288.9 468.6 286.9 470.0 288.6 C471.4 290.2 471.7 296.4 471.4 298.6 C471.2 300.7 470.5 301.2 468.6 301.4 C466.7 301.7 462.4 299.5 460.0 300.0 C457.6 300.5 456.2 303.6 454.3 304.3 C452.4 305.0 450.0 305.2 448.6 304.3 C447.1 303.3 446.0 301.2 445.7 298.6 C445.5 296.0 445.2 290.6 447.1 288.6Z" fill="#0054ff"/>
<path d="M447.1 304.3 C448.1 301.2 452.9 306.2 454.3 308.6 C455.7 311.0 456.0 315.5 455.7 318.6 C455.5 321.7 454.0 325.7 452.9 327.1 C451.7 328.6 449.5 331.0 448.6 327.1 C447.6 323.3 446.2 307.4 447.1 304.3Z" fill="#0054ff"/>
<path d="M460.0 314.3 C461.7 312.6 464.3 312.1 467.1 311.4 C470.0 310.7 474.0 311.2 477.1 310.0 C480.2 308.8 483.1 304.9 485.7 304.3 C488.3 303.7 491.9 304.0 492.9 306.4 C493.8 308.8 492.6 314.2 491.4 318.6 C490.2 323.0 491.7 330.5 485.7 332.9 C479.8 335.2 460.5 334.8 455.7 332.9 C451.0 331.0 456.4 324.5 457.1 321.4 C457.9 318.3 458.3 316.0 460.0 314.3Z" fill="#16ffe1"/>
<polygon points="445.7,297.1 460.0,297.1 458.6,311.4 456.4,321.4 453.6,332.9 449.3,341.4 442.9,347.1 435.7,352.9 425.7,356.4 414.3,360.0 400.0,361.4 400.0,354.3 428.6,348.6 442.9,335.7" fill="#00a8ff"/>
<path d="M458.6 297.1 C459.5 296.2 461.7 306.2 464.3 308.6 C466.9 311.0 471.2 309.8 474.3 311.4 C477.4 313.1 480.0 314.8 482.9 318.6 C485.7 322.4 488.8 330.2 491.4 334.3 C494.0 338.3 497.6 340.2 498.6 342.9 C499.5 345.5 498.8 347.9 497.1 350.0 C495.5 352.1 492.4 354.5 488.6 355.7 C484.8 356.9 479.0 356.9 474.3 357.1 C469.5 357.4 463.3 357.6 460.0 357.1 C456.7 356.7 455.1 356.7 454.3 354.3 C453.5 351.9 454.6 347.1 455.0 342.9 C455.4 338.6 455.8 333.3 456.4 328.6 C457.0 323.8 458.2 319.5 458.6 314.3 C458.9 309.0 457.6 298.1 458.6 297.1Z" fill="#16ffe1"/>
<path d="M480.0 297.1 C481.2 295.0 488.1 295.7 491.4 297.1 C494.8 298.6 500.0 302.9 500.0 305.7 C500.0 308.6 494.0 313.6 491.4 314.3 C488.8 315.0 486.2 312.9 484.3 310.0 C482.4 307.1 478.8 299.3 480.0 297.1Z" fill="#00a8ff"/>
<path d="M442.9 344.3 C444.8 342.6 447.3 339.5 448.6 340.0 C449.9 340.5 450.7 344.8 450.7 347.1 C450.7 349.5 449.9 353.6 448.6 354.3 C447.3 355.0 444.8 352.1 442.9 351.4 C441.0 350.7 437.1 351.2 437.1 350.0 C437.1 348.8 441.0 346.0 442.9 344.3Z" fill="#0054ff"/>
<polygon points="397.1,357.1 414.3,360.0 428.6,357.1 448.6,355.7 451.4,368.6 454.3,391.4 462.9,411.4 460.0,428.6 442.9,442.9 397.1,442.9" fill="#00a8ff"/>
<path d="M397.1 358.6 C399.0 354.9 405.7 357.1 408.6 357.9 C411.4 358.6 413.1 361.3 414.3 362.9 C415.5 364.4 416.7 365.5 415.7 367.1 C414.8 368.8 410.5 370.7 408.6 372.9 C406.7 375.0 406.2 378.8 404.3 380.0 C402.4 381.2 398.3 383.6 397.1 380.0 C396.0 376.4 395.2 362.3 397.1 358.6Z" fill="#0054ff"/>
<path d="M401.4 361.4 C402.4 360.2 405.7 359.5 407.1 360.0 C408.6 360.5 410.2 362.9 410.0 364.3 C409.8 365.7 407.1 368.1 405.7 368.6 C404.3 369.0 402.1 368.3 401.4 367.1 C400.7 366.0 400.5 362.6 401.4 361.4Z" fill="#0001ff"/>
<path d="M415.7 361.4 C417.6 359.0 422.1 360.2 425.7 360.0 C429.3 359.8 433.6 359.5 437.1 360.0 C440.7 360.5 446.2 361.4 447.1 362.9 C448.1 364.3 445.0 366.7 442.9 368.6 C440.7 370.5 436.7 371.9 434.3 374.3 C431.9 376.7 430.5 379.5 428.6 382.9 C426.7 386.2 424.5 390.5 422.9 394.3 C421.2 398.1 419.8 402.4 418.6 405.7 C417.4 409.0 417.4 411.7 415.7 414.3 C414.0 416.9 410.7 420.7 408.6 421.4 C406.4 422.1 403.6 420.7 402.9 418.6 C402.1 416.4 403.1 412.1 404.3 408.6 C405.5 405.0 408.6 401.0 410.0 397.1 C411.4 393.3 412.1 389.5 412.9 385.7 C413.6 381.9 413.8 378.3 414.3 374.3 C414.8 370.2 413.8 363.8 415.7 361.4Z" fill="#16ffe1"/>
<path d="M447.1 371.4 C448.2 372.4 449.3 376.7 449.3 380.0 C449.3 383.3 448.2 387.6 447.1 391.4 C446.1 395.2 444.5 399.3 442.9 402.9 C441.2 406.4 438.6 412.4 437.1 412.9 C435.7 413.3 434.5 408.8 434.3 405.7 C434.0 402.6 434.8 398.1 435.7 394.3 C436.7 390.5 438.8 386.2 440.0 382.9 C441.2 379.5 441.7 376.2 442.9 374.3 C444.0 372.4 446.1 370.5 447.1 371.4Z" fill="#0054ff"/>
<path d="M448.6 380.0 C449.6 379.0 451.7 385.7 452.1 388.6 C452.6 391.4 452.3 394.8 451.4 397.1 C450.6 399.5 448.1 403.3 447.1 402.9 C446.2 402.4 445.5 398.1 445.7 394.3 C446.0 390.5 447.5 381.0 448.6 380.0Z" fill="#0001ff"/>
<polygon points="356.6,396.6 469.7,396.6 473.1,434.3 490.3,451.4 531.4,468.6 581.1,475.4 579.4,506.3 565.7,520.0 552.0,530.3 541.7,532.0 531.4,520.0 480.0,520.0 445.7,506.3 402.9,485.7 356.6,434.3" fill="#00a8ff"/>
<path d="M390.9 441.1 C393.7 437.4 402.9 441.7 411.4 442.9 C420.0 444.0 436.6 445.7 442.3 448.0 C448.0 450.3 445.1 452.0 445.7 456.6 C446.3 461.1 448.6 471.4 445.7 475.4 C442.9 479.4 434.3 479.4 428.6 480.6 C422.9 481.7 416.6 482.9 411.4 482.3 C406.3 481.7 400.6 480.0 397.7 477.1 C394.9 474.3 395.4 471.1 394.3 465.1 C393.1 459.1 388.0 444.9 390.9 441.1Z" fill="#0054ff"/>
<path d="M392.6 442.9 C395.7 440.6 406.6 444.0 409.7 446.3 C412.9 448.6 410.6 452.9 411.4 456.6 C412.3 460.3 414.9 464.9 414.9 468.6 C414.9 472.3 413.7 477.4 411.4 478.9 C409.1 480.3 403.6 478.9 401.1 477.1 C398.7 475.4 398.6 471.4 396.9 468.6 C395.1 465.7 391.6 464.3 390.9 460.0 C390.1 455.7 389.4 445.1 392.6 442.9Z" fill="#0001ff"/>
<path d="M356.6 396.6 C359.4 391.4 369.7 391.4 373.7 396.6 C377.7 401.7 378.6 420.3 380.6 427.4 C382.6 434.6 384.0 436.6 385.7 439.4 C387.4 442.3 390.9 443.4 390.9 444.6 C390.9 445.7 388.0 447.1 385.7 446.3 C383.4 445.4 380.3 441.7 377.1 439.4 C374.0 437.1 370.3 434.6 366.9 432.6 C363.4 430.6 358.3 433.4 356.6 427.4 C354.9 421.4 353.7 401.7 356.6 396.6Z" fill="#0001ff"/>
<path d="M378.0 396.6 C379.4 393.7 386.4 395.1 389.1 396.6 C391.9 398.0 393.0 402.9 394.3 405.1 C395.6 407.4 397.4 408.0 396.9 410.3 C396.3 412.6 393.0 417.1 390.9 418.9 C388.7 420.6 385.7 421.4 384.0 420.6 C382.3 419.7 381.6 417.7 380.6 413.7 C379.6 409.7 376.6 399.4 378.0 396.6Z" fill="#0001ff"/>
<path d="M404.9 395.7 C408.5 393.9 421.3 393.9 424.3 395.7 C427.2 397.6 423.0 403.9 422.6 406.9 C422.1 409.9 422.7 411.1 421.7 413.7 C420.7 416.3 419.1 420.6 416.6 422.3 C414.0 424.0 408.7 424.9 406.3 424.0 C403.9 423.1 402.6 420.0 402.0 417.1 C401.4 414.3 402.0 410.4 402.5 406.9 C403.0 403.3 401.3 397.6 404.9 395.7Z" fill="#16ffe1"/>
<path d="M435.4 430.9 C436.9 425.1 444.6 418.0 449.1 417.1 C453.7 416.3 460.0 420.9 462.9 425.7 C465.7 430.6 467.4 442.3 466.3 446.3 C465.1 450.3 458.9 448.0 456.0 449.7 C453.1 451.4 450.9 452.3 449.1 456.6 C447.4 460.9 447.7 472.3 445.7 475.4 C443.7 478.6 438.0 479.4 437.1 475.4 C436.3 471.4 440.9 458.9 440.6 451.4 C440.3 444.0 434.0 436.6 435.4 430.9Z" fill="#0054ff"/>
<path d="M483.4 472.0 C486.3 468.6 492.6 468.0 497.1 468.6 C501.7 469.1 507.4 472.6 510.9 475.4 C514.3 478.3 514.6 482.9 517.7 485.7 C520.9 488.6 527.7 488.6 529.7 492.6 C531.7 496.6 533.4 506.9 529.7 509.7 C526.0 512.6 513.1 510.6 507.4 509.7 C501.7 508.9 499.1 505.7 495.4 504.6 C491.7 503.4 487.7 505.4 485.1 502.9 C482.6 500.3 480.3 494.3 480.0 489.1 C479.7 484.0 480.6 475.4 483.4 472.0Z" fill="#0054ff"/>
<path d="M505.7 506.3 C509.6 503.7 523.7 500.6 527.1 502.9 C530.6 505.1 527.3 515.7 526.3 520.0 C525.3 524.3 523.7 528.0 521.1 528.6 C518.6 529.1 513.7 525.1 510.9 523.4 C508.0 521.7 504.9 521.1 504.0 518.3 C503.1 515.4 501.9 508.9 505.7 506.3Z" fill="#0001ff"/>
<path d="M529.7 489.1 C532.6 487.9 543.7 493.4 548.6 495.1 C553.4 496.9 557.4 497.0 558.9 499.4 C560.3 501.9 559.4 507.4 557.1 509.7 C554.9 512.0 548.9 512.3 545.1 513.1 C541.4 514.0 537.1 516.6 534.9 514.9 C532.6 513.1 532.3 507.1 531.4 502.9 C530.6 498.6 526.9 490.4 529.7 489.1Z" fill="#0054ff"/>
<polygon points="531.4,509.7 541.7,532.0 550.3,542.3 559.7,556.0 565.7,568.0 571.7,565.4 563.1,550.9 552.9,537.1 546.0,523.4" fill="#00a8ff"/>
<path d="M480.0 482.3 C480.9 481.0 485.6 480.6 486.9 481.4 C488.1 482.3 488.6 486.1 487.7 487.4 C486.9 488.7 483.0 490.0 481.7 489.1 C480.4 488.3 479.1 483.6 480.0 482.3Z" fill="#16ffe1"/>
<path d="M497.1 485.7 C498.0 484.6 502.6 483.4 504.0 484.0 C505.4 484.6 506.6 488.0 505.7 489.1 C504.9 490.3 500.3 491.4 498.9 490.9 C497.4 490.3 496.3 486.9 497.1 485.7Z" fill="#16ffe1"/>
<polygon points="449.1,496.0 480.0,496.0 486.9,502.9 469.7,520.0 445.7,537.1 432.0,547.4 437.1,520.0 442.3,502.9" fill="#16ffe1"/>
<polygon points="428.6,547.4 440.6,539.7 453.4,532.9 462.9,522.6 474.0,514.0 485.1,503.7 490.3,496.0 480.0,498.6 469.7,507.1 459.4,517.4 449.1,527.7 437.1,536.3 426.9,543.1" fill="#00a8ff"/>
<polygon points="432.0,545.7 445.7,538.0 456.0,532.0 462.9,524.3 461.1,523.4 453.4,531.1 442.3,537.1 430.3,543.7" fill="#0054ff"/>
<path d="M356.6 425.7 C357.7 424.6 360.6 429.1 363.4 432.6 C366.3 436.0 370.0 440.9 373.7 446.3 C377.4 451.7 381.7 459.4 385.7 465.1 C389.7 470.9 396.3 477.4 397.7 480.6 C399.1 483.7 397.1 486.0 394.3 484.0 C391.4 482.0 384.9 474.0 380.6 468.6 C376.3 463.1 372.6 456.3 368.6 451.4 C364.6 446.6 358.6 443.7 356.6 439.4 C354.6 435.1 355.4 426.9 356.6 425.7Z" fill="#00a8ff"/>
<path d="M640.0 175.0 C641.2 172.9 651.7 169.6 657.5 167.5 C663.3 165.4 668.8 162.5 675.0 162.5 C681.2 162.5 689.2 165.4 695.0 167.5 C700.8 169.6 706.7 171.2 710.0 175.0 C713.3 178.8 711.7 186.2 715.0 190.0 C718.3 193.8 725.4 196.7 730.0 197.5 C734.6 198.3 740.8 193.8 742.5 195.0 C744.2 196.2 742.9 202.5 740.0 205.0 C737.1 207.5 730.0 210.0 725.0 210.0 C720.0 210.0 714.2 208.3 710.0 205.0 C705.8 201.7 704.2 194.2 700.0 190.0 C695.8 185.8 690.8 182.1 685.0 180.0 C679.2 177.9 670.8 177.5 665.0 177.5 C659.2 177.5 654.2 180.4 650.0 180.0 C645.8 179.6 638.8 177.1 640.0 175.0Z" fill="#5aff9d"/>
<path d="M650.0 170.0 C651.7 168.5 659.2 166.7 665.0 166.2 C670.8 165.8 679.2 166.5 685.0 167.5 C690.8 168.5 695.4 170.4 700.0 172.5 C704.6 174.6 710.0 177.1 712.5 180.0 C715.0 182.9 712.9 187.7 715.0 190.0 C717.1 192.3 720.8 193.3 725.0 193.8 C729.2 194.2 736.7 191.9 740.0 192.5 C743.3 193.1 746.7 196.2 745.0 197.5 C743.3 198.8 735.0 200.2 730.0 200.0 C725.0 199.8 719.2 198.8 715.0 196.2 C710.8 193.8 709.2 188.5 705.0 185.0 C700.8 181.5 695.8 177.1 690.0 175.0 C684.2 172.9 675.8 172.5 670.0 172.5 C664.2 172.5 658.3 175.4 655.0 175.0 C651.7 174.6 648.3 171.5 650.0 170.0Z" fill="#16ffe1"/>
<path d="M690.0 160.0 C690.0 162.1 696.7 165.0 700.0 167.5 C703.3 170.0 707.9 172.1 710.0 175.0 C712.1 177.9 710.8 182.5 712.5 185.0 C714.2 187.5 717.5 189.0 720.0 190.0 C722.5 191.0 728.3 193.8 727.5 191.2 C726.7 188.8 717.9 180.0 715.0 175.0 C712.1 170.0 712.5 164.6 710.0 161.2 C707.5 157.9 703.3 155.2 700.0 155.0 C696.7 154.8 690.0 157.9 690.0 160.0Z" fill="#00a8ff"/>
<path d="M707.5 160.0 C710.8 158.8 725.8 159.2 730.0 160.0 C734.2 160.8 734.2 163.5 732.5 165.0 C730.8 166.5 723.3 167.1 720.0 168.8 C716.7 170.4 714.2 175.2 712.5 175.0 C710.8 174.8 710.8 170.0 710.0 167.5 C709.2 165.0 704.2 161.2 707.5 160.0Z" fill="#0054ff"/>
<path d="M1100.0 740.0 C1106.7 739.6 1109.6 745.4 1115.0 747.5 C1120.4 749.6 1125.8 751.0 1132.5 752.5 C1139.2 754.0 1147.1 755.2 1155.0 756.2 C1162.9 757.3 1171.7 758.3 1180.0 758.8 C1188.3 759.2 1196.7 759.2 1205.0 758.8 C1213.3 758.3 1221.7 757.3 1230.0 756.2 C1238.3 755.2 1247.5 753.5 1255.0 752.5 C1262.5 751.5 1267.5 750.4 1275.0 750.0 C1282.5 749.6 1291.7 750.0 1300.0 750.0 C1308.3 750.0 1316.7 749.8 1325.0 750.0 C1333.3 750.2 1341.7 750.8 1350.0 751.2 C1358.3 751.7 1365.0 752.1 1375.0 752.5 C1385.0 752.9 1404.2 750.0 1410.0 753.8 C1415.8 757.5 1432.5 771.5 1410.0 775.0 C1387.5 778.5 1305.8 770.8 1275.0 775.0 C1244.2 779.2 1258.3 795.8 1225.0 800.0 C1191.7 804.2 1100.0 808.3 1075.0 800.0 C1050.0 791.7 1070.8 760.0 1075.0 750.0 C1079.2 740.0 1093.3 740.4 1100.0 740.0Z" fill="#16ffe1"/>
<path d="M1101.2 747.5 C1106.7 746.7 1104.4 754.6 1107.5 757.5 C1110.6 760.4 1114.6 762.9 1120.0 765.0 C1125.4 767.1 1132.9 768.8 1140.0 770.0 C1147.1 771.2 1154.6 772.1 1162.5 772.5 C1170.4 772.9 1179.6 772.9 1187.5 772.5 C1195.4 772.1 1202.9 771.2 1210.0 770.0 C1217.1 768.8 1224.2 766.2 1230.0 765.0 C1235.8 763.8 1240.0 763.3 1245.0 762.5 C1250.0 761.7 1256.2 759.6 1260.0 760.0 C1263.8 760.4 1270.8 758.3 1267.5 765.0 C1264.2 771.7 1272.1 794.2 1240.0 800.0 C1207.9 805.8 1102.5 806.2 1075.0 800.0 C1047.5 793.8 1070.6 771.2 1075.0 762.5 C1079.4 753.8 1095.8 748.3 1101.2 747.5Z" fill="#00a8ff"/>
<polygon points="1275.0,762.5 1300.0,759.5 1325.0,760.5 1350.0,759.5 1375.0,759.5 1410.0,758.8 1410.0,767.5 1275.0,767.5" fill="#00a8ff"/>
<path d="M1092.5 782.5 C1096.7 780.4 1105.0 786.0 1112.5 787.5 C1120.0 789.0 1129.2 790.4 1137.5 791.2 C1145.8 792.1 1154.2 792.5 1162.5 792.5 C1170.8 792.5 1180.4 792.1 1187.5 791.2 C1194.6 790.4 1199.6 789.0 1205.0 787.5 C1210.4 786.0 1216.7 780.4 1220.0 782.5 C1223.3 784.6 1247.1 797.1 1225.0 800.0 C1202.9 802.9 1109.6 802.9 1087.5 800.0 C1065.4 797.1 1088.3 784.6 1092.5 782.5Z" fill="#0054ff"/>
<path d="M90.0 722.5 C93.5 716.2 105.4 722.5 111.2 722.5 C117.1 722.5 120.2 722.1 125.0 722.5 C129.8 722.9 135.4 723.8 140.0 725.0 C144.6 726.2 149.4 727.9 152.5 730.0 C155.6 732.1 159.2 734.6 158.8 737.5 C158.3 740.4 154.8 744.6 150.0 747.5 C145.2 750.4 136.5 753.1 130.0 755.0 C123.5 756.9 117.9 757.9 111.2 758.8 C104.6 759.6 93.5 766.0 90.0 760.0 C86.5 754.0 86.5 728.8 90.0 722.5Z" fill="#5aff9d"/>
<path d="M90.0 735.0 C93.5 731.2 106.0 734.4 111.2 735.0 C116.5 735.6 119.0 736.7 121.2 738.8 C123.5 740.8 125.2 745.0 125.0 747.5 C124.8 750.0 122.3 752.3 120.0 753.8 C117.7 755.2 116.2 755.6 111.2 756.2 C106.2 756.9 93.5 761.0 90.0 757.5 C86.5 754.0 86.5 738.8 90.0 735.0Z" fill="#16ffe1"/>
<polygon points="217.5,747.5 235.0,746.5 255.0,747.5 275.0,748.0 295.0,747.0 307.5,747.5 300.0,757.5 275.0,762.5 250.0,755.0 225.0,752.5" fill="#16ffe1"/>
<path d="M272.5 750.5 C274.2 749.0 280.4 750.0 285.0 750.0 C289.6 750.0 297.9 749.5 300.0 750.8 C302.1 752.0 300.0 755.8 297.5 757.5 C295.0 759.2 288.8 761.0 285.0 761.2 C281.2 761.5 277.1 760.5 275.0 758.8 C272.9 757.0 270.8 752.0 272.5 750.5Z" fill="#00a8ff"/>
<path d="M282.5 755.0 C282.9 754.0 288.3 753.3 290.0 753.8 C291.7 754.2 292.9 756.5 292.5 757.5 C292.1 758.5 289.2 760.4 287.5 760.0 C285.8 759.6 282.1 756.0 282.5 755.0Z" fill="#0054ff"/>
<polygon points="387.5,738.8 412.5,741.2 432.5,742.5 455.0,742.5 455.0,750.0 387.5,747.5" fill="#16ffe1"/>
<polygon points="400.0,743.0 425.0,744.5 455.0,745.0 455.0,750.0 400.0,748.8" fill="#00a8ff"/>
<polygon points="445.0,741.2 475.0,742.5 500.0,741.2 532.5,745.5 555.0,750.0 580.0,753.8 600.0,760.0 622.5,765.0 630.0,770.0 640.0,776.2 655.0,778.8 675.0,775.0 700.0,776.2 725.0,775.0 750.0,775.0 775.0,776.2 805.0,781.2 805.0,800.0 600.0,800.0 590.0,762.5 550.0,757.5 445.0,750.0" fill="#16ffe1"/>
<polygon points="532.5,748.8 555.0,752.5 567.5,754.5 567.5,757.5 532.5,753.8" fill="#00a8ff"/>
<path d="M622.5 772.5 C627.5 773.3 630.4 782.1 635.0 785.0 C639.6 787.9 643.3 789.0 650.0 790.0 C656.7 791.0 666.7 790.9 675.0 791.2 C683.3 791.6 691.7 792.0 700.0 792.0 C708.3 792.0 716.7 791.5 725.0 791.2 C733.3 791.0 741.7 791.1 750.0 790.5 C758.3 789.9 765.8 788.2 775.0 787.5 C784.2 786.8 800.0 784.2 805.0 786.2 C810.0 788.3 839.2 797.7 805.0 800.0 C770.8 802.3 633.3 803.3 600.0 800.0 C566.7 796.7 601.2 784.6 605.0 780.0 C608.8 775.4 617.5 771.7 622.5 772.5Z" fill="#00a8ff"/>
<path d="M603.0 781.2 C604.7 778.3 611.3 778.8 615.0 778.8 C618.7 778.8 623.1 779.4 625.0 781.2 C626.9 783.1 626.7 787.5 626.2 790.0 C625.8 792.5 626.0 795.2 622.5 796.2 C619.0 797.3 608.2 798.8 605.0 796.2 C601.8 793.8 601.3 784.2 603.0 781.2Z" fill="#0054ff"/>
<path d="M603.0 786.2 C604.5 784.6 610.3 784.4 612.5 785.0 C614.7 785.6 616.2 788.2 616.2 790.0 C616.2 791.8 614.6 794.7 612.5 795.5 C610.4 796.3 605.3 796.5 603.8 795.0 C602.2 793.5 601.5 787.9 603.0 786.2Z" fill="#0001ff"/>
<polygon points="790.0,761.2 815.0,767.5 835.0,771.2 860.0,772.5 885.0,771.2 910.0,767.5 935.0,762.5 940.0,775.0 875.0,783.8 850.0,781.2 825.0,778.8 790.0,776.2" fill="#5aff9d"/>
<polygon points="790.0,776.2 825.0,778.8 850.0,781.2 850.0,786.2 790.0,787.5" fill="#16ffe1"/>
<polygon points="960.0,768.0 975.0,766.5 990.0,768.0 990.0,773.0 962.5,772.5" fill="#16ffe1"/>
<path d="M148.8 545.0 C153.8 543.5 172.9 543.1 177.5 545.0 C182.1 546.9 177.9 554.0 176.2 556.2 C174.6 558.5 171.0 558.5 167.5 558.8 C164.0 559.0 158.3 558.3 155.0 557.5 C151.7 556.7 148.5 555.8 147.5 553.8 C146.5 551.7 143.8 546.5 148.8 545.0Z" fill="#00a8ff"/>
<path d="M567.0 572.5 C568.5 572.9 573.5 582.1 575.0 587.5 C576.5 592.9 577.1 600.0 576.2 605.0 C575.4 610.0 572.7 613.8 570.0 617.5 C567.3 621.2 562.5 624.6 560.0 627.5 C557.5 630.4 556.7 632.9 555.0 635.0 C553.3 637.1 551.7 638.3 550.0 640.0 C548.3 641.7 547.5 644.6 545.0 645.0 C542.5 645.4 536.9 644.6 535.0 642.5 C533.1 640.4 533.8 635.8 533.8 632.5 C533.8 629.2 531.9 624.8 535.0 622.5 C538.1 620.2 548.3 621.2 552.5 618.8 C556.7 616.2 558.1 611.0 560.0 607.5 C561.9 604.0 562.7 601.2 563.8 597.5 C564.8 593.8 565.7 589.2 566.2 585.0 C566.8 580.8 565.5 572.1 567.0 572.5Z" fill="#16ffe1"/>
<path d="M533.8 622.5 C534.9 620.8 539.9 623.0 543.0 622.5 C546.1 622.0 551.1 618.0 552.5 619.2 C553.9 620.5 551.9 627.8 551.2 630.0 C550.6 632.2 550.2 631.8 548.8 632.5 C547.3 633.2 544.6 634.2 542.5 634.2 C540.4 634.3 537.7 635.0 536.2 633.0 C534.8 631.0 532.6 624.2 533.8 622.5Z" fill="#00a8ff"/>
<path d="M642.5 632.5 C644.6 630.4 649.2 629.2 650.0 630.0 C650.8 630.8 649.2 634.8 647.5 637.5 C645.8 640.2 642.3 643.8 640.0 646.2 C637.7 648.8 635.4 651.9 633.8 652.5 C632.1 653.1 629.4 651.7 630.0 650.0 C630.6 648.3 635.4 645.4 637.5 642.5 C639.6 639.6 640.4 634.6 642.5 632.5Z" fill="#16ffe1"/>
<path d="M139.0 566.0 C141.5 564.0 147.5 563.5 152.0 562.0 C156.5 560.5 162.0 558.7 166.0 557.0 C170.0 555.3 173.8 551.5 176.0 552.0 C178.2 552.5 180.0 557.7 179.0 560.0 C178.0 562.3 173.2 564.3 170.0 566.0 C166.8 567.7 163.3 568.3 160.0 570.0 C156.7 571.7 153.3 574.3 150.0 576.0 C146.7 577.7 142.5 578.8 140.0 580.0 C137.5 581.2 135.5 584.0 135.0 583.0 C134.5 582.0 136.3 576.8 137.0 574.0 C137.7 571.2 136.5 568.0 139.0 566.0Z" fill="#16ffe1"/>
<path d="M148.0 548.0 C150.2 544.7 155.2 538.0 160.0 536.0 C164.8 534.0 174.4 533.3 177.0 536.0 C179.6 538.7 177.8 548.7 175.6 552.0 C173.4 555.3 167.9 554.3 164.0 556.0 C160.1 557.7 155.3 560.3 152.0 562.0 C148.7 563.7 146.0 565.7 144.0 566.0 C142.0 566.3 139.5 565.7 140.0 564.0 C140.5 562.3 145.7 558.7 147.0 556.0 C148.3 553.3 145.8 551.3 148.0 548.0Z" fill="#00a8ff"/>
<path d="M146.0 536.0 C148.8 534.0 161.0 534.3 163.0 536.0 C165.0 537.7 160.2 543.7 158.0 546.0 C155.8 548.3 152.0 549.7 150.0 550.0 C148.0 550.3 146.7 550.3 146.0 548.0 C145.3 545.7 143.2 538.0 146.0 536.0Z" fill="#0054ff"/>
<polygon points="394.3,356.6 416.6,356.6 433.7,351.4 449.1,339.4 456.0,341.1 453.4,356.6 451.7,372.0 456.0,389.1 469.7,396.0 471.4,420.0 462.9,430.3 442.3,426.9 435.4,454.3 411.4,468.0 390.9,468.0 390.9,433.7 396.0,409.7 411.4,396.0 409.7,378.9 401.1,368.6" fill="#00a8ff"/>
<path d="M398.6 359.1 C401.0 356.9 407.0 356.3 411.4 354.9 C415.9 353.4 420.6 352.1 425.1 350.6 C429.7 349.0 434.9 347.1 438.9 345.4 C442.9 343.7 446.6 340.9 449.1 340.3 C451.7 339.7 453.6 340.1 453.9 342.0 C454.3 343.9 453.1 349.3 451.2 351.4 C449.3 353.6 446.1 354.0 442.3 354.9 C438.5 355.7 432.9 355.9 428.6 356.6 C424.3 357.3 420.4 357.9 416.6 359.1 C412.7 360.4 407.9 362.1 405.4 364.3 C403.0 366.4 402.1 369.6 402.0 372.0 C401.9 374.4 405.2 377.6 404.9 378.9 C404.6 380.1 401.6 381.4 400.3 379.7 C398.9 378.0 397.1 372.0 396.9 368.6 C396.6 365.1 396.1 361.4 398.6 359.1Z" fill="#0054ff"/>
<path d="M400.3 361.7 C401.3 359.9 406.1 358.6 408.0 359.1 C409.9 359.7 411.4 363.1 411.4 365.1 C411.4 367.1 409.6 370.3 408.0 371.1 C406.4 372.0 403.3 371.9 402.0 370.3 C400.7 368.7 399.3 363.6 400.3 361.7Z" fill="#0001ff"/>
<path d="M433.7 360.0 C437.1 358.3 442.4 356.9 445.7 356.6 C449.0 356.3 452.3 356.6 453.4 358.3 C454.6 360.0 453.9 364.3 452.6 366.9 C451.3 369.4 448.3 371.1 445.7 373.7 C443.1 376.3 440.0 379.1 437.1 382.3 C434.3 385.4 430.9 389.1 428.6 392.6 C426.3 396.0 424.9 399.4 423.4 402.9 C422.0 406.3 421.4 410.0 420.0 413.1 C418.6 416.3 417.1 420.0 414.9 421.7 C412.6 423.4 408.4 424.0 406.3 423.4 C404.1 422.9 402.3 420.9 402.0 418.3 C401.7 415.7 403.0 411.4 404.6 408.0 C406.1 404.6 409.4 401.4 411.4 397.7 C413.4 394.0 415.4 389.4 416.6 385.7 C417.7 382.0 416.9 378.6 418.3 375.4 C419.7 372.3 422.6 369.4 425.1 366.9 C427.7 364.3 430.3 361.7 433.7 360.0Z" fill="#16ffe1"/>
<path d="M435.1 362.1 C435.9 360.4 439.1 359.4 442.3 358.6 C445.4 357.9 451.9 355.9 453.9 357.4 C455.9 359.0 455.7 365.7 454.3 367.9 C452.9 370.0 448.5 370.2 445.7 370.3 C442.9 370.4 439.3 369.9 437.5 368.6 C435.7 367.2 434.3 363.7 435.1 362.1Z" fill="#5aff9d"/>
<path d="M445.7 375.4 C447.4 373.4 449.5 370.9 450.9 372.0 C452.2 373.1 453.6 378.3 453.9 382.3 C454.3 386.3 454.3 392.0 452.9 396.0 C451.5 400.0 447.8 402.9 445.7 406.3 C443.7 409.7 442.3 414.3 440.6 416.6 C438.9 418.9 436.6 421.1 435.4 420.0 C434.3 418.9 433.7 413.7 433.7 409.7 C433.7 405.7 434.3 400.3 435.4 396.0 C436.6 391.7 438.9 387.4 440.6 384.0 C442.3 380.6 444.0 377.4 445.7 375.4Z" fill="#0054ff"/>
<path d="M447.8 377.1 C448.6 374.6 449.9 372.3 450.9 373.7 C451.9 375.1 453.4 381.4 453.8 385.7 C454.1 390.0 453.9 395.4 452.9 399.4 C451.9 403.4 449.2 409.1 447.8 409.7 C446.3 410.3 444.7 406.3 444.3 402.9 C444.0 399.4 445.1 393.4 445.7 389.1 C446.3 384.9 446.9 379.7 447.8 377.1Z" fill="#0001ff"/>
<polygon points="442.3,426.9 456.0,423.4 466.3,426.9 466.3,454.3 442.3,454.3 438.9,437.1" fill="#0054ff"/>
<path d="M456.0 430.3 C457.7 428.0 464.0 427.4 466.3 428.6 C468.6 429.7 470.3 434.0 469.7 437.1 C469.1 440.3 465.1 446.6 462.9 447.4 C460.6 448.3 457.1 445.1 456.0 442.3 C454.9 439.4 454.3 432.6 456.0 430.3Z" fill="#00a8ff"/>
<path d="M373.7 396.0 C374.9 393.0 380.6 392.6 384.0 393.4 C387.4 394.3 392.1 398.4 394.3 401.1 C396.4 403.9 397.4 406.9 396.9 409.7 C396.3 412.6 393.3 416.6 390.9 418.3 C388.4 420.0 384.6 421.1 382.3 420.0 C380.0 418.9 378.6 415.4 377.1 411.4 C375.7 407.4 372.6 399.0 373.7 396.0Z" fill="#0001ff"/>
<polygon points="356.6,375.4 370.3,377.1 373.7,396.0 377.1,420.0 370.3,430.3 356.6,420.0" fill="#0054ff"/>
<polygon points="356.6,380.6 368.6,382.3 370.3,396.0 356.6,399.4" fill="#0001ff"/>
<path d="M1101.2 190.0 C1102.2 187.0 1104.4 187.0 1106.2 187.0 C1108.1 187.0 1111.5 187.0 1112.5 190.0 C1113.5 193.0 1112.2 199.6 1112.0 205.0 C1111.8 210.4 1111.4 217.3 1111.5 222.5 C1111.6 227.7 1112.8 231.9 1112.5 236.2 C1112.2 240.6 1111.7 245.0 1110.0 248.8 C1108.3 252.5 1105.0 256.5 1102.5 258.8 C1100.0 261.0 1095.6 264.0 1095.0 262.5 C1094.4 261.0 1097.3 254.4 1098.8 250.0 C1100.2 245.6 1103.3 240.8 1103.8 236.2 C1104.2 231.7 1101.8 227.7 1101.2 222.5 C1100.8 217.3 1100.8 210.4 1100.8 205.0 C1100.8 199.6 1100.3 193.0 1101.2 190.0Z" fill="#9dff5a"/>
<path d="M222.5 339.8 C224.2 338.9 231.4 341.5 237.2 341.5 C243.1 341.5 252.0 338.3 257.8 339.8 C263.5 341.2 268.1 347.2 271.5 350.0 C274.9 352.8 276.5 353.0 278.2 356.8 C280.0 360.5 280.3 367.7 281.8 372.2 C283.2 376.8 287.0 382.8 286.8 384.2 C286.5 385.7 282.0 383.6 280.0 380.8 C278.0 377.9 276.8 371.2 274.8 367.2 C272.8 363.2 270.8 359.9 268.0 356.8 C265.2 353.6 262.3 350.2 257.8 348.2 C253.2 346.2 245.7 345.0 240.5 344.8 C235.3 344.5 229.8 347.3 226.8 346.5 C223.8 345.7 220.8 340.6 222.5 339.8Z" fill="#0001ff"/>
<path d="M146.2 337.5 C146.9 337.7 149.3 343.3 151.2 347.5 C153.2 351.7 155.9 357.9 158.0 362.5 C160.1 367.1 162.0 371.2 163.8 375.0 C165.5 378.8 168.5 383.5 168.8 385.0 C169.0 386.5 167.0 385.8 165.5 383.8 C164.0 381.7 162.0 376.7 160.0 372.5 C158.0 368.3 155.8 363.1 153.8 358.8 C151.7 354.4 148.8 349.8 147.5 346.2 C146.2 342.7 145.6 337.3 146.2 337.5Z" fill="#0054ff"/>
</g>
<g clip-path="url(#fr)">
<polygon class="ld" points="1392.5,140.0 1390.0,140.6 1386.2,141.9 1381.2,143.1 1375.0,144.4 1368.8,145.6 1362.5,146.9 1357.5,148.1 1352.5,150.0 1348.1,153.1 1350.0,154.4 1345.0,156.9 1342.5,160.6 1341.2,163.1 1337.5,166.2 1340.0,168.8 1335.0,171.9 1331.2,173.1 1326.2,175.6 1322.5,177.5 1319.4,180.0 1318.5,183.8 1319.4,188.8 1320.6,192.5 1323.8,195.0 1327.5,196.2 1331.2,195.0 1334.4,193.1 1337.5,191.2 1339.4,190.0 1340.0,192.5 1341.9,196.2 1343.8,200.0 1345.6,203.1 1348.1,205.0 1350.0,206.9 1352.5,206.2 1355.0,205.0 1357.5,203.1 1359.4,201.2 1360.6,198.1 1360.0,195.0 1361.9,192.5 1362.5,188.8 1363.1,185.0 1362.5,181.2 1363.8,178.1 1366.2,175.6 1370.0,173.1 1373.8,171.2 1376.2,167.5 1378.8,164.4 1382.5,162.8 1387.5,162.2 1392.5,162.8 1392.5,165.6 1387.5,166.5 1382.5,168.8 1378.8,172.5 1376.9,178.1 1377.8,182.5 1380.6,186.0 1385.0,187.5 1392.5,188.1"/>
<polygon class="ld" points="1365.6,198.1 1367.5,196.2 1368.1,199.4 1366.2,201.9"/>
<polygon class="ld" points="1284.4,194.4 1287.5,193.8 1292.5,195.0 1293.1,198.1 1290.0,200.0 1288.8,201.9 1293.1,203.8 1295.0,206.2 1296.9,210.0 1298.8,213.8 1300.0,216.9 1303.1,218.8 1305.6,220.6 1306.2,223.1 1304.4,225.6 1300.0,226.9 1295.0,227.5 1290.0,228.8 1285.0,230.0 1281.2,231.9 1283.8,228.8 1286.2,226.2 1287.5,224.4 1285.0,223.1 1283.8,221.2 1286.2,219.4 1287.5,216.9 1285.6,215.0 1286.2,212.5 1285.0,210.0 1283.1,208.1 1281.9,205.0 1280.0,203.1 1280.6,200.0 1281.9,196.9"/>
<polygon class="ld" points="1266.2,213.8 1268.8,211.2 1273.1,210.0 1277.5,210.0 1280.0,212.5 1280.0,216.2 1278.8,220.0 1275.0,223.1 1270.6,224.4 1266.9,225.0 1265.0,223.1 1266.9,220.0 1265.0,217.5"/>
<polygon class="ld" points="1215.0,163.1 1217.5,160.6 1221.2,161.2 1225.0,162.8 1228.8,161.2 1233.8,160.6 1238.8,160.0 1243.8,159.4 1248.8,160.6 1251.9,163.8 1251.2,166.9 1247.5,169.4 1242.5,171.2 1237.5,172.5 1232.5,173.1 1227.5,171.9 1222.5,170.0 1218.8,167.5 1216.2,166.2"/>
<circle cx="1270.6" cy="139.4" r="1.4" fill="#000"/>
<circle cx="1276.0" cy="179.4" r="1.4" fill="#000"/>
<circle cx="1296.5" cy="185.9" r="1.4" fill="#000"/>
<circle cx="1276.9" cy="198.1" r="1.4" fill="#000"/>
<circle cx="1278.1" cy="200.0" r="1.4" fill="#000"/>
<circle cx="1290.6" cy="192.5" r="1.4" fill="#000"/>
<polygon class="ld" points="1410.0,191.0 1392.5,191.0 1383.8,191.0 1380.0,193.1 1379.0,197.5 1378.8,202.5 1377.8,206.9 1376.9,210.0 1373.8,211.9 1370.0,212.5 1366.2,211.2 1362.5,212.5 1357.5,213.8 1353.8,215.0 1350.0,216.2 1346.9,214.0 1344.4,211.9 1341.9,212.5 1338.1,211.2 1337.5,208.8 1336.9,205.0 1335.6,201.9 1333.8,200.6 1331.2,202.5 1330.6,206.2 1331.2,211.2 1331.2,216.2 1327.5,216.2 1323.8,217.5 1320.0,219.4 1316.9,222.5 1314.4,225.0 1311.2,226.9 1307.5,228.8 1305.0,230.0 1300.0,231.9 1296.2,233.8 1293.1,236.2 1291.2,237.8 1287.5,238.1 1284.4,239.4 1285.0,241.9 1290.0,243.1 1293.8,245.6 1296.2,248.8 1297.5,251.9 1298.8,254.4 1297.5,257.5 1295.6,260.6 1292.5,261.2 1287.5,260.6 1281.2,260.4 1275.0,260.0 1271.2,261.2 1268.8,263.1 1269.4,267.5 1270.0,272.5 1268.8,277.5 1267.5,281.2 1269.4,283.8 1269.4,288.8 1272.5,289.0 1276.2,288.8 1278.8,291.2 1280.6,293.8 1280.0,298.1 1278.1,301.2 1275.0,303.8 1271.2,306.2 1268.8,310.0 1266.9,313.8 1265.6,317.5 1266.2,321.2 1263.8,324.4 1260.0,326.9 1255.0,329.4 1253.1,333.8 1250.6,337.5 1248.8,342.5 1246.9,347.5 1243.8,355.0 1240.5,361.2 1242.5,370.0 1243.0,380.0 1239.5,387.5 1241.2,395.0 1245.0,400.0 1250.0,407.5 1255.0,415.0 1260.0,421.2 1266.2,426.2 1272.5,431.2 1280.0,430.0 1290.0,428.8 1300.0,427.0 1310.0,424.5 1317.5,424.2 1321.2,428.8 1325.0,432.5 1332.5,432.5 1335.0,438.8 1333.8,447.5 1332.5,456.2 1337.5,465.0 1342.5,472.5 1346.2,480.0 1347.5,490.0 1348.8,500.0 1346.2,507.5 1343.8,515.0 1342.5,525.0 1345.0,535.0 1350.0,545.0 1352.5,550.0 1353.8,560.0 1356.2,570.0 1360.0,580.0 1362.5,590.0 1365.0,598.8 1368.8,603.8 1375.0,604.5 1382.5,603.0 1420.0,602.0"/>
<clipPath id="w1"><polygon points="1280.6,293.8 1283.8,291.2 1288.8,291.2 1293.1,290.0 1296.9,287.5 1300.0,283.8 1301.2,280.0 1302.5,276.2 1305.0,272.5 1308.1,270.0 1311.2,267.5 1311.9,263.8 1315.0,261.2 1320.0,261.9 1323.8,261.2 1327.5,258.8 1331.2,256.9 1335.0,257.8 1337.5,260.0 1339.4,263.1 1341.9,266.2 1345.0,269.4 1348.8,272.5 1352.5,275.6 1356.2,278.1 1358.1,281.2 1358.8,283.8 1360.6,280.0 1359.4,276.9 1361.2,275.0 1363.8,276.2 1366.2,275.6 1363.1,272.5 1360.0,270.0 1356.2,267.5 1353.8,265.0 1351.2,263.1 1348.8,260.0 1345.6,256.9 1344.4,253.8 1346.2,251.2 1349.4,251.2 1351.2,253.1 1354.4,255.0 1355.0,257.5 1357.5,260.0 1361.2,262.5 1365.0,265.0 1368.8,267.5 1370.0,271.2 1370.6,275.0 1372.5,278.1 1375.0,281.2 1376.9,285.0 1378.1,288.8 1381.2,290.0 1380.0,286.2 1382.5,285.0 1380.6,280.0 1382.5,276.2 1380.6,273.8 1385.0,273.1 1387.5,271.9 1405.0,271.2 1405.0,311.9 1390.0,311.2 1386.2,310.0 1381.2,308.1 1377.5,307.5 1373.8,310.0 1372.5,315.0 1371.9,318.8 1368.8,319.0 1365.0,316.9 1360.6,315.6 1356.2,313.8 1355.0,310.0 1352.5,308.1 1347.5,307.5 1343.8,306.2 1340.0,304.4 1336.9,301.9 1338.8,299.4 1340.0,296.2 1338.8,292.5 1338.1,289.4 1335.0,289.8 1330.0,290.0 1325.0,290.0 1320.0,291.0 1315.0,290.6 1310.0,290.6 1305.0,291.2 1301.2,293.1 1297.5,295.6 1293.8,298.1 1288.8,296.9 1283.8,296.2 1281.2,295.0"/></clipPath>
<g clip-path="url(#w1)"><polygon points="1280.6,293.8 1283.8,291.2 1288.8,291.2 1293.1,290.0 1296.9,287.5 1300.0,283.8 1301.2,280.0 1302.5,276.2 1305.0,272.5 1308.1,270.0 1311.2,267.5 1311.9,263.8 1315.0,261.2 1320.0,261.9 1323.8,261.2 1327.5,258.8 1331.2,256.9 1335.0,257.8 1337.5,260.0 1339.4,263.1 1341.9,266.2 1345.0,269.4 1348.8,272.5 1352.5,275.6 1356.2,278.1 1358.1,281.2 1358.8,283.8 1360.6,280.0 1359.4,276.9 1361.2,275.0 1363.8,276.2 1366.2,275.6 1363.1,272.5 1360.0,270.0 1356.2,267.5 1353.8,265.0 1351.2,263.1 1348.8,260.0 1345.6,256.9 1344.4,253.8 1346.2,251.2 1349.4,251.2 1351.2,253.1 1354.4,255.0 1355.0,257.5 1357.5,260.0 1361.2,262.5 1365.0,265.0 1368.8,267.5 1370.0,271.2 1370.6,275.0 1372.5,278.1 1375.0,281.2 1376.9,285.0 1378.1,288.8 1381.2,290.0 1380.0,286.2 1382.5,285.0 1380.6,280.0 1382.5,276.2 1380.6,273.8 1385.0,273.1 1387.5,271.9 1405.0,271.2 1405.0,311.9 1390.0,311.2 1386.2,310.0 1381.2,308.1 1377.5,307.5 1373.8,310.0 1372.5,315.0 1371.9,318.8 1368.8,319.0 1365.0,316.9 1360.6,315.6 1356.2,313.8 1355.0,310.0 1352.5,308.1 1347.5,307.5 1343.8,306.2 1340.0,304.4 1336.9,301.9 1338.8,299.4 1340.0,296.2 1338.8,292.5 1338.1,289.4 1335.0,289.8 1330.0,290.0 1325.0,290.0 1320.0,291.0 1315.0,290.6 1310.0,290.6 1305.0,291.2 1301.2,293.1 1297.5,295.6 1293.8,298.1 1288.8,296.9 1283.8,296.2 1281.2,295.0" fill="#0001ff"/>
<path d="M1318.1 278.1 C1318.4 277.0 1321.1 276.0 1322.5 276.2 C1323.9 276.5 1325.8 278.1 1326.2 279.4 C1326.7 280.6 1325.9 283.1 1325.0 283.8 C1324.1 284.4 1321.8 284.1 1320.6 283.1 C1319.5 282.2 1317.8 279.3 1318.1 278.1Z" fill="#0054ff"/>
<polygon points="1281.2,292.5 1292.5,290.6 1295.0,293.8 1292.5,298.1 1282.5,296.9" fill="#0054ff"/>
<polygon points="1338.1,290.0 1341.9,286.9 1348.1,286.2 1350.0,290.0 1355.0,291.2 1358.1,285.0 1361.2,282.5 1366.2,281.2 1371.9,280.0 1375.0,281.9 1378.1,288.8 1381.2,290.6 1380.0,285.0 1382.5,276.2 1387.5,271.9 1405.0,271.2 1405.0,312.5 1381.2,308.1 1377.5,307.5 1373.8,310.0 1372.5,319.4 1365.0,317.5 1356.2,314.0 1355.0,310.0 1347.5,307.5 1340.0,304.6 1336.2,301.9 1340.0,296.2 1338.5,291.9" fill="#0054ff"/>
<path d="M1405.0 292.5 C1401.9 289.6 1390.4 293.2 1386.2 293.8 C1382.1 294.3 1381.6 294.8 1380.0 295.6 C1378.4 296.5 1377.3 297.4 1376.9 298.8 C1376.5 300.1 1376.6 302.3 1377.5 303.8 C1378.4 305.2 1377.9 306.2 1382.5 307.5 C1387.1 308.8 1401.2 313.8 1405.0 311.2 C1408.8 308.8 1408.1 295.4 1405.0 292.5Z" fill="#00a8ff"/>
<polygon points="1343.8,253.1 1346.9,250.6 1351.2,253.1 1355.0,256.9 1361.2,262.5 1368.8,267.5 1370.6,273.1 1367.5,271.9 1362.5,269.4 1356.2,266.9 1351.2,263.1 1348.1,259.8 1345.2,256.5" fill="#0000ad"/>
</g>
<polygon points="1280.6,293.8 1283.8,291.2 1288.8,291.2 1293.1,290.0 1296.9,287.5 1300.0,283.8 1301.2,280.0 1302.5,276.2 1305.0,272.5 1308.1,270.0 1311.2,267.5 1311.9,263.8 1315.0,261.2 1320.0,261.9 1323.8,261.2 1327.5,258.8 1331.2,256.9 1335.0,257.8 1337.5,260.0 1339.4,263.1 1341.9,266.2 1345.0,269.4 1348.8,272.5 1352.5,275.6 1356.2,278.1 1358.1,281.2 1358.8,283.8 1360.6,280.0 1359.4,276.9 1361.2,275.0 1363.8,276.2 1366.2,275.6 1363.1,272.5 1360.0,270.0 1356.2,267.5 1353.8,265.0 1351.2,263.1 1348.8,260.0 1345.6,256.9 1344.4,253.8 1346.2,251.2 1349.4,251.2 1351.2,253.1 1354.4,255.0 1355.0,257.5 1357.5,260.0 1361.2,262.5 1365.0,265.0 1368.8,267.5 1370.0,271.2 1370.6,275.0 1372.5,278.1 1375.0,281.2 1376.9,285.0 1378.1,288.8 1381.2,290.0 1380.0,286.2 1382.5,285.0 1380.6,280.0 1382.5,276.2 1380.6,273.8 1385.0,273.1 1387.5,271.9 1405.0,271.2 1405.0,311.9 1390.0,311.2 1386.2,310.0 1381.2,308.1 1377.5,307.5 1373.8,310.0 1372.5,315.0 1371.9,318.8 1368.8,319.0 1365.0,316.9 1360.6,315.6 1356.2,313.8 1355.0,310.0 1352.5,308.1 1347.5,307.5 1343.8,306.2 1340.0,304.4 1336.9,301.9 1338.8,299.4 1340.0,296.2 1338.8,292.5 1338.1,289.4 1335.0,289.8 1330.0,290.0 1325.0,290.0 1320.0,291.0 1315.0,290.6 1310.0,290.6 1305.0,291.2 1301.2,293.1 1297.5,295.6 1293.8,298.1 1288.8,296.9 1283.8,296.2 1281.2,295.0" class="ln"/>
<polygon class="ld" points="1331.9,272.5 1335.0,272.5 1335.2,278.8 1332.5,279.0 1331.6,275.6"/>
<polygon class="ld" points="1332.5,265.0 1334.8,265.2 1334.5,270.0 1332.8,270.2"/>
<polygon class="ld" points="1348.1,286.9 1353.8,285.6 1355.2,286.2 1353.8,290.0 1351.2,289.8 1348.1,288.5"/>
<polygon class="ld" points="1385.0,296.0 1390.6,296.5 1390.6,297.5 1385.0,297.0"/>
<circle cx="1311.2" cy="277.5" r="1.4" fill="#000"/>
<circle cx="1306.2" cy="280.6" r="1.4" fill="#000"/>
<circle cx="1312.5" cy="276.9" r="1.4" fill="#000"/>
<circle cx="1240.2" cy="308.5" r="1.4" fill="#000"/>
<circle cx="1237.5" cy="326.2" r="1.4" fill="#000"/>
<circle cx="1241.2" cy="328.1" r="1.4" fill="#000"/>
<circle cx="1245.0" cy="329.4" r="1.4" fill="#000"/>
<circle cx="1236.9" cy="330.6" r="1.4" fill="#000"/>
<circle cx="1251.2" cy="325.6" r="1.4" fill="#000"/>
<circle cx="1251.9" cy="324.4" r="1.4" fill="#000"/>
<polygon class="ld" points="80.0,138.8 111.2,138.8 117.5,140.0 125.0,142.0 131.2,144.5 140.0,146.2 150.0,148.8 157.5,151.2 163.8,153.8 168.0,156.2 169.5,159.2 166.2,161.2 160.0,161.2 150.0,160.0 142.5,158.8 136.2,157.5 142.5,161.8 145.0,166.2 150.0,170.0 156.2,171.8 162.5,169.5 165.5,165.5 168.8,162.5 175.0,160.0 177.5,152.5 182.5,150.0 185.0,155.0 188.8,157.5 195.0,155.0 200.0,150.5 212.5,150.0 225.0,148.8 232.5,143.8 237.5,147.5 243.8,146.2 250.0,143.8 260.0,146.2 265.5,150.0 262.5,141.2 266.2,133.8 272.5,130.5 280.0,131.2 290.0,133.8 300.0,131.2 310.0,133.8 317.5,137.5 315.0,132.5 325.0,127.5 332.5,125.0 340.0,121.2 350.0,117.5 360.0,113.8 370.0,116.2 375.0,112.5 385.0,110.0 395.0,108.8 400.0,111.2 407.5,113.8 417.5,115.0 425.0,117.5 422.5,122.5 412.5,126.2 402.5,129.5 396.2,131.2 405.0,129.0 415.0,126.5 425.0,128.0 425.0,131.2 435.0,128.8 450.0,130.5 460.0,129.5 470.0,128.0 475.0,131.2 480.0,136.2 487.5,140.0 495.0,137.5 505.0,136.2 515.0,137.5 520.0,133.8 530.0,132.5 540.0,135.0 550.0,136.2 560.0,138.8 570.0,138.0 580.0,138.8 588.8,143.8 595.0,148.8 597.5,145.0 610.0,144.5 620.0,146.2 628.8,145.0 635.0,144.5 647.5,146.2 660.0,150.0 667.5,152.5 675.0,155.0 685.0,157.5 693.8,160.0 697.5,160.5 696.2,163.8 690.0,166.2 685.0,167.5 675.0,165.0 667.5,163.8 663.8,161.2 660.0,165.0 650.0,166.2 642.5,167.5 650.0,170.0 657.5,172.5 658.8,177.5 650.0,178.8 640.0,180.0 632.5,183.8 625.0,187.0 615.0,186.2 610.0,188.8 602.5,192.5 600.0,197.5 602.5,203.8 598.8,210.0 592.5,213.8 586.2,218.8 581.2,222.5 578.8,228.0 577.5,220.0 575.0,210.0 576.2,202.5 582.5,195.0 592.5,188.8 600.0,182.5 607.5,177.5 602.5,177.0 592.5,180.0 585.0,181.2 575.0,186.2 572.5,192.5 562.5,193.8 550.0,190.5 537.5,191.2 528.5,191.5 522.9,194.3 517.1,198.6 511.4,202.9 505.7,207.1 502.9,210.7 506.4,211.4 510.0,212.9 512.9,215.0 515.7,213.6 520.0,217.1 522.9,220.7 524.3,225.0 522.1,225.7 521.4,231.4 520.7,237.1 517.1,242.9 513.6,247.1 510.0,251.4 506.4,255.7 502.1,260.0 498.6,262.9 493.6,263.6 491.4,261.4 487.1,264.3 484.3,268.6 482.9,272.9 478.6,275.7 475.7,277.9 475.0,279.3 477.9,282.9 480.0,287.1 481.4,292.9 482.1,298.6 480.0,300.7 475.7,300.0 472.1,300.7 470.7,298.6 471.4,294.3 472.1,290.0 470.7,287.1 468.6,284.3 467.9,281.4 465.7,279.3 462.9,277.1 459.3,277.9 456.4,275.7 455.0,272.9 451.4,272.9 448.6,275.7 444.3,279.3 440.0,280.7 441.4,284.3 445.7,287.1 448.6,288.6 452.1,286.4 456.4,284.3 457.1,288.6 455.7,290.7 451.4,292.9 447.9,296.4 446.4,300.0 448.6,304.3 447.1,302.9 450.7,305.7 453.6,311.4 455.0,317.1 453.6,322.9 451.4,328.6 449.3,332.9 447.1,337.1 445.7,340.7 441.4,344.3 436.4,348.6 431.4,351.4 425.7,352.9 421.4,355.0 415.7,357.1 413.6,359.3 414.3,362.9 412.1,363.6 410.7,359.3 408.6,357.1 405.7,358.6 401.4,361.4 398.6,364.3 397.1,368.6 400.0,371.4 402.9,377.1 406.4,381.4 409.3,387.1 410.7,392.9 410.0,400.0 407.1,404.3 402.9,406.4 400.0,408.6 404.6,403.4 399.4,407.7 396.9,410.6 394.3,406.0 391.7,401.7 393.8,406.2 390.0,401.2 385.0,397.5 380.0,395.0 376.2,396.2 375.0,402.5 376.8,410.0 378.0,417.5 379.5,425.0 380.2,405.1 383.1,410.3 385.7,415.4 387.4,421.4 388.8,427.4 390.0,432.6 391.0,438.6 391.5,444.1 388.3,442.0 384.9,436.9 381.4,430.9 378.5,424.9 376.3,418.9 374.6,412.9 373.4,406.9 373.4,400.0 373.8,400.0 372.5,392.5 370.5,386.2 368.8,379.5 365.0,380.5 360.0,382.5 357.5,377.5 356.2,368.8 352.5,361.2 348.8,353.8 343.8,350.0 340.0,353.8 333.8,356.2 326.2,363.8 322.5,368.8 315.0,376.2 308.8,382.5 307.0,390.0 306.2,400.0 303.8,408.8 301.2,413.8 297.5,416.2 293.8,410.0 290.0,400.0 286.2,390.0 283.8,380.0 281.2,371.2 280.0,362.5 278.8,356.2 275.0,358.8 272.5,352.5 267.5,350.0 262.5,345.0 257.5,340.0 245.0,341.2 235.0,341.2 227.5,340.0 224.2,333.8 217.5,331.2 211.2,331.2 206.2,327.5 202.5,322.5 198.8,319.5 194.5,318.8 192.5,322.0 195.0,327.5 197.5,335.0 200.0,341.2 203.8,346.2 210.0,345.8 213.8,341.2 217.5,337.5 221.5,336.5 223.8,341.2 227.5,346.2 231.2,350.8 235.5,353.8 232.5,360.0 227.5,367.5 220.0,373.8 212.5,377.5 205.0,383.8 195.0,390.0 185.0,393.8 176.2,397.5 176.2,393.8 174.2,385.0 170.8,375.0 165.5,365.5 162.5,356.2 156.0,345.5 149.5,333.8 147.0,323.8 144.2,321.2 141.8,323.0 140.0,326.2 137.0,320.8 140.5,331.8 145.5,345.8 151.5,359.0 155.5,371.2 160.8,382.0 167.5,391.0 174.2,400.5 185.0,398.8 195.0,395.0 202.5,395.8 203.8,405.0 200.0,415.0 195.0,425.0 187.5,437.5 180.0,447.5 172.5,457.5 166.2,465.0 162.5,475.0 161.2,485.0 163.8,495.0 166.2,505.0 167.5,515.0 163.8,522.5 157.5,527.5 151.2,533.8 146.2,540.0 147.5,550.0 147.5,553.8 143.8,560.0 138.8,565.0 137.5,572.5 135.0,580.0 131.2,587.5 125.0,595.0 117.5,600.0 111.2,602.5 80.0,603.8"/>
<clipPath id="w2"><polygon points="90.0,271.2 111.2,272.0 116.2,275.0 115.5,282.5 120.0,288.8 130.0,292.0 140.0,290.0 150.0,291.2 151.2,297.5 150.8,300.0 148.0,306.2 143.8,311.2 135.0,314.2 125.0,316.2 115.0,313.8 111.2,312.5 90.0,312.5"/></clipPath>
<g clip-path="url(#w2)"><polygon points="90.0,271.2 111.2,272.0 116.2,275.0 115.5,282.5 120.0,288.8 130.0,292.0 140.0,290.0 150.0,291.2 151.2,297.5 150.8,300.0 148.0,306.2 143.8,311.2 135.0,314.2 125.0,316.2 115.0,313.8 111.2,312.5 90.0,312.5" fill="#0054ff"/>
<polygon points="90.0,285.0 125.0,290.0 132.5,300.0 125.0,310.0 90.0,310.0" fill="#00a8ff"/>
<polygon points="90.0,270.0 117.5,272.5 117.5,287.5 90.0,287.5" fill="#0001ff"/>
</g>
<polygon points="90.0,271.2 111.2,272.0 116.2,275.0 115.5,282.5 120.0,288.8 130.0,292.0 140.0,290.0 150.0,291.2 151.2,297.5 150.8,300.0 148.0,306.2 143.8,311.2 135.0,314.2 125.0,316.2 115.0,313.8 111.2,312.5 90.0,312.5" class="ln"/>
<polygon class="ld" points="132.5,296.2 140.0,293.8 141.2,296.2 135.0,298.8"/>
<clipPath id="w3"><polygon points="122.5,260.0 125.0,252.5 132.5,247.5 137.5,250.0 145.0,247.5 153.8,246.2 161.2,245.0 156.2,250.0 153.8,252.5 162.5,257.5 168.8,262.5 170.8,267.5 166.2,271.2 157.5,272.5 147.5,271.2 137.5,270.0 130.0,271.2 123.8,267.5"/></clipPath>
<g clip-path="url(#w3)"><polygon points="122.5,260.0 125.0,252.5 132.5,247.5 137.5,250.0 145.0,247.5 153.8,246.2 161.2,245.0 156.2,250.0 153.8,252.5 162.5,257.5 168.8,262.5 170.8,267.5 166.2,271.2 157.5,272.5 147.5,271.2 137.5,270.0 130.0,271.2 123.8,267.5" fill="#0001ff"/>
<path d="M125.0 262.5 C125.0 260.6 129.6 257.9 132.5 257.5 C135.4 257.1 140.0 258.8 142.5 260.0 C145.0 261.2 147.5 263.5 147.5 265.0 C147.5 266.5 145.0 268.1 142.5 268.8 C140.0 269.4 135.4 269.8 132.5 268.8 C129.6 267.7 125.0 264.4 125.0 262.5Z" fill="#0054ff"/>
</g>
<polygon points="122.5,260.0 125.0,252.5 132.5,247.5 137.5,250.0 145.0,247.5 153.8,246.2 161.2,245.0 156.2,250.0 153.8,252.5 162.5,257.5 168.8,262.5 170.8,267.5 166.2,271.2 157.5,272.5 147.5,271.2 137.5,270.0 130.0,271.2 123.8,267.5" class="ln"/>
<clipPath id="w4"><polygon points="188.8,253.8 193.8,248.8 200.0,246.2 207.5,245.5 211.2,250.0 208.8,257.5 210.0,265.0 213.8,267.5 216.2,271.2 212.5,273.8 211.2,280.0 213.8,286.2 212.5,290.5 206.2,291.2 198.8,288.8 195.8,281.2 197.5,272.5 193.8,265.0 190.0,260.0"/></clipPath>
<g clip-path="url(#w4)"><polygon points="188.8,253.8 193.8,248.8 200.0,246.2 207.5,245.5 211.2,250.0 208.8,257.5 210.0,265.0 213.8,267.5 216.2,271.2 212.5,273.8 211.2,280.0 213.8,286.2 212.5,290.5 206.2,291.2 198.8,288.8 195.8,281.2 197.5,272.5 193.8,265.0 190.0,260.0" fill="#0001ff"/>
<path d="M193.8 255.0 C193.8 252.1 197.3 251.7 198.8 252.5 C200.2 253.3 201.2 257.1 202.5 260.0 C203.8 262.9 206.0 267.5 206.2 270.0 C206.5 272.5 205.0 275.0 203.8 275.0 C202.5 275.0 200.4 273.3 198.8 270.0 C197.1 266.7 193.8 257.9 193.8 255.0Z" fill="#0054ff"/>
</g>
<polygon points="188.8,253.8 193.8,248.8 200.0,246.2 207.5,245.5 211.2,250.0 208.8,257.5 210.0,265.0 213.8,267.5 216.2,271.2 212.5,273.8 211.2,280.0 213.8,286.2 212.5,290.5 206.2,291.2 198.8,288.8 195.8,281.2 197.5,272.5 193.8,265.0 190.0,260.0" class="ln"/>
<clipPath id="w5"><polygon points="135.0,453.8 141.2,451.8 145.0,453.0 143.8,458.8 140.0,462.0 135.5,463.0"/></clipPath>
<g clip-path="url(#w5)"><polygon points="135.0,453.8 141.2,451.8 145.0,453.0 143.8,458.8 140.0,462.0 135.5,463.0" fill="#0000ad"/>
</g>
<clipPath id="w6"><polygon points="132.5,181.2 135.0,183.8 139.5,185.0 139.5,187.0 133.0,188.0"/></clipPath>
<g clip-path="url(#w6)"><polygon points="132.5,181.2 135.0,183.8 139.5,185.0 139.5,187.0 133.0,188.0" fill="#0000ad"/>
</g>
<clipPath id="w7"><polygon points="146.2,178.0 149.5,177.5 150.5,180.0 148.0,181.5 146.2,180.0"/></clipPath>
<g clip-path="url(#w7)"><polygon points="146.2,178.0 149.5,177.5 150.5,180.0 148.0,181.5 146.2,180.0" fill="#0000ad"/>
</g>
<polygon class="ld" points="306.2,413.8 310.0,412.5 312.5,418.8 311.2,425.0 307.5,426.2 305.5,420.0"/>
<polygon class="ld" points="205.0,136.4 209.0,133.0 215.0,128.0 222.0,123.0 232.0,119.6 244.0,117.0 258.0,114.4 267.0,114.0 269.0,116.0 260.0,118.0 248.0,120.0 238.0,122.0 230.0,124.4 224.0,128.0 220.0,132.0 219.0,137.0 220.0,140.0 214.0,140.4 209.0,139.0"/>
<polygon class="ld" points="193.6,147.6 197.0,146.4 200.0,148.0 197.0,150.0 194.0,149.6"/>
<polygon class="ld" points="528.6,213.6 530.7,217.1 531.4,222.9 532.9,228.6 534.3,234.3 536.4,237.9 532.9,235.7 530.7,238.6 529.3,242.9 531.4,246.4 532.1,249.3 528.6,247.1 527.1,242.9 527.9,237.1 527.1,231.4 526.4,225.7 526.4,220.0 527.1,215.7"/>
<polygon class="ld" points="526.4,252.9 529.3,253.6 532.9,255.7 537.1,258.6 540.7,257.9 537.9,261.4 534.3,263.6 530.7,267.1 527.1,265.7 524.3,264.3 521.4,266.4 520.7,263.6 524.3,260.0 525.7,256.4"/>
<polygon class="ld" points="521.4,267.9 524.3,272.1 525.7,277.1 525.0,282.9 522.9,288.6 521.4,292.9 520.0,296.4 515.7,298.6 511.4,300.0 507.9,300.7 505.7,303.6 502.1,302.9 498.6,301.4 494.3,302.9 490.0,304.3 487.1,302.9 488.6,300.0 492.9,297.9 498.6,295.7 502.9,294.3 507.1,292.1 510.0,288.6 514.3,285.7 517.1,281.4 519.3,275.7 520.0,271.4"/>
<polygon class="ld" points="492.9,303.6 498.6,302.1 502.1,304.0 500.0,306.0 495.0,306.3"/>
<polygon class="ld" points="484.3,304.3 487.9,303.6 490.0,306.4 489.3,311.4 487.1,316.4 485.0,314.3 483.6,309.3"/>
<circle cx="541.4" cy="257.1" r="1.4" fill="#000"/>
<circle cx="544.3" cy="255.0" r="1.4" fill="#000"/>
<circle cx="547.9" cy="252.9" r="1.4" fill="#000"/>
<circle cx="551.4" cy="250.7" r="1.4" fill="#000"/>
<circle cx="555.7" cy="247.9" r="1.4" fill="#000"/>
<circle cx="561.4" cy="245.0" r="1.4" fill="#000"/>
<circle cx="565.7" cy="241.4" r="1.4" fill="#000"/>
<circle cx="570.0" cy="235.7" r="1.4" fill="#000"/>
<circle cx="573.6" cy="231.4" r="1.4" fill="#000"/>
<circle cx="575.7" cy="228.6" r="1.4" fill="#000"/>
<circle cx="471.4" cy="305.0" r="1.4" fill="#000"/>
<circle cx="482.9" cy="327.9" r="1.4" fill="#000"/>
<circle cx="518.6" cy="306.4" r="1.4" fill="#000"/>
<polygon class="ld" points="450.7,342.9 453.6,341.4 455.4,344.3 454.3,350.0 452.1,355.0 450.3,352.9 449.7,347.9"/>
<polygon class="ld" points="409.3,367.1 412.9,365.0 415.7,366.4 415.0,370.0 411.4,371.4 408.9,370.0"/>
<circle cx="481.4" cy="328.6" r="1.4" fill="#000"/>
<circle cx="477.1" cy="335.0" r="1.4" fill="#000"/>
<circle cx="467.1" cy="343.6" r="1.4" fill="#000"/>
<circle cx="462.1" cy="345.4" r="1.4" fill="#000"/>
<circle cx="455.0" cy="361.4" r="1.4" fill="#000"/>
<circle cx="453.6" cy="367.9" r="1.4" fill="#000"/>
<circle cx="527.1" cy="335.0" r="1.4" fill="#000"/>
<circle cx="518.9" cy="306.4" r="1.4" fill="#000"/>
<circle cx="540.0" cy="370.0" r="1.4" fill="#000"/>
<circle cx="540.0" cy="380.7" r="1.4" fill="#000"/>
<circle cx="539.7" cy="385.7" r="1.4" fill="#000"/>
<circle cx="536.4" cy="393.6" r="1.4" fill="#000"/>
<circle cx="512.9" cy="410.7" r="1.4" fill="#000"/>
<circle cx="500.0" cy="419.3" r="1.4" fill="#000"/>
<circle cx="561.4" cy="420.0" r="1.4" fill="#000"/>
<circle cx="584.3" cy="422.1" r="1.4" fill="#000"/>
<circle cx="472.1" cy="434.3" r="1.4" fill="#000"/>
<circle cx="468.6" cy="437.1" r="1.4" fill="#000"/>
<polygon class="ld" points="451.4,371.4 455.0,370.7 457.1,374.3 457.4,380.0 455.4,384.3 456.6,387.9 460.0,390.0 462.9,392.9 460.7,395.0 457.1,392.9 454.3,391.4 452.1,387.1 450.0,383.6 449.7,377.9"/>
<polygon class="ld" points="456.4,397.1 460.0,395.7 464.3,398.6 467.1,402.9 468.6,408.6 466.4,412.9 462.9,410.0 460.0,405.7 457.1,402.9"/>
<polygon class="ld" points="463.6,415.7 467.9,413.6 471.4,415.7 472.1,420.7 470.0,425.7 466.4,427.1 463.6,424.3 461.4,420.0"/>
<polygon class="ld" points="442.9,425.7 444.6,427.1 438.6,432.1 432.1,437.1 428.6,439.3 430.7,435.7 437.1,430.0"/>
<polygon class="ld" points="710.0,151.2 716.2,147.5 725.0,143.8 735.0,140.0 745.0,138.0 755.0,139.5 770.0,141.2 785.0,143.0 800.0,145.0 855.1,143.4 860.3,145.1 867.1,144.8 875.7,146.0 884.3,147.2 891.1,152.9 896.3,151.7 901.4,151.1 910.0,150.6 916.0,152.9 919.4,158.9 922.0,155.4 927.1,153.4 935.7,153.7 946.0,152.9 954.6,153.7 959.7,158.0 962.3,153.7 963.1,148.6 960.6,144.3 961.4,140.0 966.6,138.3 970.9,140.9 972.6,145.1 970.0,149.4 973.4,147.7 980.3,150.3 985.4,146.9 988.9,151.1 992.3,155.4 995.7,152.0 998.3,147.7 1000.9,145.1 1006.0,146.0 1010.3,148.6 1009.4,153.7 1005.1,157.1 1000.9,158.9 995.7,160.6 992.3,164.0 988.9,167.4 983.7,170.9 976.9,174.3 970.0,178.6 964.9,183.7 964.0,189.7 966.6,194.9 971.7,198.3 972.6,201.7 978.6,200.9 985.4,203.4 992.3,206.9 999.1,208.6 1006.0,210.3 1008.6,215.4 1009.4,220.6 1012.0,224.9 1017.1,227.4 1021.4,224.9 1021.4,218.9 1019.7,212.9 1024.9,209.4 1029.1,205.1 1028.3,199.1 1024.9,193.1 1025.7,186.3 1023.1,181.1 1024.0,176.0 1030.0,175.1 1036.9,176.0 1043.7,178.6 1049.7,182.9 1053.1,188.0 1055.7,194.0 1060.9,194.9 1066.0,192.3 1068.6,187.1 1071.5,182.0 1074.6,186.3 1078.0,193.1 1081.4,200.0 1086.6,206.9 1090.0,210.3 1100.0,220.0 1103.8,227.5 1095.0,226.2 1085.0,228.8 1075.0,230.5 1065.0,232.5 1057.5,236.2 1050.0,240.0 1043.8,246.2 1037.5,251.2 1035.0,253.8 1043.8,250.0 1052.5,245.0 1060.0,242.5 1067.5,240.0 1071.2,238.0 1068.8,243.8 1072.5,250.0 1077.5,247.5 1082.5,250.0 1080.0,253.8 1087.5,250.0 1091.2,246.2 1093.8,250.0 1087.5,255.0 1080.0,258.8 1072.5,261.2 1068.0,261.2 1071.2,255.0 1067.5,253.8 1062.5,257.5 1057.5,262.5 1052.5,267.5 1047.5,271.2 1046.2,276.2 1040.0,275.0 1036.2,278.8 1032.5,282.5 1030.0,287.5 1028.8,293.8 1026.2,300.0 1020.0,306.2 1015.0,312.5 1012.5,320.0 1013.8,327.5 1015.5,335.0 1014.5,341.2 1011.2,337.5 1007.5,327.5 1003.8,322.5 997.5,320.0 990.0,318.0 982.5,320.0 975.0,321.2 967.5,322.5 960.0,325.0 955.0,330.0 953.8,340.0 953.0,350.0 954.5,358.8 960.0,366.2 966.2,371.2 972.5,368.8 977.5,363.8 982.5,359.5 991.2,358.8 992.5,365.0 990.0,372.5 987.5,378.8 985.0,382.5 991.2,383.8 1000.0,382.5 1007.5,386.2 1008.8,393.8 1006.2,400.0 1007.5,407.5 1012.5,411.2 1017.5,412.0 1022.5,411.2 1026.2,413.8 1028.8,411.2 1033.8,406.2 1041.2,402.5 1047.5,398.8 1050.0,400.0 1046.2,406.2 1047.5,410.0 1052.5,400.0 1060.0,403.8 1070.0,405.0 1080.0,406.2 1085.0,407.5 1083.8,413.8 1091.2,420.0 1098.8,426.2 1110.0,428.8 1117.5,435.0 1122.5,443.8 1125.0,448.8 1120.0,456.2 1125.0,460.0 1132.5,457.5 1142.5,462.5 1150.0,465.0 1160.0,466.2 1167.5,471.2 1175.0,475.0 1177.5,482.5 1176.2,492.5 1170.0,500.0 1165.0,507.5 1162.5,515.0 1163.8,525.0 1161.2,535.0 1157.5,545.0 1155.0,550.0 1147.5,553.8 1137.5,558.8 1130.0,565.0 1127.5,573.8 1122.5,582.5 1117.5,590.0 1112.5,597.5 1106.2,603.8 1100.0,606.2 1095.0,603.8 1093.0,597.5 1094.5,607.5 1100.0,611.2 1097.5,617.5 1090.0,622.5 1081.2,625.0 1078.8,631.2 1071.2,633.8 1070.0,640.0 1073.8,643.8 1068.8,648.8 1062.5,653.8 1065.0,660.0 1067.5,666.2 1063.8,671.2 1058.8,676.2 1057.5,681.2 1061.2,687.5 1065.0,692.5 1073.8,693.8 1065.0,695.0 1055.0,697.5 1050.0,698.8 1055.0,697.5 1047.5,693.8 1041.2,688.8 1036.2,682.5 1033.8,675.0 1032.5,665.0 1033.8,655.0 1036.2,645.0 1038.8,635.0 1039.5,625.0 1041.2,612.5 1043.8,600.0 1046.2,587.5 1048.0,575.0 1050.0,562.5 1051.2,550.0 1052.0,550.0 1051.2,540.0 1046.2,532.5 1040.0,526.2 1032.5,517.5 1027.5,507.5 1023.8,497.5 1018.8,487.5 1013.8,480.0 1012.5,472.5 1017.0,466.2 1015.0,460.0 1016.2,452.5 1020.0,447.5 1025.0,440.0 1026.2,432.5 1025.0,423.8 1026.2,417.5 1022.5,413.8 1017.5,416.2 1013.8,419.5 1008.8,416.2 1003.8,411.2 997.5,407.5 993.8,401.2 987.5,396.2 980.0,392.5 972.5,387.5 965.0,381.2 960.0,383.8 952.5,381.2 943.8,376.2 935.0,371.2 927.5,363.8 925.0,355.0 921.2,348.8 916.2,342.5 910.0,335.0 905.0,327.5 900.0,318.8 895.0,312.5 893.0,313.8 897.5,325.0 902.5,335.0 907.5,343.8 911.2,351.2 906.2,346.2 900.0,338.8 893.8,330.0 890.0,321.2 886.2,311.2 880.0,303.8 872.5,300.0 868.8,295.0 866.2,287.5 862.5,280.0 860.0,270.0 861.2,260.0 862.5,250.0 865.0,242.5 860.0,236.2 852.5,232.5 845.0,227.5 840.0,222.5 835.0,216.2 830.0,210.0 823.8,202.5 818.8,197.5 815.0,192.5 807.5,188.8 800.0,188.0 795.0,187.0 785.0,186.2 775.0,185.0 768.8,186.2 762.5,188.8 756.2,192.5 750.0,197.5 742.5,202.5 732.5,207.5 722.5,212.5 712.5,217.0 719.5,211.5 726.2,206.2 732.5,200.5 737.5,195.5 741.2,191.5 737.5,196.2 730.0,195.0 725.0,190.0 717.5,187.5 713.8,182.5 711.2,175.0 715.0,170.0 722.5,167.5 731.2,163.8 727.5,160.0 718.8,161.2 710.0,160.0 715.0,155.0"/>
<circle cx="700.0" cy="220.0" r="1.4" fill="#000"/>
<circle cx="693.8" cy="221.5" r="1.4" fill="#000"/>
<circle cx="687.5" cy="222.5" r="1.4" fill="#000"/>
<circle cx="681.2" cy="223.2" r="1.4" fill="#000"/>
<circle cx="675.0" cy="223.8" r="1.4" fill="#000"/>
<circle cx="668.8" cy="224.2" r="1.4" fill="#000"/>
<circle cx="662.5" cy="224.5" r="1.4" fill="#000"/>
<circle cx="656.2" cy="224.2" r="1.4" fill="#000"/>
<circle cx="650.0" cy="223.8" r="1.4" fill="#000"/>
<circle cx="643.8" cy="222.5" r="1.4" fill="#000"/>
<circle cx="637.5" cy="221.2" r="1.4" fill="#000"/>
<circle cx="631.2" cy="219.0" r="1.4" fill="#000"/>
<circle cx="625.0" cy="216.2" r="1.4" fill="#000"/>
<circle cx="620.0" cy="213.8" r="1.4" fill="#000"/>
<circle cx="615.0" cy="211.2" r="1.4" fill="#000"/>
<circle cx="610.0" cy="208.8" r="1.4" fill="#000"/>
<circle cx="687.5" cy="186.2" r="1.4" fill="#000"/>
<circle cx="696.2" cy="200.0" r="1.4" fill="#000"/>
<circle cx="698.8" cy="202.5" r="1.4" fill="#000"/>
<circle cx="702.5" cy="187.0" r="1.4" fill="#000"/>
<polygon class="ld" points="1002.5,353.8 1010.0,351.2 1020.0,355.0 1028.8,360.0 1035.0,363.8 1030.0,364.5 1020.0,361.2 1011.2,358.0 1003.8,356.2"/>
<polygon class="ld" points="1041.2,367.0 1050.0,365.5 1057.5,369.5 1053.8,372.5 1046.2,373.0 1041.2,371.2"/>
<polygon class="ld" points="1023.2,372.5 1028.8,372.0 1028.8,374.0 1023.8,374.2"/>
<polygon class="ld" points="1062.5,371.2 1068.8,371.2 1068.8,373.2 1062.5,373.2"/>
<circle cx="1076.2" cy="373.8" r="1.4" fill="#000"/>
<circle cx="1080.0" cy="377.5" r="1.4" fill="#000"/>
<circle cx="1082.5" cy="382.5" r="1.4" fill="#000"/>
<circle cx="1083.8" cy="387.5" r="1.4" fill="#000"/>
<circle cx="1084.5" cy="392.5" r="1.4" fill="#000"/>
<circle cx="1083.8" cy="398.8" r="1.4" fill="#000"/>
<circle cx="1082.5" cy="402.5" r="1.4" fill="#000"/>
<circle cx="1089.2" cy="394.5" r="1.4" fill="#000"/>
<circle cx="1022.5" cy="335.0" r="1.4" fill="#000"/>
<circle cx="1026.2" cy="340.0" r="1.4" fill="#000"/>
<circle cx="1030.0" cy="345.0" r="1.4" fill="#000"/>
<circle cx="1033.8" cy="348.8" r="1.4" fill="#000"/>
<circle cx="1037.5" cy="352.5" r="1.4" fill="#000"/>
<circle cx="1041.2" cy="356.2" r="1.4" fill="#000"/>
<circle cx="1023.8" cy="345.0" r="1.4" fill="#000"/>
<circle cx="1046.2" cy="358.8" r="1.4" fill="#000"/>
<circle cx="976.2" cy="453.8" r="1.4" fill="#000"/>
<circle cx="978.8" cy="455.5" r="1.4" fill="#000"/>
<circle cx="982.5" cy="456.2" r="1.4" fill="#000"/>
<circle cx="906.2" cy="370.0" r="1.4" fill="#000"/>
<circle cx="880.5" cy="324.5" r="1.4" fill="#000"/>
<circle cx="1071.2" cy="310.5" r="1.4" fill="#000"/>
<circle cx="1046.2" cy="410.0" r="1.4" fill="#000"/>
<polygon class="ld" points="1092.5,233.8 1100.0,225.0 1105.0,222.5 1103.8,230.0 1111.2,235.0 1113.8,242.5 1110.0,246.2 1103.8,242.5 1097.5,243.8 1091.2,241.2"/>
<polygon class="ld" points="856.0,131.4 860.3,126.3 870.6,124.9 880.9,125.9 886.9,128.9 882.6,131.4 877.4,134.9 870.6,138.3 862.0,137.4 856.9,134.9"/>
<polygon class="ld" points="878.3,134.9 884.3,131.4 894.6,130.6 906.6,129.7 916.9,130.6 925.4,128.9 930.6,133.1 932.3,138.3 935.7,142.6 939.1,145.1 934.0,147.7 925.4,148.6 915.1,149.4 906.6,149.9 898.0,150.3 892.0,147.7 886.9,143.4 882.6,140.0"/>
<polygon class="ld" points="864.6,116.9 872.3,113.4 882.6,111.7 886.9,114.3 894.6,113.4 901.4,110.9 908.3,107.4 913.4,105.7 912.6,110.0 906.6,113.4 910.0,116.9 918.6,116.9 925.4,118.6 922.0,122.0 911.7,122.5 901.4,122.9 894.6,121.1 886.9,120.3 877.4,120.3 868.9,119.8"/>
<polygon class="ld" points="927.1,105.7 935.7,104.0 944.3,105.7 951.1,108.3 946.0,110.9 939.1,110.0 932.3,109.1"/>
<polygon class="ld" points="930.6,116.9 939.1,114.3 947.7,116.0 952.9,119.4 946.0,122.0 937.4,121.1"/>
<polygon class="ld" points="961.4,114.3 970.0,111.7 980.3,112.6 987.1,110.9 995.7,112.6 1004.3,113.4 1014.6,114.3 1018.9,116.9 1014.6,120.3 1004.3,121.1 994.0,122.0 983.7,122.0 973.4,120.3 964.9,118.6"/>
<polygon class="ld" points="958.0,99.7 963.1,96.3 973.4,93.7 983.7,91.1 995.7,89.4 1011.1,87.7 1030.0,86.5 1047.1,86.9 1064.3,87.7 1079.7,89.4 1084.0,92.0 1078.0,94.6 1069.4,97.1 1059.1,99.7 1048.9,102.3 1042.0,105.7 1035.1,109.1 1028.3,110.9 1019.7,111.7 1011.1,110.0 1000.9,109.1 990.6,108.3 980.3,107.4 970.0,105.7 961.4,103.1"/>
<polygon class="ld" points="940.0,129.7 945.1,128.0 951.1,128.9 955.4,131.4 954.6,136.6 949.4,138.3 944.3,136.6 940.9,133.1"/>
<polygon class="ld" points="963.1,128.0 970.0,127.1 976.0,128.9 975.1,133.1 970.0,134.0 964.9,132.3"/>
<polygon class="ld" points="985.4,129.7 992.3,128.0 999.1,128.9 1004.3,131.4 1011.1,129.7 1018.0,130.6 1024.9,131.4 1031.7,134.0 1038.6,137.4 1045.4,140.0 1052.3,143.4 1059.1,147.7 1066.0,152.0 1072.9,155.4 1079.7,158.0 1082.3,161.4 1078.0,164.0 1072.9,165.7 1067.7,162.3 1062.6,161.4 1066.0,167.4 1071.1,172.6 1072.9,177.7 1067.7,178.6 1060.9,176.9 1055.7,173.4 1048.9,170.9 1042.0,168.3 1036.9,165.7 1031.7,164.0 1036.9,160.6 1043.7,156.3 1042.0,152.0 1035.1,148.6 1028.3,146.0 1021.4,144.3 1014.6,145.1 1009.4,142.6 1004.3,139.1 999.1,138.3 992.3,137.4 987.1,134.9 983.7,132.3"/>
<polygon class="ld" points="995.7,164.0 1000.9,160.6 1007.7,162.3 1012.9,165.7 1011.1,170.9 1004.3,173.4 999.1,172.6 996.6,168.3"/>
<clipPath id="w8"><polygon points="888.1,181.5 892.9,179.4 898.0,179.1 897.1,181.5 892.9,184.2 888.6,184.6"/></clipPath>
<g clip-path="url(#w8)"><polygon points="888.1,181.5 892.9,179.4 898.0,179.1 897.1,181.5 892.9,184.2 888.6,184.6" fill="#0000ad"/>
</g>
<clipPath id="w9"><polygon points="949.1,217.1 952.9,216.8 956.6,219.7 957.1,223.7 952.9,223.1 949.8,220.2"/></clipPath>
<g clip-path="url(#w9)"><polygon points="949.1,217.1 952.9,216.8 956.6,219.7 957.1,223.7 952.9,223.1 949.8,220.2" fill="#0000ad"/>
</g>
<clipPath id="w10"><polygon points="977.0,244.5 985.0,240.5 992.5,239.5 1000.0,241.2 1000.5,245.0 992.5,246.5 985.0,245.0"/></clipPath>
<g clip-path="url(#w10)"><polygon points="977.0,244.5 985.0,240.5 992.5,239.5 1000.0,241.2 1000.5,245.0 992.5,246.5 985.0,245.0" fill="#0001ff"/>
<polygon points="986.2,241.2 997.5,240.5 998.8,245.0 990.0,245.8" fill="#0054ff"/>
</g>
<clipPath id="w11"><polygon points="990.0,252.0 997.5,251.5 997.0,255.0 993.8,257.5 993.0,266.2 988.8,267.0 988.0,260.0"/></clipPath>
<g clip-path="url(#w11)"><polygon points="990.0,252.0 997.5,251.5 997.0,255.0 993.8,257.5 993.0,266.2 988.8,267.0 988.0,260.0" fill="#0000ad"/>
</g>
<clipPath id="w12"><polygon points="1003.8,250.0 1012.5,251.2 1015.5,255.0 1011.2,258.8 1007.0,257.5"/></clipPath>
<g clip-path="url(#w12)"><polygon points="1003.8,250.0 1012.5,251.2 1015.5,255.0 1011.2,258.8 1007.0,257.5" fill="#0001ff"/>
</g>
<clipPath id="w13"><polygon points="1007.5,262.5 1019.5,261.5 1017.5,267.0 1008.8,267.0"/></clipPath>
<g clip-path="url(#w13)"><polygon points="1007.5,262.5 1019.5,261.5 1017.5,267.0 1008.8,267.0" fill="#0000ad"/>
</g>
<clipPath id="w14"><polygon points="1022.5,258.0 1029.5,258.0 1029.5,261.5 1022.5,261.5"/></clipPath>
<g clip-path="url(#w14)"><polygon points="1022.5,258.0 1029.5,258.0 1029.5,261.5 1022.5,261.5" fill="#0000ad"/>
</g>
<clipPath id="w15"><polygon points="888.0,180.5 897.5,178.8 898.0,182.0 892.5,185.0 888.0,184.5"/></clipPath>
<g clip-path="url(#w15)"><polygon points="888.0,180.5 897.5,178.8 898.0,182.0 892.5,185.0 888.0,184.5" fill="#0000ad"/>
</g>
<polygon class="ld" points="427.7,550.9 431.1,545.7 435.4,542.3 441.4,539.7 447.4,537.1 453.4,532.9 457.7,528.6 461.1,523.4 464.6,520.0 469.7,516.6 474.0,514.0 478.3,517.4 482.6,518.3 483.4,513.1 486.0,507.1 485.1,503.7 490.3,502.9 495.4,504.6 500.6,503.7 505.7,505.4 507.4,508.0 505.7,513.1 504.0,518.3 509.1,522.6 514.3,526.0 519.4,529.4 522.9,526.9 524.6,520.0 526.3,511.4 528.0,502.9 528.9,501.1 531.4,509.7 534.9,516.6 538.3,523.4 540.9,532.0 544.3,537.1 550.3,542.3 555.4,549.1 559.7,556.0 564.0,562.9 565.7,568.0 567.0,572.5 566.2,585.0 563.8,597.5 560.0,607.5 552.5,618.8 542.5,622.5 532.5,622.5 525.0,618.8 518.8,612.5 515.0,603.8 512.5,596.2 511.2,600.0 508.8,607.5 503.8,603.8 500.0,597.5 495.0,592.5 482.5,592.0 470.0,595.0 460.0,600.0 450.0,602.5 442.5,607.0 435.0,603.8 431.2,597.5 432.5,587.5 430.0,577.5 427.5,567.5 423.8,560.0 425.0,550.0"/>
<polygon class="ld" points="536.2,632.5 542.5,633.8 548.8,631.2 550.0,637.5 546.2,643.8 541.2,644.5 537.5,640.0"/>
<polygon class="ld" points="636.2,604.5 640.0,608.8 643.8,615.0 650.0,618.8 656.2,617.5 653.8,623.8 650.0,628.8 645.0,633.8 641.2,631.2 642.5,625.0 640.0,618.8 637.5,612.5"/>
<polygon class="ld" points="636.2,631.2 641.2,633.8 638.8,640.0 633.8,646.2 627.5,651.2 622.5,656.2 616.2,657.5 613.8,653.8 617.5,648.8 625.0,643.8 630.0,638.8 633.8,633.8"/>
<circle cx="618.0" cy="660.0" r="1.4" fill="#000"/>
<circle cx="673.8" cy="646.2" r="1.4" fill="#000"/>
<circle cx="612.5" cy="675.8" r="1.4" fill="#000"/>
<circle cx="623.0" cy="683.8" r="1.4" fill="#000"/>
<circle cx="586.8" cy="693.0" r="1.4" fill="#000"/>
<circle cx="599.5" cy="745.0" r="1.4" fill="#000"/>
<circle cx="607.5" cy="749.5" r="1.4" fill="#000"/>
<polygon class="ld" points="198.8,507.0 200.5,512.5 201.5,520.0 199.5,530.0 197.0,540.0 194.5,550.0 193.8,550.0 191.2,560.0 186.2,565.0 181.2,563.8 177.5,557.5 175.0,550.0 178.8,550.0 180.0,537.5 181.2,527.5 185.0,520.0 190.0,512.5 195.0,508.0"/>
<circle cx="176.2" cy="503.8" r="1.4" fill="#000"/>
<circle cx="182.5" cy="507.5" r="1.4" fill="#000"/>
<circle cx="213.8" cy="397.5" r="1.4" fill="#000"/>
<circle cx="219.5" cy="472.5" r="1.4" fill="#000"/>
<circle cx="279.5" cy="485.0" r="1.4" fill="#000"/>
<circle cx="397.5" cy="498.8" r="1.4" fill="#000"/>
<circle cx="219.5" cy="546.2" r="1.4" fill="#000"/>
<circle cx="226.8" cy="541.8" r="1.4" fill="#000"/>
<circle cx="385.8" cy="476.2" r="1.4" fill="#000"/>
<polygon class="ld" points="360.9,429.1 366.9,433.4 372.9,439.4 378.0,446.3 382.3,453.1 387.4,459.1 392.6,463.4 396.9,468.6 398.1,475.4 395.1,478.0 390.9,473.7 385.7,468.6 381.4,461.7 377.1,454.9 372.9,448.0 368.6,441.1 364.3,435.1"/>
<polygon class="ld" points="410.6,446.3 416.6,442.9 420.9,439.4 426.0,434.3 432.0,429.1 437.1,424.0 441.4,426.6 444.0,430.0 440.6,434.3 439.7,440.3 442.3,446.3 440.6,451.4 438.0,456.6 435.4,463.4 433.7,468.6 427.7,466.9 421.7,466.0 416.6,466.0 414.0,460.0 411.4,453.1"/>
<polygon class="ld" points="398.6,478.9 404.6,481.4 411.4,484.0 418.3,485.7 425.1,487.4 432.0,488.8 438.9,489.5 445.7,489.5 452.6,488.8 452.6,490.5 445.7,491.2 438.9,491.7 432.0,491.2 425.1,490.0 418.3,488.3 411.4,486.6 404.6,484.3 399.4,481.9"/>
<polygon class="ld" points="446.6,458.3 450.0,456.6 450.9,448.9 456.0,448.0 462.9,449.7 467.1,445.4 468.3,448.0 463.7,451.8 457.7,451.8 453.9,452.1 453.9,457.4 454.6,465.1 457.2,470.3 459.8,475.4 456.3,476.5 453.6,472.0 451.9,468.9 451.2,475.4 448.5,476.5 447.4,470.3 445.7,465.1"/>
<polygon class="ld" points="474.9,442.9 478.3,441.1 480.0,446.3 478.6,451.4 475.9,449.7"/>
<polygon class="ld" points="463.7,413.7 469.7,412.9 471.4,418.9 469.7,425.7 465.4,424.0 462.9,418.9"/>
<polygon class="ld" points="489.4,454.9 495.4,454.0 498.9,457.4 498.0,461.7 502.3,463.4 505.7,460.0 510.9,459.1 517.7,461.7 524.6,464.3 531.4,467.7 538.3,471.1 540.0,475.4 546.0,478.0 547.7,480.6 544.3,482.3 548.6,486.6 553.7,491.7 558.9,496.0 559.7,499.4 554.6,498.6 548.6,495.1 543.4,490.9 538.3,487.4 533.1,487.4 529.7,490.9 524.6,492.6 519.4,490.0 516.0,485.7 512.6,480.6 509.1,476.3 504.0,472.9 498.9,468.6 495.4,465.1 492.0,460.9 489.4,458.3"/>
<polygon class="ld" points="555.4,463.4 561.4,465.1 565.7,469.4 564.0,475.4 557.1,478.9 548.6,479.7 547.2,478.2 555.4,476.3 561.4,472.9 562.3,469.4 557.1,466.0"/>
<polygon class="ld" points="456.0,488.1 462.9,487.8 469.7,487.4 476.6,487.8 476.6,489.5 469.7,489.8 462.9,489.8 456.0,490.2"/>
<polygon class="ld" points="460.3,499.4 465.4,495.1 471.4,491.7 473.5,492.9 468.0,496.9 462.5,500.8"/>
<polygon class="ld" points="541.7,460.9 545.1,460.3 548.2,462.1 547.2,463.4 543.4,462.7"/>
<circle cx="571.7" cy="476.3" r="1.4" fill="#000"/>
<circle cx="576.0" cy="480.6" r="1.4" fill="#000"/>
<circle cx="580.3" cy="484.9" r="1.4" fill="#000"/>
<circle cx="584.6" cy="488.3" r="1.4" fill="#000"/>
<circle cx="588.9" cy="491.7" r="1.4" fill="#000"/>
<circle cx="593.1" cy="495.1" r="1.4" fill="#000"/>
<circle cx="597.4" cy="498.6" r="1.4" fill="#000"/>
<circle cx="590.6" cy="503.7" r="1.4" fill="#000"/>
<circle cx="567.4" cy="502.9" r="1.4" fill="#000"/>
<circle cx="499.7" cy="479.7" r="1.4" fill="#000"/>
<circle cx="489.4" cy="484.9" r="1.4" fill="#000"/>
<circle cx="544.3" cy="464.3" r="1.4" fill="#000"/>
<circle cx="469.7" cy="466.0" r="1.4" fill="#000"/>
<circle cx="478.3" cy="466.9" r="1.4" fill="#000"/>
<circle cx="486.9" cy="467.7" r="1.4" fill="#000"/>
<circle cx="456.0" cy="403.4" r="1.4" fill="#000"/>
<circle cx="459.4" cy="406.9" r="1.4" fill="#000"/>
<circle cx="462.9" cy="405.1" r="1.4" fill="#000"/>
<circle cx="363.4" cy="441.1" r="1.4" fill="#000"/>
<circle cx="367.7" cy="448.0" r="1.4" fill="#000"/>
<circle cx="372.9" cy="457.4" r="1.4" fill="#000"/>
<circle cx="377.1" cy="464.3" r="1.4" fill="#000"/>
<circle cx="385.7" cy="476.3" r="1.4" fill="#000"/>
<circle cx="406.3" cy="435.1" r="1.4" fill="#000"/>
<circle cx="397.7" cy="498.6" r="1.4" fill="#000"/>
<circle cx="473.1" cy="434.3" r="1.4" fill="#000"/>
<circle cx="468.3" cy="436.9" r="1.4" fill="#000"/>
<circle cx="478.3" cy="443.7" r="1.4" fill="#000"/>
<circle cx="487.7" cy="453.5" r="1.4" fill="#000"/>
<circle cx="499.7" cy="419.2" r="1.4" fill="#000"/>
<circle cx="512.6" cy="410.6" r="1.4" fill="#000"/>
<circle cx="561.4" cy="420.2" r="1.4" fill="#000"/>
<circle cx="584.6" cy="422.3" r="1.4" fill="#000"/>
<circle cx="589.7" cy="537.1" r="1.4" fill="#000"/>
<polygon class="ld" points="1082.5,90.0 1112.5,90.0 1135.0,87.5 1162.5,85.0 1187.5,84.2 1210.0,86.2 1225.0,89.5 1240.0,92.5 1260.0,93.8 1250.0,96.2 1235.0,98.8 1230.0,103.8 1232.5,110.0 1225.0,115.0 1230.0,122.5 1222.5,125.0 1225.0,132.5 1220.0,136.2 1223.8,141.2 1220.0,145.0 1210.0,148.8 1200.0,150.5 1187.5,151.2 1180.0,156.2 1170.0,160.0 1162.5,165.0 1156.2,169.5 1152.5,177.5 1150.0,185.0 1147.0,188.8 1142.5,187.5 1132.5,185.0 1125.0,177.5 1121.2,170.0 1117.5,162.5 1113.8,155.0 1112.5,147.5 1113.8,142.5 1110.0,137.5 1106.2,130.0 1100.0,123.8 1095.0,120.0 1087.5,117.5 1075.0,116.2 1062.5,115.5 1055.0,112.5 1060.0,107.5 1070.0,103.8 1075.0,98.8 1080.0,93.8"/>
<polygon class="ld" points="1338.8,102.5 1345.0,100.0 1357.5,98.8 1370.0,97.5 1382.5,98.0 1400.0,98.8 1400.0,106.2 1382.5,108.8 1372.5,107.5 1365.0,112.5 1357.5,113.8 1352.5,108.8 1345.0,107.5"/>
<polygon class="ld" points="90.0,100.0 115.0,99.2 120.0,101.2 115.0,103.8 90.0,104.5"/>
<polygon class="ld" points="181.2,97.0 195.0,95.5 205.0,96.5 200.0,99.0 187.5,99.0"/>
<polygon class="ld" points="212.5,96.2 230.0,92.5 240.0,95.0 255.0,95.8 250.0,98.0 235.0,99.0 220.0,99.5"/>
<polygon class="ld" points="346.2,96.2 360.0,94.5 370.0,97.5 375.0,102.5 365.0,103.8 355.0,101.2"/>
<polygon class="ld" points="375.0,106.2 387.5,103.8 395.0,106.2 385.0,108.8"/>
<polygon class="ld" points="300.0,95.5 307.5,95.2 307.5,97.0 300.0,97.0"/>
<polygon class="ld" points="291.2,101.2 297.5,101.2 297.5,103.0 291.2,103.0"/>
<polygon class="ld" points="511.2,118.8 525.0,117.0 535.0,120.0 525.0,122.5 512.5,122.5"/>
<polygon class="ld" points="521.2,128.8 530.0,127.5 532.5,130.5 523.8,132.0"/>
<polygon class="ld" points="545.0,121.2 557.5,121.2 557.5,123.8 546.2,123.8"/>
<polygon class="ld" points="657.0,138.8 665.0,137.0 670.5,138.8 665.0,140.8 658.8,140.5"/>
<polygon class="ld" points="80.0,766.2 111.2,765.0 120.0,762.5 130.0,760.0 140.0,756.2 150.0,757.5 160.0,760.0 170.0,755.0 182.5,750.0 195.0,748.8 205.0,743.8 215.0,743.0 222.5,747.5 235.0,748.8 250.0,750.0 265.0,750.0 272.5,752.5 270.0,760.0 262.5,765.0 265.0,768.8 260.0,775.0 270.0,770.0 280.0,762.5 290.0,757.5 300.0,753.8 312.5,750.0 325.0,747.5 337.5,746.2 350.0,745.0 365.0,743.8 375.0,742.5 385.0,741.2 395.0,742.5 407.5,746.2 420.0,743.8 430.0,747.5 440.0,748.0 450.0,747.5 465.0,745.0 482.5,744.5 500.0,743.0 515.0,745.0 532.5,747.5 537.5,752.0 550.0,753.0 560.0,754.5 560.0,755.0 568.6,753.9 577.1,756.1 587.9,758.2 594.3,761.4 598.6,764.6 607.1,763.6 617.9,765.7 627.5,767.9 626.4,773.2 620.0,774.3 612.5,776.4 606.1,779.6 601.8,782.9 599.6,788.2 601.8,793.6 606.1,796.1 616.8,796.1 635.0,794.9 737.9,793.6 746.4,791.4 757.1,791.0 765.7,790.4 774.3,788.2 782.9,786.1 791.4,784.6 800.0,785.0 808.6,782.4 817.1,780.7 830.0,779.6 842.9,778.6 860.0,778.1 825.0,781.2 850.0,780.0 875.0,781.2 895.0,782.5 910.0,783.8 930.0,783.8 945.0,785.0 950.0,781.2 940.0,776.2 936.2,771.2 950.0,769.5 965.0,770.0 980.0,773.6 988.6,774.6 999.3,776.8 1010.0,777.4 1018.6,775.3 1029.3,777.4 1022.9,771.4 1029.3,762.9 1042.1,758.6 1052.9,756.4 1057.1,748.9 1065.7,742.5 1074.3,738.2 1082.9,735.0 1093.6,731.8 1104.3,730.3 1100.0,737.1 1088.2,743.6 1087.1,754.3 1090.4,762.9 1088.2,773.6 1089.3,784.3 1095.7,787.5 1108.6,789.0 1121.4,792.9 1130.0,794.6 1175.0,794.1 1185.7,790.7 1196.4,788.6 1207.1,785.4 1215.7,781.1 1220.0,776.8 1228.6,776.1 1237.1,773.6 1250.0,770.4 1262.9,766.1 1271.4,763.9 1280.0,762.9 1300.0,761.2 1312.5,762.5 1325.0,762.5 1337.5,761.2 1350.0,762.0 1362.5,761.2 1375.0,762.5 1390.0,762.5 1420.0,762.0 1420.0,900.0 80.0,900.0"/>
<polyline class="ln" points="592.1,803.2 592.1,808.6 595.4,812.9 602.9,815.0 617.9,818.9 635.0,821.4 656.4,823.6 677.9,825.3 699.3,826.1 718.6,826.1 744.3,826.8"/>
<polyline class="ln" points="606.1,796.1 602.9,799.6 596.4,800.4 592.1,803.2"/>
<polyline class="ln" points="682.1,817.1 697.1,818.9 710.0,821.0 722.9,821.4 744.3,821.4 752.9,816.1 756.1,812.9 748.6,810.7 744.3,809.6 761.4,808.6 774.3,808.1 772.1,804.3 761.4,802.1 748.6,800.0 744.3,797.4 738.9,795.3 737.9,793.6"/>
<polyline class="ln" points="717.5,801.1 725.0,798.9 734.6,802.1 731.4,804.3 720.7,803.9 717.5,801.1"/>
<polyline class="ln" points="1074.3,784.3 1065.7,786.4 1052.9,789.6 1040.0,790.7 1027.1,790.3 1029.3,793.9 1040.0,795.0"/>
<polyline class="ln" points="1003.6,796.1 1014.3,800.4 1029.3,804.6 1033.6,807.9 1050.7,808.9 1065.7,814.3 1080.7,817.5 1087.1,820.3 1100.0,817.5 1117.1,814.3 1138.6,815.4 1155.7,812.1 1172.9,807.9 1194.3,804.6 1217.9,804.6 1194.3,804.0 1179.3,802.5 1171.8,800.4 1175.0,795.0"/>
<polyline class="ln" points="1108.6,807.9 1119.3,802.5 1130.0,796.1 1140.7,795.4 1148.2,800.4 1147.1,804.6 1130.0,806.8 1117.1,808.3 1108.6,807.9"/>
<polyline class="ln" points="1046.4,801.4 1055.0,798.2 1065.7,802.5 1076.4,805.7 1087.1,804.6 1089.3,807.9 1080.7,808.9 1070.0,806.8 1057.1,803.6 1046.4,801.4"/>
<polyline class="ln" points="1031.4,760.7 1044.3,756.4 1055.0,758.6 1061.4,766.1 1059.3,771.4 1050.7,773.6 1037.9,772.5 1031.4,769.3"/>
<polyline class="ln" points="262.5,765.0 265.0,768.8 260.0,775.0"/>
<circle cx="156.2" cy="659.2" r="1.4" fill="#000"/>
<circle cx="206.2" cy="657.0" r="1.4" fill="#000"/>
<circle cx="283.8" cy="686.5" r="1.4" fill="#000"/>
<circle cx="350.8" cy="742.0" r="1.4" fill="#000"/>
<circle cx="115.5" cy="762.0" r="1.4" fill="#000"/>
<polygon points="266.2,667.0 271.2,666.5 273.0,669.5 270.0,672.0 266.5,671.0" fill="#000" stroke="#000" stroke-width="1"/>
<circle cx="1207.5" cy="710.0" r="1.4" fill="#000"/>
<circle cx="1138.8" cy="719.5" r="1.4" fill="#000"/>
<circle cx="1105.0" cy="722.0" r="1.4" fill="#000"/>
<circle cx="1108.8" cy="722.0" r="1.4" fill="#000"/>
<polygon points="1083.8,679.5 1090.0,678.0 1096.2,679.5 1095.0,682.0 1087.5,683.0 1083.8,681.5" fill="#000" stroke="#000" stroke-width="1"/>
<polygon points="1165.5,690.5 1170.0,691.2 1173.8,693.8 1172.5,695.0 1167.5,693.0" fill="#000" stroke="#000" stroke-width="1"/>
<polygon class="ld" points="1057.5,686.2 1062.5,691.2 1073.8,693.8 1065.0,695.0 1061.2,698.8 1055.0,697.5 1048.8,694.5 1052.5,690.0"/>
<circle cx="1190.0" cy="278.0" r="1.4" fill="#000"/>
<circle cx="1198.0" cy="282.0" r="1.4" fill="#000"/>
<circle cx="1203.0" cy="284.0" r="1.4" fill="#000"/>
<circle cx="1209.0" cy="287.0" r="1.4" fill="#000"/>
<circle cx="1212.0" cy="290.0" r="1.4" fill="#000"/>
<circle cx="1213.0" cy="378.0" r="1.4" fill="#000"/>
<circle cx="1217.0" cy="381.0" r="1.4" fill="#000"/>
<circle cx="1214.0" cy="385.0" r="1.4" fill="#000"/>
<circle cx="1219.0" cy="385.0" r="1.4" fill="#000"/>
<circle cx="1220.0" cy="379.0" r="1.4" fill="#000"/>
<polyline class="ln" points="807.1,189.5 808.4,190.0 812.2,189.0 812.9,193.8 816.4,191.7 817.7,193.7 817.1,196.8 820.0,197.7 820.2,201.5 823.4,200.1 822.3,202.8 825.5,203.8 827.7,204.7 827.1,208.8 830.1,207.7 829.1,211.2 833.0,211.6 829.8,216.1 836.5,214.9 835.2,219.8 839.3,218.1 839.5,219.4 838.7,223.1 843.0,223.4 841.7,227.4 844.9,226.3 847.2,226.5 847.5,228.0 847.7,230.5 851.1,229.2 850.9,233.5 853.6,232.2 854.2,234.5 856.6,233.3 857.4,236.3 859.9,235.4 859.7,237.3 861.6,239.5 865.1,239.7 863.6,243.6"/>
<polyline class="ln" points="1389.6,139.3 1387.5,142.4 1384.0,140.8 1382.9,141.0 1382.6,144.4 1379.5,142.8 1377.3,144.5 1374.6,142.8 1373.1,143.4 1371.4,146.4 1368.9,145.0 1366.4,144.0 1365.3,145.0 1364.3,149.0 1361.9,146.4 1359.5,147.2 1356.5,147.8 1353.7,148.6 1352.5,151.0 1350.3,151.0 1350.7,154.2 1347.5,151.7 1348.7,154.5 1345.1,154.0 1346.1,156.8 1344.0,157.5 1343.8,160.7 1340.6,161.0 1339.7,162.7 1340.4,165.5 1338.1,164.5 1338.4,167.0 1336.5,167.2 1337.2,169.8 1333.5,170.6 1332.8,173.2 1330.9,172.3 1328.2,173.0 1326.9,176.4 1323.7,175.8 1322.4,178.9 1319.5,179.3 1319.4,182.1 1318.1,183.6 1319.6,186.4 1318.8,189.5 1321.5,190.1 1319.7,192.8"/>
<polyline class="ln" points="1036.2,634.4 1039.1,636.8 1039.2,639.2 1035.7,640.3 1038.5,643.5 1038.1,645.9 1038.5,647.3 1033.2,647.1 1033.1,650.1 1036.8,652.8 1033.4,653.6 1032.8,656.9 1034.1,659.2 1028.7,661.5 1033.2,664.2 1030.2,666.8 1035.6,667.7 1030.1,670.9 1035.0,673.3 1033.4,675.9 1037.4,677.5 1034.2,681.3 1037.7,681.0 1035.5,685.8 1040.8,684.8 1038.1,689.1 1041.3,688.0 1042.9,690.7 1045.3,691.2 1045.9,695.0 1051.3,691.6 1051.1,697.8 1055.4,696.0 1056.4,699.1 1059.9,696.6 1060.5,702.5"/>
<polyline class="ln" points="1234.6,98.3 1232.8,98.8 1231.8,99.7 1230.5,101.2 1231.6,104.0 1226.8,104.8 1232.5,105.5 1230.7,109.0 1230.4,110.4 1229.7,113.9 1226.3,111.8 1228.6,116.9 1224.8,116.2 1227.2,116.7 1225.3,119.5 1229.9,118.3 1225.8,121.7 1228.5,125.5 1224.0,122.1 1221.8,124.8 1223.8,126.6 1225.4,127.9 1223.7,130.9 1225.7,134.0 1222.7,135.8 1219.9,136.7 1222.2,137.1 1221.8,140.2 1224.6,142.2 1219.9,141.7 1222.1,145.9 1219.3,144.3"/>
<polyline class="ln" points="1125.6,177.2 1123.5,175.5 1123.4,172.5 1122.2,169.9 1118.5,168.2 1117.3,165.8 1116.5,162.6 1117.8,160.7 1113.6,160.4 1115.4,156.0 1114.8,153.8 1110.3,151.5 1112.4,149.8 1112.1,147.6 1115.3,146.6 1112.7,143.8 1114.8,141.1 1113.3,140.2 1109.1,141.3 1112.0,137.2 1105.8,137.1 1109.1,132.3 1105.2,132.6 1107.1,129.6"/>
<polyline class="ln" points="1070.3,182.9 1073.5,184.0 1074.2,187.1 1076.3,188.4 1075.0,190.9 1078.1,190.6 1080.8,192.1 1078.0,195.9 1080.7,197.6 1080.8,199.8 1083.3,201.5 1083.3,203.5 1085.8,205.3 1086.7,208.1 1089.2,208.4 1089.9,210.9 1092.8,211.7 1092.0,214.7 1093.8,216.2 1096.3,217.8 1098.9,217.5 1098.9,221.2 1101.9,222.3 1101.8,225.7 1104.5,226.4 1102.9,227.9"/>
<polyline class="ln" points="1044.8,141.3 1047.4,140.0 1047.7,142.6 1051.5,140.7 1051.4,143.8 1054.1,143.6 1054.9,146.0 1056.7,145.3 1057.3,148.6 1061.0,145.0 1060.1,150.2 1062.3,149.2 1062.4,151.3 1065.6,150.0 1066.9,153.7 1068.1,154.3 1070.7,152.7 1073.0,153.6 1074.3,158.6 1077.8,156.1 1077.6,160.0 1082.2,159.6 1081.2,161.9 1080.9,162.4"/>
<polyline class="ln" points="1057.6,749.6 1057.6,747.1 1061.2,747.0 1062.3,746.4 1064.3,745.0 1064.9,744.0 1066.0,743.0 1067.8,740.0 1069.0,739.2 1071.9,740.0 1073.2,738.3 1075.7,739.1 1076.9,736.9 1078.6,737.6 1081.4,737.3 1081.7,734.8 1083.1,734.3 1084.4,734.9 1085.6,733.6 1087.8,734.5 1089.9,731.7 1092.1,733.0 1092.9,731.1 1094.7,733.0 1097.4,730.7 1098.8,732.2 1100.4,727.9 1102.5,729.9 1104.5,732.0"/>
<polyline class="ln" points="1099.8,736.8 1098.9,739.1 1096.5,738.4 1096.3,740.7 1094.4,742.9 1091.6,740.0 1091.8,744.4 1087.9,743.3 1087.2,744.7 1089.5,747.1 1086.8,749.0 1088.3,750.3 1086.4,751.9 1089.7,754.1 1086.2,756.7 1090.1,757.9 1088.1,760.1 1091.3,760.4 1089.0,762.3 1090.5,764.2 1090.5,767.1 1087.6,768.7 1089.9,771.8 1087.7,773.2 1088.6,773.6"/>
<polyline class="ln" points="1283.5,193.5 1283.4,196.4 1284.1,198.7 1281.9,199.7 1279.3,200.4 1282.0,202.6 1280.7,206.1"/>
<polyline class="ln" points="709.6,151.8 711.1,153.7 714.6,154.1 713.1,156.5 712.5,159.1 711.9,159.0 712.7,161.6 714.4,161.8 717.2,159.9 719.9,161.7 723.0,160.3 724.6,160.7 726.5,159.3 726.9,161.8 730.5,162.5 729.5,164.0 728.4,164.3 725.5,166.9 721.7,167.4 719.3,169.1 716.2,168.6 715.4,170.8 713.7,170.7 712.0,172.7 711.4,174.1 710.4,175.9 713.1,177.2 711.3,179.2 714.4,180.6 713.2,183.9 716.7,185.5 717.7,188.1 720.8,188.3 722.7,190.5 725.4,188.8"/>
<polyline class="ln" points="959.5,101.9 958.3,97.5 960.7,96.3 964.2,97.8 965.4,94.9 967.5,96.7 969.6,93.3 972.4,92.6 975.3,95.2 976.8,92.0 979.0,94.2 980.2,94.5 981.3,90.8 984.0,91.7 984.9,89.5 988.1,92.0 989.1,87.6 991.1,90.5 992.0,88.4 995.7,90.9 998.1,88.3 1001.4,90.0 1003.7,89.1 1004.7,86.9 1006.8,89.7 1008.8,87.5 1010.1,86.9 1013.3,86.7 1015.4,89.1 1016.6,85.0 1019.7,88.3 1020.9,86.1 1024.2,88.0 1026.1,85.1 1028.6,87.4 1030.3,85.1 1032.5,87.7 1034.1,84.8 1035.2,88.2 1038.2,88.2 1039.9,84.9 1042.6,88.5 1044.2,87.2 1047.5,85.2 1050.5,87.5 1053.2,88.7 1056.1,85.4 1058.4,88.3 1061.2,86.8 1062.4,88.4 1064.8,86.3 1067.4,88.9 1068.9,89.4 1072.3,87.8 1075.1,89.7 1077.1,89.6 1078.4,91.8 1081.2,89.8 1081.5,91.8 1082.8,93.0 1079.9,91.8 1080.2,95.4 1078.2,94.0 1076.2,96.4 1073.2,97.8 1070.7,97.2 1068.0,95.6 1066.5,99.0 1063.9,99.9 1061.6,97.4 1059.9,100.5 1056.7,97.2 1055.3,101.9 1053.2,99.8 1052.4,102.6 1050.0,100.9 1046.9,101.9 1046.4,105.2 1042.8,103.4 1042.4,106.6 1040.5,105.7 1040.0,107.4 1037.9,109.8 1034.0,107.8 1033.1,111.5 1029.7,108.6 1027.7,111.3 1024.4,109.9 1021.4,112.2 1019.6,109.9 1016.4,109.8 1012.7,112.1 1010.8,109.0 1007.5,111.4 1005.5,109.1 1003.5,109.8 1001.9,108.7 998.7,110.8 997.5,108.1 996.1,110.4 993.4,107.7 990.4,109.4 988.5,106.2 985.6,106.6 984.1,109.3 982.7,105.9 980.7,108.8 978.7,107.9 977.7,105.3 976.0,107.7 974.5,105.3 971.0,107.2 967.7,106.7 966.0,102.8 963.6,103.1 962.1,102.9 959.1,101.6 959.0,98.7"/>
<polyline class="ln" points="970.1,101.0 972.6,98.3 975.0,101.1 975.0,97.4 979.0,99.0 979.7,95.0 981.5,96.3 983.6,99.7 986.0,96.0 988.8,97.6 990.3,99.6 993.5,98.1 995.6,99.7 997.5,97.2 1000.3,95.0 1003.2,95.2 1006.1,98.8 1009.2,95.4 1009.9,99.1 1013.4,94.2 1015.7,99.2 1016.7,95.6 1018.8,97.1 1021.2,95.1 1024.1,96.9 1026.7,93.9 1029.7,95.3 1033.0,97.3 1034.9,90.7 1037.9,95.0 1040.0,91.8 1042.0,94.1 1044.8,91.3 1046.5,90.0 1049.9,94.8 1052.8,91.6 1055.2,93.7 1056.7,93.1 1059.7,91.4 1062.2,92.2 1063.7,93.4 1064.8,94.2 1065.9,94.2"/>
<polyline class="ln" points="973.7,105.9 976.4,102.6 979.9,104.6 982.6,101.8 984.2,104.5 986.4,101.8 988.2,104.4 991.0,100.8 992.1,102.4 993.2,105.3 995.3,105.3 997.1,106.1 999.4,105.5 1000.5,104.7 1001.5,102.2 1004.0,100.9 1006.5,104.1 1008.5,100.6 1010.7,104.8 1013.5,101.4 1014.6,102.0 1016.3,106.2 1019.4,104.2 1021.6,107.1 1024.1,105.7 1026.8,102.9 1029.8,107.3 1031.3,101.8 1033.8,103.9 1035.7,101.7 1038.4,102.1 1039.6,99.5 1041.7,102.7 1043.0,99.0 1046.3,100.9 1047.4,95.7 1049.8,96.6 1053.1,99.5 1053.9,96.6 1056.1,99.2 1055.4,96.0"/>
<polyline class="ln" points="990.1,90.5 993.0,92.1 995.6,94.1 992.2,96.8 994.2,99.9 991.9,101.1 993.4,104.0 991.6,105.0 991.6,105.6"/>
<polyline class="ln" points="1013.7,88.8 1016.3,90.0 1014.9,93.8 1016.6,96.4 1018.0,97.5 1018.2,100.7 1019.9,102.7 1019.4,104.2 1021.2,106.9 1020.8,108.8 1022.3,108.9"/>
<polyline class="ln" points="962.2,117.0 963.9,113.1 965.2,111.9 967.1,113.0 969.2,111.4 970.5,113.3 973.5,110.5 976.0,113.2 977.3,112.0 980.0,114.2 982.2,113.1 984.6,112.1 987.6,110.2 990.6,112.5 992.9,111.4 995.4,114.0 998.4,113.8 1001.8,112.1 1002.7,114.9 1006.0,113.1 1007.6,112.9 1008.9,114.8 1011.6,111.4 1014.0,115.3 1017.5,115.0 1018.4,116.7 1017.0,118.9 1015.6,118.9 1013.2,121.5 1011.1,119.2 1008.9,120.4 1007.6,122.2 1006.3,120.3 1005.3,121.6 1002.9,122.5 1000.4,120.1 997.7,123.3 994.6,121.6 992.6,121.4 989.6,122.7 988.1,121.4 985.0,124.1 983.6,120.6 980.2,121.7 978.5,120.6 976.6,119.1 974.5,118.1 972.7,121.3 972.1,117.9 969.1,121.0 967.0,118.1 965.5,119.1 964.7,117.1 962.0,116.9 962.6,113.3"/>
<polyline class="ln" points="865.1,118.0 866.5,114.9 869.1,114.2 872.7,114.9 873.7,112.8 875.3,114.9 877.7,111.7 879.9,113.7 881.6,110.8 883.6,114.0 885.9,112.0 888.3,113.6 890.5,114.4 891.8,114.2 894.9,113.7 896.7,111.6 898.4,112.7 901.2,111.5 904.0,110.9 905.4,107.6 908.5,108.3 910.9,105.1 912.7,105.7 912.7,107.8 911.4,109.5 910.3,110.0 908.5,111.7 908.4,113.5 907.4,115.1 910.1,115.9 911.8,118.4 913.2,116.5 915.2,119.0 917.0,116.4 919.8,116.1 922.6,118.4 924.0,119.3 924.9,121.3 921.4,118.8 920.7,123.3 918.7,121.6 915.5,123.3 914.0,123.0 910.7,121.8 909.7,123.2 906.8,123.1 904.9,122.4 902.5,125.5 900.7,122.0 898.7,123.1 897.1,120.7 893.8,122.4 892.3,119.5 890.2,121.4 887.6,119.0 886.0,121.3 884.1,118.8 881.9,121.4 879.7,119.2 878.2,121.3 875.5,118.6 873.2,121.0 872.0,118.4 870.1,120.6 869.5,118.3 866.4,120.1 867.1,116.6 864.3,117.8 864.8,116.5"/>
<polyline class="ln" points="985.8,131.3 986.5,128.5 988.2,129.4 990.6,129.3 991.7,126.4 993.2,128.7 995.4,127.8 997.3,129.0 998.7,129.6 1001.1,128.8 1003.9,129.7 1004.6,132.3 1005.9,130.3 1007.3,131.3 1008.5,129.4 1010.1,131.5 1013.3,129.7 1014.9,131.0 1018.4,129.8 1019.6,131.5 1022.8,130.7 1024.5,132.9 1027.6,131.6 1030.4,131.6 1031.0,134.7 1033.4,133.2 1034.6,136.7 1035.7,137.8 1037.7,136.0 1039.4,139.4 1042.7,137.7 1043.3,140.8 1045.9,138.7"/>
<polyline class="ln" points="1081.4,160.0 1080.6,163.1 1078.3,162.8 1076.3,165.6 1074.2,164.5 1071.9,167.0 1070.4,164.8 1068.9,163.5 1066.0,162.5 1064.6,163.5 1062.1,160.2 1064.4,162.1 1065.8,163.4 1065.0,167.7 1067.5,168.1 1068.4,170.5 1071.3,170.7 1070.5,174.4 1073.0,175.6 1071.6,176.8 1071.6,178.7 1069.3,177.9 1066.4,179.9 1064.5,176.8 1062.4,178.9 1060.6,176.1 1058.2,176.6 1058.0,172.9 1055.5,174.0 1053.7,173.3 1051.6,170.9 1049.0,171.3 1046.2,170.9 1044.2,168.3 1041.2,169.4 1039.7,166.6 1037.9,165.8 1035.7,164.6 1032.6,165.0 1032.0,163.3"/>
<polyline class="ln" points="878.7,135.6 881.0,134.9 881.5,132.4 883.1,133.0 884.9,130.5 886.7,132.2 888.4,132.7 890.4,132.4 892.7,129.3 896.1,131.6 898.1,129.0 901.5,130.6 904.7,129.0 906.4,130.7 907.7,129.0 908.9,131.1 912.1,129.0 914.4,131.1 917.4,129.3 920.8,130.4 922.8,127.5 925.4,129.2 927.2,128.6 927.5,130.0 929.2,132.5 930.5,134.4 932.2,136.7 933.4,138.5 933.5,141.7 935.6,143.4 938.8,144.3 938.5,145.9"/>
<polyline class="ln" points="884.4,139.0 885.3,137.5 886.8,138.3 888.5,136.3 891.3,137.6 892.7,137.2 894.0,137.6 895.6,135.6 898.2,137.7 899.8,136.4 902.3,138.4 903.9,138.5 904.1,138.8 901.2,138.8 900.7,142.1 898.4,140.8 895.0,140.4 893.9,142.2 892.6,140.5 891.2,142.1"/>
<polyline class="ln" points="927.1,154.5 928.5,151.9 929.9,154.4 931.8,152.8 934.8,155.0 936.9,152.3 939.8,154.4 940.9,151.8 943.1,151.8 946.2,151.4 948.3,153.8 951.6,153.0 954.8,153.2 955.5,155.6 958.3,153.9 959.5,156.7 959.4,156.5 961.6,157.3 960.6,153.7 963.5,151.7 963.4,148.5 960.1,146.7 962.0,144.1 962.1,143.5 960.1,141.5 962.9,139.9 964.4,140.6 964.9,137.6 966.3,139.9 967.6,138.5 968.0,140.1 970.9,139.2 970.1,141.9 972.3,142.8 971.8,145.8 972.6,147.8 971.0,148.4 972.8,149.1 974.8,147.8 976.7,149.8 979.5,150.7 981.5,149.1 983.7,149.5 983.9,146.1 985.0,148.8 986.5,149.2 990.2,150.4 991.0,152.4 992.1,153.0 992.2,154.1 995.3,153.9 995.0,151.1 998.7,150.3 997.1,147.7 999.7,148.2 999.9,144.7 1001.6,143.3 1003.2,146.3 1005.3,145.4 1006.8,146.0 1007.2,147.6 1008.8,147.1 1009.9,149.3"/>
<polyline class="ln" points="455.5,392.6 459.5,391.0 458.2,394.7 457.2,396.0 459.7,397.7 460.7,398.3 465.5,398.8 461.2,402.5 462.6,403.3 462.9,406.1 467.1,404.5 464.1,407.2 466.0,409.7 465.7,411.9 468.4,411.3 467.8,414.0"/>
<polyline class="ln" points="453.5,393.2 457.8,393.7 455.1,397.1 455.0,399.6 458.4,402.1 455.8,404.8 458.1,405.6 458.1,409.1 461.3,408.9 460.3,411.6 460.0,413.3 463.5,413.4 461.4,415.2"/>
<polyline class="ln" points="455.5,402.2 458.3,402.4 457.3,406.9 462.4,406.5 459.7,409.0 459.8,410.6 459.5,414.0 461.7,410.5 464.8,411.2 465.6,407.7 468.7,407.7"/>
<circle cx="733.0" cy="355.5" r="1.4" fill="#000"/>
<circle cx="737.5" cy="357.5" r="1.4" fill="#000"/>
<circle cx="741.2" cy="359.5" r="1.4" fill="#000"/>
<circle cx="744.5" cy="361.2" r="1.4" fill="#000"/>
<polygon class="ld" points="747.0,364.5 749.5,363.8 751.5,367.0 748.2,369.0"/>
<polyline class="ln" points="181.3,98.2 182.7,96.3 184.3,98.7 185.3,96.8 187.8,96.3 189.8,96.9 192.0,95.5 193.8,96.6 195.3,97.9 197.5,98.4 199.5,96.5 201.9,97.9 203.8,96.4 205.1,97.2"/>
<polyline class="ln" points="212.7,98.3 214.7,98.3 215.2,95.8 217.0,97.7 217.8,94.9 220.3,96.3 222.3,95.1 224.9,95.8 225.9,94.2 227.4,96.8 228.5,94.6 229.7,96.1 231.6,94.2 232.6,93.9 233.7,96.2 235.8,93.8 237.8,96.6 239.1,96.3 240.9,94.1 243.4,96.7 244.3,93.3 246.5,95.9 248.9,94.0 250.1,96.5 251.6,94.1 253.8,97.5 255.1,95.6"/>
<polyline class="ln" points="217.7,97.2 218.7,97.4 220.4,95.0 221.9,96.4 223.1,94.0 225.7,95.8 227.4,92.9 229.5,94.8 231.1,95.3 232.1,92.6 233.6,94.7 235.4,92.9 237.6,95.1 239.7,93.6 240.0,94.9"/>
<polyline class="ln" points="1339.0,103.0 1340.3,101.5 1341.8,99.6 1345.3,101.3 1346.1,98.5 1347.8,100.8 1348.6,98.3 1350.1,100.9 1350.9,98.9 1352.4,100.6 1354.1,97.4 1357.3,99.2 1359.8,100.4 1361.4,98.0 1363.2,98.7 1365.7,99.1 1367.1,96.7 1368.4,98.9 1371.0,96.1 1373.2,99.2 1374.5,96.7 1375.6,98.8 1376.8,97.1 1379.6,100.6 1381.1,96.4 1383.0,99.0 1385.9,99.2 1387.2,98.4 1388.9,98.8 1390.6,100.3 1391.4,99.5"/>
<polyline class="ln" points="1344.8,108.8 1346.8,106.3 1348.2,109.5 1349.4,109.4 1351.5,107.0 1351.6,110.5 1353.9,108.6 1352.5,112.2 1355.4,111.1 1357.4,111.0 1358.6,112.5 1359.4,114.1 1361.5,112.7 1363.0,114.0 1365.0,111.7 1368.2,112.3 1367.9,109.2 1370.9,108.9 1373.0,108.0 1374.3,105.1 1375.7,108.7 1378.3,107.0 1380.8,110.0 1382.4,109.5 1383.5,107.2 1386.5,108.7 1388.9,106.3 1390.0,106.0 1391.5,107.2"/>
<polyline class="ln" points="1350.0,104.2 1352.7,103.1 1354.6,104.8 1356.7,102.7 1359.5,104.3 1360.9,102.7 1362.9,102.5 1365.0,104.1 1368.1,102.2 1369.0,103.8 1370.3,102.4 1371.8,104.6 1374.5,102.0 1377.2,105.1 1378.3,102.3 1381.3,104.4 1383.2,101.3 1386.3,104.4 1387.4,101.0"/>
<polyline points="624.3,795.3 635.0,794.9 733.6,793.6" fill="none" stroke="#fff" stroke-width="3"/>
<polyline points="1133.2,794.6 1171.8,794.1" fill="none" stroke="#fff" stroke-width="3"/>
<polyline class="ln" points="279.0,133.0 280.0,140.0 283.0,146.0 287.0,150.0 285.0,156.0 280.0,159.0 274.0,160.0 268.0,159.0"/>
<polyline class="ln" points="283.0,137.0 286.0,144.0 292.0,148.0 298.0,150.0 300.0,155.0"/>
<polyline class="ln" points="309.0,133.0 315.0,136.0 319.0,140.0 317.0,143.6"/>
</g>
<rect x="111.5" y="56.5" width="1279.0" height="793.0" fill="none" stroke="#000" stroke-width="1.4"/>
<line x1="235.8" y1="849.5" x2="235.8" y2="855.0" stroke="#000" stroke-width="1.2"/>
<line x1="449.0" y1="849.5" x2="449.0" y2="855.0" stroke="#000" stroke-width="1.2"/>
<line x1="662.2" y1="849.5" x2="662.2" y2="855.0" stroke="#000" stroke-width="1.2"/>
<line x1="875.3" y1="849.5" x2="875.3" y2="855.0" stroke="#000" stroke-width="1.2"/>
<line x1="1088.5" y1="849.5" x2="1088.5" y2="855.0" stroke="#000" stroke-width="1.2"/>
<line x1="1301.7" y1="849.5" x2="1301.7" y2="855.0" stroke="#000" stroke-width="1.2"/>
<line x1="106.0" y1="56.5" x2="111.5" y2="56.5" stroke="#000" stroke-width="1.2"/>
<line x1="106.0" y1="254.8" x2="111.5" y2="254.8" stroke="#000" stroke-width="1.2"/>
<line x1="106.0" y1="453.0" x2="111.5" y2="453.0" stroke="#000" stroke-width="1.2"/>
<line x1="106.0" y1="651.2" x2="111.5" y2="651.2" stroke="#000" stroke-width="1.2"/>
<line x1="106.0" y1="849.5" x2="111.5" y2="849.5" stroke="#000" stroke-width="1.2"/>
<text x="392" y="42" font-size="39" textLength="277" lengthAdjust="spacingAndGlyphs">전지구 유의파고</text>
<text x="672" y="42" font-size="36.5" textLength="438.5" lengthAdjust="spacingAndGlyphs">(SeaWaFo, Feb 2026, m)</text>
<g font-size="36.5">
<text x="12.10" y="71.7" textLength="87.30" lengthAdjust="spacingAndGlyphs">90°N</text>
<text x="11.30" y="269.4" textLength="87.90" lengthAdjust="spacingAndGlyphs">45°N</text>
<text x="51.30" y="467.8" textLength="49.70" lengthAdjust="spacingAndGlyphs">EQ</text>
<text x="20.50" y="666.0" textLength="79.60" lengthAdjust="spacingAndGlyphs">45°S</text>
<text x="19.50" y="864.3" textLength="80.60" lengthAdjust="spacingAndGlyphs">90°S</text>
<text x="195.60" y="896.5" textLength="80.20" lengthAdjust="spacingAndGlyphs">60°E</text>
<text x="399.20" y="896.5" textLength="100.30" lengthAdjust="spacingAndGlyphs">120°E</text>
<text x="622.10" y="896.5" textLength="80.10" lengthAdjust="spacingAndGlyphs">180°</text>
<text x="816.20" y="896.5" textLength="118.70" lengthAdjust="spacingAndGlyphs">120°W</text>
<text x="1038.50" y="896.5" textLength="99.60" lengthAdjust="spacingAndGlyphs">60°W</text>
<text x="1282.10" y="896.5" textLength="37.30" lengthAdjust="spacingAndGlyphs">0°</text>
<text x="217.10" y="984.5" textLength="21.40" lengthAdjust="spacingAndGlyphs">0</text>
<text x="392.80" y="984.5" textLength="18.00" lengthAdjust="spacingAndGlyphs">1</text>
<text x="565.50" y="984.5" textLength="21.00" lengthAdjust="spacingAndGlyphs">2</text>
<text x="740.80" y="984.5" textLength="21.40" lengthAdjust="spacingAndGlyphs">3</text>
<text x="913.50" y="984.5" textLength="24.40" lengthAdjust="spacingAndGlyphs">4</text>
<text x="1089.20" y="984.5" textLength="22.30" lengthAdjust="spacingAndGlyphs">5</text>
<text x="1262.80" y="984.5" textLength="23.60" lengthAdjust="spacingAndGlyphs">6</text>
</g>
<g shape-rendering="crispEdges">
<rect x="226.50" y="920.2" width="87.75" height="22.6" fill="#0000ad"/>
<rect x="313.75" y="920.2" width="87.75" height="22.6" fill="#0001ff"/>
<rect x="401.00" y="920.2" width="87.75" height="22.6" fill="#0054ff"/>
<rect x="488.25" y="920.2" width="87.75" height="22.6" fill="#00a8ff"/>
<rect x="575.50" y="920.2" width="87.75" height="22.6" fill="#16ffe1"/>
<rect x="662.75" y="920.2" width="87.75" height="22.6" fill="#5aff9d"/>
<rect x="750.00" y="920.2" width="87.75" height="22.6" fill="#9dff5a"/>
<rect x="837.25" y="920.2" width="87.75" height="22.6" fill="#e4ff13"/>
<rect x="924.50" y="920.2" width="87.75" height="22.6" fill="#ffbd00"/>
<rect x="1011.75" y="920.2" width="87.75" height="22.6" fill="#ff6f00"/>
<rect x="1099.00" y="920.2" width="87.75" height="22.6" fill="#ff1e00"/>
<rect x="1186.25" y="920.2" width="87.75" height="22.6" fill="#ad0000"/>
</g>
<polygon points="226.5,920.2 175.5,931.5 226.5,942.8" fill="#000080"/>
<polygon points="1273.5,920.2 1325.0,931.5 1273.5,942.8" fill="#800000"/>
<polygon points="226.5,920.2 1273.5,920.2 1325.0,931.5 1273.5,942.8 226.5,942.8 175.5,931.5" fill="none" stroke="#000" stroke-width="1"/>
<line x1="226.5" y1="942.8" x2="226.5" y2="948.3" stroke="#000" stroke-width="1.2"/>
<line x1="401.0" y1="942.8" x2="401.0" y2="948.3" stroke="#000" stroke-width="1.2"/>
<line x1="575.5" y1="942.8" x2="575.5" y2="948.3" stroke="#000" stroke-width="1.2"/>
<line x1="750.0" y1="942.8" x2="750.0" y2="948.3" stroke="#000" stroke-width="1.2"/>
<line x1="924.5" y1="942.8" x2="924.5" y2="948.3" stroke="#000" stroke-width="1.2"/>
<line x1="1099.0" y1="942.8" x2="1099.0" y2="948.3" stroke="#000" stroke-width="1.2"/>
<line x1="1273.5" y1="942.8" x2="1273.5" y2="948.3" stroke="#000" stroke-width="1.2"/>
<text x="1301.5" y="824" font-size="32" textLength="77.5" lengthAdjust="spacingAndGlyphs" style="fill:#231815;stroke:#231815;stroke-width:0.7">OCPC</text>
<path d="M1307.5 814 q2 -2 4 0 t4 0 M1307.5 818 q2 -2 4 0 t4 0" fill="none" stroke="#231815" stroke-width="1.2"/>
</svg></body></html>
